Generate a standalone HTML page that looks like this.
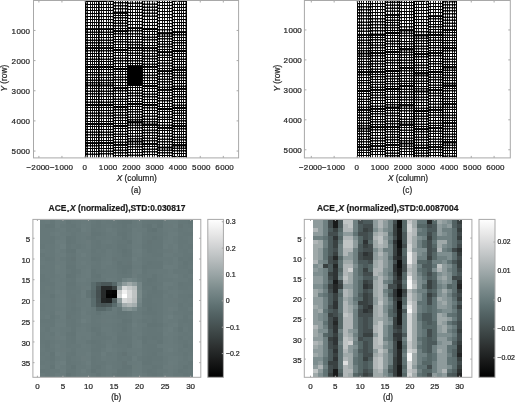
<!DOCTYPE html><html><head><meta charset="utf-8"><title>figure</title><style>html,body{margin:0;padding:0;background:#fff}svg{display:block}text{font-family:"Liberation Sans", Arial, Helvetica, sans-serif;stroke:#262626;stroke-width:0.22px}</style></head><body>
<svg width="515" height="402" viewBox="0 0 515 402">
<rect width="515" height="402" fill="#fff"/>
<defs><filter id="ctr" x="0" y="0" width="1" height="1" color-interpolation-filters="sRGB"><feComponentTransfer><feFuncR type="linear" slope="1.9" intercept="-0.35"/><feFuncG type="linear" slope="1.9" intercept="-0.35"/><feFuncB type="linear" slope="1.9" intercept="-0.35"/></feComponentTransfer></filter></defs>
<g fill="none" stroke="#000" filter="url(#ctr)">
<rect x="85.70" y="0" width="100.60" height="157.6" fill="#fff" stroke="none"/>
<path d="M87.50 0.00V29.30M90.50 0.00V29.30M92.50 0.00V29.30M94.50 0.00V29.30M96.50 0.00V29.30M87.50 29.30V48.20M90.50 29.30V48.20M92.50 29.30V48.20M94.50 29.30V48.20M96.50 29.30V48.20M87.50 48.20V67.10M90.50 48.20V67.10M92.50 48.20V67.10M94.50 48.20V67.10M96.50 48.20V67.10M87.50 67.10V85.50M90.50 67.10V85.50M92.50 67.10V85.50M94.50 67.10V85.50M96.50 67.10V85.50M87.50 85.50V105.00M90.50 85.50V105.00M92.50 85.50V105.00M94.50 85.50V105.00M96.50 85.50V105.00M87.50 105.00V124.00M90.50 105.00V124.00M92.50 105.00V124.00M94.50 105.00V124.00M96.50 105.00V124.00M87.50 124.00V143.20M90.50 124.00V143.20M92.50 124.00V143.20M94.50 124.00V143.20M96.50 124.00V143.20M87.50 143.20V157.60M90.50 143.20V157.60M92.50 143.20V157.60M94.50 143.20V157.60M96.50 143.20V157.60M101.50 0.00V29.30M103.50 0.00V29.30M106.50 0.00V29.30M108.50 0.00V29.30M110.50 0.00V29.30M101.50 29.30V48.20M103.50 29.30V48.20M106.50 29.30V48.20M108.50 29.30V48.20M110.50 29.30V48.20M101.50 48.20V67.10M103.50 48.20V67.10M106.50 48.20V67.10M108.50 48.20V67.10M110.50 48.20V67.10M101.50 67.10V85.50M103.50 67.10V85.50M106.50 67.10V85.50M108.50 67.10V85.50M110.50 67.10V85.50M101.50 85.50V105.00M103.50 85.50V105.00M106.50 85.50V105.00M108.50 85.50V105.00M110.50 85.50V105.00M101.50 105.00V124.00M103.50 105.00V124.00M106.50 105.00V124.00M108.50 105.00V124.00M110.50 105.00V124.00M101.50 124.00V143.00M103.50 124.00V143.00M106.50 124.00V143.00M108.50 124.00V143.00M110.50 124.00V143.00M101.50 143.00V157.60M103.50 143.00V157.60M106.50 143.00V157.60M108.50 143.00V157.60M110.50 143.00V157.60M115.50 0.00V12.60M118.50 0.00V12.60M120.50 0.00V12.60M122.50 0.00V12.60M125.50 0.00V12.60M115.50 12.60V31.20M118.50 12.60V31.20M120.50 12.60V31.20M122.50 12.60V31.20M125.50 12.60V31.20M115.50 31.20V50.00M118.50 31.20V50.00M120.50 31.20V50.00M122.50 31.20V50.00M125.50 31.20V50.00M115.50 50.00V69.00M118.50 50.00V69.00M120.50 50.00V69.00M122.50 50.00V69.00M125.50 50.00V69.00M115.50 69.00V88.20M118.50 69.00V88.20M120.50 69.00V88.20M122.50 69.00V88.20M125.50 69.00V88.20M115.50 88.20V107.10M118.50 88.20V107.10M120.50 88.20V107.10M122.50 88.20V107.10M125.50 88.20V107.10M115.50 107.10V126.00M118.50 107.10V126.00M120.50 107.10V126.00M122.50 107.10V126.00M125.50 107.10V126.00M115.50 126.00V144.80M118.50 126.00V144.80M120.50 126.00V144.80M122.50 126.00V144.80M125.50 126.00V144.80M115.50 144.80V157.60M118.50 144.80V157.60M120.50 144.80V157.60M122.50 144.80V157.60M125.50 144.80V157.60M130.50 0.00V28.20M132.50 0.00V28.20M135.50 0.00V28.20M137.50 0.00V28.20M139.50 0.00V28.20M130.50 28.20V47.70M132.50 28.20V47.70M135.50 28.20V47.70M137.50 28.20V47.70M139.50 28.20V47.70M130.50 47.70V66.30M132.50 47.70V66.30M135.50 47.70V66.30M137.50 47.70V66.30M139.50 47.70V66.30M130.50 66.30V85.00M132.50 66.30V85.00M135.50 66.30V85.00M137.50 66.30V85.00M139.50 66.30V85.00M130.50 85.00V104.00M132.50 85.00V104.00M135.50 85.00V104.00M137.50 85.00V104.00M139.50 85.00V104.00M130.50 104.00V122.40M132.50 104.00V122.40M135.50 104.00V122.40M137.50 104.00V122.40M139.50 104.00V122.40M130.50 122.40V141.50M132.50 122.40V141.50M135.50 122.40V141.50M137.50 122.40V141.50M139.50 122.40V141.50M130.50 141.50V157.60M132.50 141.50V157.60M135.50 141.50V157.60M137.50 141.50V157.60M139.50 141.50V157.60M144.50 0.00V29.00M147.50 0.00V29.00M149.50 0.00V29.00M152.50 0.00V29.00M154.50 0.00V29.00M144.50 29.00V48.20M147.50 29.00V48.20M149.50 29.00V48.20M152.50 29.00V48.20M154.50 29.00V48.20M144.50 48.20V66.80M147.50 48.20V66.80M149.50 48.20V66.80M152.50 48.20V66.80M154.50 48.20V66.80M144.50 66.80V86.00M147.50 66.80V86.00M149.50 66.80V86.00M152.50 66.80V86.00M154.50 66.80V86.00M144.50 86.00V105.00M147.50 86.00V105.00M149.50 86.00V105.00M152.50 86.00V105.00M154.50 86.00V105.00M144.50 105.00V124.60M147.50 105.00V124.60M149.50 105.00V124.60M152.50 105.00V124.60M154.50 105.00V124.60M144.50 124.60V143.70M147.50 124.60V143.70M149.50 124.60V143.70M152.50 124.60V143.70M154.50 124.60V143.70M144.50 143.70V157.60M147.50 143.70V157.60M149.50 143.70V157.60M152.50 143.70V157.60M154.50 143.70V157.60M159.50 0.00V33.40M162.50 0.00V33.40M164.50 0.00V33.40M167.50 0.00V33.40M169.50 0.00V33.40M159.50 33.40V52.30M162.50 33.40V52.30M164.50 33.40V52.30M167.50 33.40V52.30M169.50 33.40V52.30M159.50 52.30V71.20M162.50 52.30V71.20M164.50 52.30V71.20M167.50 52.30V71.20M169.50 52.30V71.20M159.50 71.20V89.80M162.50 71.20V89.80M164.50 71.20V89.80M167.50 71.20V89.80M169.50 71.20V89.80M159.50 89.80V109.00M162.50 89.80V109.00M164.50 89.80V109.00M167.50 89.80V109.00M169.50 89.80V109.00M159.50 109.00V127.80M162.50 109.00V127.80M164.50 109.00V127.80M167.50 109.00V127.80M169.50 109.00V127.80M159.50 127.80V147.50M162.50 127.80V147.50M164.50 127.80V147.50M167.50 127.80V147.50M169.50 127.80V147.50M159.50 147.50V157.60M162.50 147.50V157.60M164.50 147.50V157.60M167.50 147.50V157.60M169.50 147.50V157.60M174.50 0.00V32.30M177.50 0.00V32.30M179.50 0.00V32.30M181.50 0.00V32.30M183.50 0.00V32.30M174.50 32.30V51.00M177.50 32.30V51.00M179.50 32.30V51.00M181.50 32.30V51.00M183.50 32.30V51.00M174.50 51.00V69.80M177.50 51.00V69.80M179.50 51.00V69.80M181.50 51.00V69.80M183.50 51.00V69.80M174.50 69.80V88.80M177.50 69.80V88.80M179.50 69.80V88.80M181.50 69.80V88.80M183.50 69.80V88.80M174.50 88.80V107.90M177.50 88.80V107.90M179.50 88.80V107.90M181.50 88.80V107.90M183.50 88.80V107.90M174.50 107.90V126.20M177.50 107.90V126.20M179.50 107.90V126.20M181.50 107.90V126.20M183.50 107.90V126.20M174.50 126.20V145.40M177.50 126.20V145.40M179.50 126.20V145.40M181.50 126.20V145.40M183.50 126.20V145.40M174.50 145.40V157.60M177.50 145.40V157.60M179.50 145.40V157.60M181.50 145.40V157.60M183.50 145.40V157.60" stroke-width="1.00" stroke="#484848"/>
<path d="M85.70 25.65H98.80M85.70 22.60H98.80M85.70 19.55H98.80M85.70 16.50H98.80M85.70 13.45H98.80M85.70 10.40H98.80M85.70 7.35H98.80M85.70 4.30H98.80M85.70 1.25H98.80M85.70 32.00H98.80M85.70 34.70H98.80M85.70 37.40H98.80M85.70 40.10H98.80M85.70 42.80H98.80M85.70 45.50H98.80M85.70 50.90H98.80M85.70 53.60H98.80M85.70 56.30H98.80M85.70 59.00H98.80M85.70 61.70H98.80M85.70 64.40H98.80M85.70 69.73H98.80M85.70 72.36H98.80M85.70 74.99H98.80M85.70 77.61H98.80M85.70 80.24H98.80M85.70 82.87H98.80M85.70 88.29H98.80M85.70 91.07H98.80M85.70 93.86H98.80M85.70 96.64H98.80M85.70 99.43H98.80M85.70 102.21H98.80M85.70 107.71H98.80M85.70 110.43H98.80M85.70 113.14H98.80M85.70 115.86H98.80M85.70 118.57H98.80M85.70 121.29H98.80M85.70 126.74H98.80M85.70 129.49H98.80M85.70 132.23H98.80M85.70 134.97H98.80M85.70 137.71H98.80M85.70 140.46H98.80M85.70 145.92H98.80M85.70 148.64H98.80M85.70 151.36H98.80M85.70 154.08H98.80M98.80 25.65H113.40M98.80 22.60H113.40M98.80 19.55H113.40M98.80 16.50H113.40M98.80 13.45H113.40M98.80 10.40H113.40M98.80 7.35H113.40M98.80 4.30H113.40M98.80 1.25H113.40M98.80 32.00H113.40M98.80 34.70H113.40M98.80 37.40H113.40M98.80 40.10H113.40M98.80 42.80H113.40M98.80 45.50H113.40M98.80 50.90H113.40M98.80 53.60H113.40M98.80 56.30H113.40M98.80 59.00H113.40M98.80 61.70H113.40M98.80 64.40H113.40M98.80 69.73H113.40M98.80 72.36H113.40M98.80 74.99H113.40M98.80 77.61H113.40M98.80 80.24H113.40M98.80 82.87H113.40M98.80 88.29H113.40M98.80 91.07H113.40M98.80 93.86H113.40M98.80 96.64H113.40M98.80 99.43H113.40M98.80 102.21H113.40M98.80 107.71H113.40M98.80 110.43H113.40M98.80 113.14H113.40M98.80 115.86H113.40M98.80 118.57H113.40M98.80 121.29H113.40M98.80 126.71H113.40M98.80 129.43H113.40M98.80 132.14H113.40M98.80 134.86H113.40M98.80 137.57H113.40M98.80 140.29H113.40M98.80 145.72H113.40M98.80 148.44H113.40M98.80 151.16H113.40M98.80 153.88H113.40M113.40 8.95H127.60M113.40 5.90H127.60M113.40 2.85H127.60M113.40 -0.20H127.60M113.40 15.26H127.60M113.40 17.91H127.60M113.40 20.57H127.60M113.40 23.23H127.60M113.40 25.89H127.60M113.40 28.54H127.60M113.40 33.89H127.60M113.40 36.57H127.60M113.40 39.26H127.60M113.40 41.94H127.60M113.40 44.63H127.60M113.40 47.31H127.60M113.40 52.71H127.60M113.40 55.43H127.60M113.40 58.14H127.60M113.40 60.86H127.60M113.40 63.57H127.60M113.40 66.29H127.60M113.40 71.74H127.60M113.40 74.49H127.60M113.40 77.23H127.60M113.40 79.97H127.60M113.40 82.71H127.60M113.40 85.46H127.60M113.40 90.90H127.60M113.40 93.60H127.60M113.40 96.30H127.60M113.40 99.00H127.60M113.40 101.70H127.60M113.40 104.40H127.60M113.40 109.80H127.60M113.40 112.50H127.60M113.40 115.20H127.60M113.40 117.90H127.60M113.40 120.60H127.60M113.40 123.30H127.60M113.40 128.69H127.60M113.40 131.37H127.60M113.40 134.06H127.60M113.40 136.74H127.60M113.40 139.43H127.60M113.40 142.11H127.60M113.40 147.52H127.60M113.40 150.24H127.60M113.40 152.96H127.60M113.40 155.68H127.60M127.60 24.55H142.40M127.60 21.50H142.40M127.60 18.45H142.40M127.60 15.40H142.40M127.60 12.35H142.40M127.60 9.30H142.40M127.60 6.25H142.40M127.60 3.20H142.40M127.60 0.15H142.40M127.60 30.99H142.40M127.60 33.77H142.40M127.60 36.56H142.40M127.60 39.34H142.40M127.60 42.13H142.40M127.60 44.91H142.40M127.60 50.36H142.40M127.60 53.01H142.40M127.60 55.67H142.40M127.60 58.33H142.40M127.60 60.99H142.40M127.60 63.64H142.40M127.60 68.97H142.40M127.60 71.64H142.40M127.60 74.31H142.40M127.60 76.99H142.40M127.60 79.66H142.40M127.60 82.33H142.40M127.60 87.71H142.40M127.60 90.43H142.40M127.60 93.14H142.40M127.60 95.86H142.40M127.60 98.57H142.40M127.60 101.29H142.40M127.60 106.63H142.40M127.60 109.26H142.40M127.60 111.89H142.40M127.60 114.51H142.40M127.60 117.14H142.40M127.60 119.77H142.40M127.60 125.13H142.40M127.60 127.86H142.40M127.60 130.59H142.40M127.60 133.31H142.40M127.60 136.04H142.40M127.60 138.77H142.40M127.60 144.22H142.40M127.60 146.94H142.40M127.60 149.66H142.40M127.60 152.38H142.40M127.60 155.10H142.40M142.40 25.35H157.50M142.40 22.30H157.50M142.40 19.25H157.50M142.40 16.20H157.50M142.40 13.15H157.50M142.40 10.10H157.50M142.40 7.05H157.50M142.40 4.00H157.50M142.40 0.95H157.50M142.40 31.74H157.50M142.40 34.49H157.50M142.40 37.23H157.50M142.40 39.97H157.50M142.40 42.71H157.50M142.40 45.46H157.50M142.40 50.86H157.50M142.40 53.51H157.50M142.40 56.17H157.50M142.40 58.83H157.50M142.40 61.49H157.50M142.40 64.14H157.50M142.40 69.54H157.50M142.40 72.29H157.50M142.40 75.03H157.50M142.40 77.77H157.50M142.40 80.51H157.50M142.40 83.26H157.50M142.40 88.71H157.50M142.40 91.43H157.50M142.40 94.14H157.50M142.40 96.86H157.50M142.40 99.57H157.50M142.40 102.29H157.50M142.40 107.80H157.50M142.40 110.60H157.50M142.40 113.40H157.50M142.40 116.20H157.50M142.40 119.00H157.50M142.40 121.80H157.50M142.40 127.33H157.50M142.40 130.06H157.50M142.40 132.79H157.50M142.40 135.51H157.50M142.40 138.24H157.50M142.40 140.97H157.50M142.40 146.42H157.50M142.40 149.14H157.50M142.40 151.86H157.50M142.40 154.58H157.50M157.50 29.75H172.40M157.50 26.70H172.40M157.50 23.65H172.40M157.50 20.60H172.40M157.50 17.55H172.40M157.50 14.50H172.40M157.50 11.45H172.40M157.50 8.40H172.40M157.50 5.35H172.40M157.50 2.30H172.40M157.50 -0.75H172.40M157.50 36.10H172.40M157.50 38.80H172.40M157.50 41.50H172.40M157.50 44.20H172.40M157.50 46.90H172.40M157.50 49.60H172.40M157.50 55.00H172.40M157.50 57.70H172.40M157.50 60.40H172.40M157.50 63.10H172.40M157.50 65.80H172.40M157.50 68.50H172.40M157.50 73.86H172.40M157.50 76.51H172.40M157.50 79.17H172.40M157.50 81.83H172.40M157.50 84.49H172.40M157.50 87.14H172.40M157.50 92.54H172.40M157.50 95.29H172.40M157.50 98.03H172.40M157.50 100.77H172.40M157.50 103.51H172.40M157.50 106.26H172.40M157.50 111.69H172.40M157.50 114.37H172.40M157.50 117.06H172.40M157.50 119.74H172.40M157.50 122.43H172.40M157.50 125.11H172.40M157.50 130.61H172.40M157.50 133.43H172.40M157.50 136.24H172.40M157.50 139.06H172.40M157.50 141.87H172.40M157.50 144.69H172.40M157.50 150.22H172.40M157.50 152.94H172.40M157.50 155.66H172.40M172.40 28.65H186.30M172.40 25.60H186.30M172.40 22.55H186.30M172.40 19.50H186.30M172.40 16.45H186.30M172.40 13.40H186.30M172.40 10.35H186.30M172.40 7.30H186.30M172.40 4.25H186.30M172.40 1.20H186.30M172.40 34.97H186.30M172.40 37.64H186.30M172.40 40.31H186.30M172.40 42.99H186.30M172.40 45.66H186.30M172.40 48.33H186.30M172.40 53.69H186.30M172.40 56.37H186.30M172.40 59.06H186.30M172.40 61.74H186.30M172.40 64.43H186.30M172.40 67.11H186.30M172.40 72.51H186.30M172.40 75.23H186.30M172.40 77.94H186.30M172.40 80.66H186.30M172.40 83.37H186.30M172.40 86.09H186.30M172.40 91.53H186.30M172.40 94.26H186.30M172.40 96.99H186.30M172.40 99.71H186.30M172.40 102.44H186.30M172.40 105.17H186.30M172.40 110.51H186.30M172.40 113.13H186.30M172.40 115.74H186.30M172.40 118.36H186.30M172.40 120.97H186.30M172.40 123.59H186.30M172.40 128.94H186.30M172.40 131.69H186.30M172.40 134.43H186.30M172.40 137.17H186.30M172.40 139.91H186.30M172.40 142.66H186.30M172.40 148.12H186.30M172.40 150.84H186.30M172.40 153.56H186.30M172.40 156.28H186.30" stroke-width="1.25"/>
<path d="M85.70 29.30H98.80M85.70 48.20H98.80M85.70 67.10H98.80M85.70 85.50H98.80M85.70 105.00H98.80M85.70 124.00H98.80M85.70 143.20H98.80M98.80 29.30H113.40M98.80 48.20H113.40M98.80 67.10H113.40M98.80 85.50H113.40M98.80 105.00H113.40M98.80 124.00H113.40M98.80 143.00H113.40M113.40 12.60H127.60M113.40 31.20H127.60M113.40 50.00H127.60M113.40 69.00H127.60M113.40 88.20H127.60M113.40 107.10H127.60M113.40 126.00H127.60M113.40 144.80H127.60M127.60 28.20H142.40M127.60 47.70H142.40M127.60 66.30H142.40M127.60 85.00H142.40M127.60 104.00H142.40M127.60 122.40H142.40M127.60 141.50H142.40M142.40 29.00H157.50M142.40 48.20H157.50M142.40 66.80H157.50M142.40 86.00H157.50M142.40 105.00H157.50M142.40 124.60H157.50M142.40 143.70H157.50M157.50 33.40H172.40M157.50 52.30H172.40M157.50 71.20H172.40M157.50 89.80H172.40M157.50 109.00H172.40M157.50 127.80H172.40M157.50 147.50H172.40M172.40 32.30H186.30M172.40 51.00H186.30M172.40 69.80H186.30M172.40 88.80H186.30M172.40 107.90H186.30M172.40 126.20H186.30M172.40 145.40H186.30" stroke-width="2.10"/>
<path d="M85.70 0.00V157.60M98.80 0.00V157.60M113.40 0.00V157.60M127.60 0.00V157.60M142.40 0.00V157.60M157.50 0.00V157.60M172.40 0.00V157.60M186.30 0.00V157.60" stroke-width="1.60"/>
</g>
<rect x="127.7" y="66.3" width="14.8" height="18.7" fill="#000"/>
<rect x="33.50" y="0.50" width="205.10" height="157.40" fill="none" stroke="#a8a8a8" stroke-width="1"/>
<path d="M38.90 157.90v-2M38.90 0.50v2M61.95 157.90v-2M61.95 0.50v2M85.00 157.90v-2M85.00 0.50v2M108.05 157.90v-2M108.05 0.50v2M131.10 157.90v-2M131.10 0.50v2M154.15 157.90v-2M154.15 0.50v2M177.20 157.90v-2M177.20 0.50v2M200.25 157.90v-2M200.25 0.50v2M223.30 157.90v-2M223.30 0.50v2M33.50 30.45h2M238.60 30.45h-2M33.50 60.60h2M238.60 60.60h-2M33.50 90.75h2M238.60 90.75h-2M33.50 120.90h2M238.60 120.90h-2M33.50 151.05h2M238.60 151.05h-2" stroke="#a8a8a8" stroke-width="1" fill="none"/>
<text x="38.10" y="169.8" font-size="8" text-anchor="middle" fill="#262626">−2<tspan dx="0.5">000</tspan></text>
<text x="61.40" y="169.8" font-size="8" text-anchor="middle" fill="#262626">−1<tspan dx="0.5">000</tspan></text>
<text x="84.70" y="169.8" font-size="8" text-anchor="middle" fill="#262626">0</text>
<text x="108.00" y="169.8" font-size="8" text-anchor="middle" fill="#262626">1<tspan dx="0.5">000</tspan></text>
<text x="131.30" y="169.8" font-size="8" text-anchor="middle" fill="#262626">2<tspan dx="0.5">000</tspan></text>
<text x="154.60" y="169.8" font-size="8" text-anchor="middle" fill="#262626">3<tspan dx="0.5">000</tspan></text>
<text x="177.90" y="169.8" font-size="8" text-anchor="middle" fill="#262626">4<tspan dx="0.5">000</tspan></text>
<text x="201.20" y="169.8" font-size="8" text-anchor="middle" fill="#262626">5<tspan dx="0.5">000</tspan></text>
<text x="224.50" y="169.8" font-size="8" text-anchor="middle" fill="#262626">6<tspan dx="0.5">000</tspan></text>
<text x="29.90" y="33.55" font-size="8" text-anchor="end" fill="#262626">1<tspan dx="0.5">000</tspan></text>
<text x="29.90" y="63.70" font-size="8" text-anchor="end" fill="#262626">2<tspan dx="0.5">000</tspan></text>
<text x="29.90" y="93.85" font-size="8" text-anchor="end" fill="#262626">3<tspan dx="0.5">000</tspan></text>
<text x="29.90" y="124.00" font-size="8" text-anchor="end" fill="#262626">4<tspan dx="0.5">000</tspan></text>
<text x="29.90" y="154.15" font-size="8" text-anchor="end" fill="#262626">5<tspan dx="0.5">000</tspan></text>
<text x="136.75" y="181.4" font-size="8.3" text-anchor="middle" fill="#262626"><tspan font-style="italic">X</tspan> (column)</text>
<text x="136.05" y="192.8" font-size="8.2" text-anchor="middle" fill="#262626">(a)</text>
<text transform="translate(7.40 78.2) rotate(-90)" font-size="8.3" text-anchor="middle" fill="#262626"><tspan font-style="italic">Y</tspan> (row)</text>
<g fill="none" stroke="#000" filter="url(#ctr)">
<rect x="357.40" y="0" width="99.40" height="157.6" fill="#fff" stroke="none"/>
<path d="M359.50 0.00V34.80M361.50 0.00V34.80M363.50 0.00V34.80M366.50 0.00V34.80M368.50 0.00V34.80M359.50 34.80V53.50M361.50 34.80V53.50M363.50 34.80V53.50M366.50 34.80V53.50M368.50 34.80V53.50M359.50 53.50V72.30M361.50 53.50V72.30M363.50 53.50V72.30M366.50 53.50V72.30M368.50 53.50V72.30M359.50 72.30V91.00M361.50 72.30V91.00M363.50 72.30V91.00M366.50 72.30V91.00M368.50 72.30V91.00M359.50 91.00V109.80M361.50 91.00V109.80M363.50 91.00V109.80M366.50 91.00V109.80M368.50 91.00V109.80M359.50 109.80V128.50M361.50 109.80V128.50M363.50 109.80V128.50M366.50 109.80V128.50M368.50 109.80V128.50M359.50 128.50V147.30M361.50 128.50V147.30M363.50 128.50V147.30M366.50 128.50V147.30M368.50 128.50V147.30M359.50 147.30V157.60M361.50 147.30V157.60M363.50 147.30V157.60M366.50 147.30V157.60M368.50 147.30V157.60M372.50 0.00V34.60M375.50 0.00V34.60M377.50 0.00V34.60M380.50 0.00V34.60M382.50 0.00V34.60M372.50 34.60V53.20M375.50 34.60V53.20M377.50 34.60V53.20M380.50 34.60V53.20M382.50 34.60V53.20M372.50 53.20V71.70M375.50 53.20V71.70M377.50 53.20V71.70M380.50 53.20V71.70M382.50 53.20V71.70M372.50 71.70V89.80M375.50 71.70V89.80M377.50 71.70V89.80M380.50 71.70V89.80M382.50 71.70V89.80M372.50 89.80V108.70M375.50 89.80V108.70M377.50 89.80V108.70M380.50 89.80V108.70M382.50 89.80V108.70M372.50 108.70V127.20M375.50 108.70V127.20M377.50 108.70V127.20M380.50 108.70V127.20M382.50 108.70V127.20M372.50 127.20V146.30M375.50 127.20V146.30M377.50 127.20V146.30M380.50 127.20V146.30M382.50 127.20V146.30M372.50 146.30V157.60M375.50 146.30V157.60M377.50 146.30V157.60M380.50 146.30V157.60M382.50 146.30V157.60M387.50 0.00V14.80M390.50 0.00V14.80M392.50 0.00V14.80M394.50 0.00V14.80M397.50 0.00V14.80M387.50 14.80V33.00M390.50 14.80V33.00M392.50 14.80V33.00M394.50 14.80V33.00M397.50 14.80V33.00M387.50 33.00V52.00M390.50 33.00V52.00M392.50 33.00V52.00M394.50 33.00V52.00M397.50 33.00V52.00M387.50 52.00V71.00M390.50 52.00V71.00M392.50 52.00V71.00M394.50 52.00V71.00M397.50 52.00V71.00M387.50 71.00V89.10M390.50 71.00V89.10M392.50 71.00V89.10M394.50 71.00V89.10M397.50 71.00V89.10M387.50 89.10V107.60M390.50 89.10V107.60M392.50 89.10V107.60M394.50 89.10V107.60M397.50 89.10V107.60M387.50 107.60V126.70M390.50 107.60V126.70M392.50 107.60V126.70M394.50 107.60V126.70M397.50 107.60V126.70M387.50 126.70V145.00M390.50 126.70V145.00M392.50 126.70V145.00M394.50 126.70V145.00M397.50 126.70V145.00M387.50 145.00V157.60M390.50 145.00V157.60M392.50 145.00V157.60M394.50 145.00V157.60M397.50 145.00V157.60M401.50 0.00V30.40M404.50 0.00V30.40M406.50 0.00V30.40M409.50 0.00V30.40M411.50 0.00V30.40M401.50 30.40V49.40M404.50 30.40V49.40M406.50 30.40V49.40M409.50 30.40V49.40M411.50 30.40V49.40M401.50 49.40V68.20M404.50 49.40V68.20M406.50 49.40V68.20M409.50 49.40V68.20M411.50 49.40V68.20M401.50 68.20V86.30M404.50 68.20V86.30M406.50 68.20V86.30M409.50 68.20V86.30M411.50 68.20V86.30M401.50 86.30V105.40M404.50 86.30V105.40M406.50 86.30V105.40M409.50 86.30V105.40M411.50 86.30V105.40M401.50 105.40V124.60M404.50 105.40V124.60M406.50 105.40V124.60M409.50 105.40V124.60M411.50 105.40V124.60M401.50 124.60V143.50M404.50 124.60V143.50M406.50 124.60V143.50M409.50 124.60V143.50M411.50 124.60V143.50M401.50 143.50V157.60M404.50 143.50V157.60M406.50 143.50V157.60M409.50 143.50V157.60M411.50 143.50V157.60M416.50 0.00V35.40M418.50 0.00V35.40M421.50 0.00V35.40M423.50 0.00V35.40M426.50 0.00V35.40M416.50 35.40V54.20M418.50 35.40V54.20M421.50 35.40V54.20M423.50 35.40V54.20M426.50 35.40V54.20M416.50 54.20V73.40M418.50 54.20V73.40M421.50 54.20V73.40M423.50 54.20V73.40M426.50 54.20V73.40M416.50 73.40V91.50M418.50 73.40V91.50M421.50 73.40V91.50M423.50 73.40V91.50M426.50 73.40V91.50M416.50 91.50V110.90M418.50 91.50V110.90M421.50 91.50V110.90M423.50 91.50V110.90M426.50 91.50V110.90M416.50 110.90V129.30M418.50 110.90V129.30M421.50 110.90V129.30M423.50 110.90V129.30M426.50 110.90V129.30M416.50 129.30V147.80M418.50 129.30V147.80M421.50 129.30V147.80M423.50 129.30V147.80M426.50 129.30V147.80M416.50 147.80V157.60M418.50 147.80V157.60M421.50 147.80V157.60M423.50 147.80V157.60M426.50 147.80V157.60M430.50 0.00V16.30M433.50 0.00V16.30M435.50 0.00V16.30M438.50 0.00V16.30M440.50 0.00V16.30M430.50 16.30V34.90M433.50 16.30V34.90M435.50 16.30V34.90M438.50 16.30V34.90M440.50 16.30V34.90M430.50 34.90V53.20M433.50 34.90V53.20M435.50 34.90V53.20M438.50 34.90V53.20M440.50 34.90V53.20M430.50 53.20V72.00M433.50 53.20V72.00M435.50 53.20V72.00M438.50 53.20V72.00M440.50 53.20V72.00M430.50 72.00V90.20M433.50 72.00V90.20M435.50 72.00V90.20M438.50 72.00V90.20M440.50 72.00V90.20M430.50 90.20V109.80M433.50 90.20V109.80M435.50 90.20V109.80M438.50 90.20V109.80M440.50 90.20V109.80M430.50 109.80V128.30M433.50 109.80V128.30M435.50 109.80V128.30M438.50 109.80V128.30M440.50 109.80V128.30M430.50 128.30V147.20M433.50 128.30V147.20M435.50 128.30V147.20M438.50 128.30V147.20M440.50 128.30V147.20M430.50 147.20V157.60M433.50 147.20V157.60M435.50 147.20V157.60M438.50 147.20V157.60M440.50 147.20V157.60M445.50 0.00V29.80M447.50 0.00V29.80M449.50 0.00V29.80M452.50 0.00V29.80M454.50 0.00V29.80M445.50 29.80V48.20M447.50 29.80V48.20M449.50 29.80V48.20M452.50 29.80V48.20M454.50 29.80V48.20M445.50 48.20V67.40M447.50 48.20V67.40M449.50 48.20V67.40M452.50 48.20V67.40M454.50 48.20V67.40M445.50 67.40V85.60M447.50 67.40V85.60M449.50 67.40V85.60M452.50 67.40V85.60M454.50 67.40V85.60M445.50 85.60V104.30M447.50 85.60V104.30M449.50 85.60V104.30M452.50 85.60V104.30M454.50 85.60V104.30M445.50 104.30V123.30M447.50 104.30V123.30M449.50 104.30V123.30M452.50 104.30V123.30M454.50 104.30V123.30M445.50 123.30V142.40M447.50 123.30V142.40M449.50 123.30V142.40M452.50 123.30V142.40M454.50 123.30V142.40M445.50 142.40V157.60M447.50 142.40V157.60M449.50 142.40V157.60M452.50 142.40V157.60M454.50 142.40V157.60" stroke-width="1.00" stroke="#484848"/>
<path d="M357.40 31.15H370.50M357.40 28.10H370.50M357.40 25.05H370.50M357.40 22.00H370.50M357.40 18.95H370.50M357.40 15.90H370.50M357.40 12.85H370.50M357.40 9.80H370.50M357.40 6.75H370.50M357.40 3.70H370.50M357.40 0.65H370.50M357.40 37.47H370.50M357.40 40.14H370.50M357.40 42.81H370.50M357.40 45.49H370.50M357.40 48.16H370.50M357.40 50.83H370.50M357.40 56.19H370.50M357.40 58.87H370.50M357.40 61.56H370.50M357.40 64.24H370.50M357.40 66.93H370.50M357.40 69.61H370.50M357.40 74.97H370.50M357.40 77.64H370.50M357.40 80.31H370.50M357.40 82.99H370.50M357.40 85.66H370.50M357.40 88.33H370.50M357.40 93.69H370.50M357.40 96.37H370.50M357.40 99.06H370.50M357.40 101.74H370.50M357.40 104.43H370.50M357.40 107.11H370.50M357.40 112.47H370.50M357.40 115.14H370.50M357.40 117.81H370.50M357.40 120.49H370.50M357.40 123.16H370.50M357.40 125.83H370.50M357.40 131.19H370.50M357.40 133.87H370.50M357.40 136.56H370.50M357.40 139.24H370.50M357.40 141.93H370.50M357.40 144.61H370.50M357.40 150.02H370.50M357.40 152.74H370.50M357.40 155.46H370.50M370.50 30.95H385.30M370.50 27.90H385.30M370.50 24.85H385.30M370.50 21.80H385.30M370.50 18.75H385.30M370.50 15.70H385.30M370.50 12.65H385.30M370.50 9.60H385.30M370.50 6.55H385.30M370.50 3.50H385.30M370.50 0.45H385.30M370.50 37.26H385.30M370.50 39.91H385.30M370.50 42.57H385.30M370.50 45.23H385.30M370.50 47.89H385.30M370.50 50.54H385.30M370.50 55.84H385.30M370.50 58.49H385.30M370.50 61.13H385.30M370.50 63.77H385.30M370.50 66.41H385.30M370.50 69.06H385.30M370.50 74.29H385.30M370.50 76.87H385.30M370.50 79.46H385.30M370.50 82.04H385.30M370.50 84.63H385.30M370.50 87.21H385.30M370.50 92.50H385.30M370.50 95.20H385.30M370.50 97.90H385.30M370.50 100.60H385.30M370.50 103.30H385.30M370.50 106.00H385.30M370.50 111.34H385.30M370.50 113.99H385.30M370.50 116.63H385.30M370.50 119.27H385.30M370.50 121.91H385.30M370.50 124.56H385.30M370.50 129.93H385.30M370.50 132.66H385.30M370.50 135.39H385.30M370.50 138.11H385.30M370.50 140.84H385.30M370.50 143.57H385.30M370.50 149.02H385.30M370.50 151.74H385.30M370.50 154.46H385.30M385.30 11.15H399.50M385.30 8.10H399.50M385.30 5.05H399.50M385.30 2.00H399.50M385.30 17.40H399.50M385.30 20.00H399.50M385.30 22.60H399.50M385.30 25.20H399.50M385.30 27.80H399.50M385.30 30.40H399.50M385.30 35.71H399.50M385.30 38.43H399.50M385.30 41.14H399.50M385.30 43.86H399.50M385.30 46.57H399.50M385.30 49.29H399.50M385.30 54.71H399.50M385.30 57.43H399.50M385.30 60.14H399.50M385.30 62.86H399.50M385.30 65.57H399.50M385.30 68.29H399.50M385.30 73.59H399.50M385.30 76.17H399.50M385.30 78.76H399.50M385.30 81.34H399.50M385.30 83.93H399.50M385.30 86.51H399.50M385.30 91.74H399.50M385.30 94.39H399.50M385.30 97.03H399.50M385.30 99.67H399.50M385.30 102.31H399.50M385.30 104.96H399.50M385.30 110.33H399.50M385.30 113.06H399.50M385.30 115.79H399.50M385.30 118.51H399.50M385.30 121.24H399.50M385.30 123.97H399.50M385.30 129.31H399.50M385.30 131.93H399.50M385.30 134.54H399.50M385.30 137.16H399.50M385.30 139.77H399.50M385.30 142.39H399.50M385.30 147.72H399.50M385.30 150.44H399.50M385.30 153.16H399.50M385.30 155.88H399.50M399.50 26.75H414.00M399.50 23.70H414.00M399.50 20.65H414.00M399.50 17.60H414.00M399.50 14.55H414.00M399.50 11.50H414.00M399.50 8.45H414.00M399.50 5.40H414.00M399.50 2.35H414.00M399.50 -0.70H414.00M399.50 33.11H414.00M399.50 35.83H414.00M399.50 38.54H414.00M399.50 41.26H414.00M399.50 43.97H414.00M399.50 46.69H414.00M399.50 52.09H414.00M399.50 54.77H414.00M399.50 57.46H414.00M399.50 60.14H414.00M399.50 62.83H414.00M399.50 65.51H414.00M399.50 70.79H414.00M399.50 73.37H414.00M399.50 75.96H414.00M399.50 78.54H414.00M399.50 81.13H414.00M399.50 83.71H414.00M399.50 89.03H414.00M399.50 91.76H414.00M399.50 94.49H414.00M399.50 97.21H414.00M399.50 99.94H414.00M399.50 102.67H414.00M399.50 108.14H414.00M399.50 110.89H414.00M399.50 113.63H414.00M399.50 116.37H414.00M399.50 119.11H414.00M399.50 121.86H414.00M399.50 127.30H414.00M399.50 130.00H414.00M399.50 132.70H414.00M399.50 135.40H414.00M399.50 138.10H414.00M399.50 140.80H414.00M399.50 146.22H414.00M399.50 148.94H414.00M399.50 151.66H414.00M399.50 154.38H414.00M414.00 31.75H428.50M414.00 28.70H428.50M414.00 25.65H428.50M414.00 22.60H428.50M414.00 19.55H428.50M414.00 16.50H428.50M414.00 13.45H428.50M414.00 10.40H428.50M414.00 7.35H428.50M414.00 4.30H428.50M414.00 1.25H428.50M414.00 38.09H428.50M414.00 40.77H428.50M414.00 43.46H428.50M414.00 46.14H428.50M414.00 48.83H428.50M414.00 51.51H428.50M414.00 56.94H428.50M414.00 59.69H428.50M414.00 62.43H428.50M414.00 65.17H428.50M414.00 67.91H428.50M414.00 70.66H428.50M414.00 75.99H428.50M414.00 78.57H428.50M414.00 81.16H428.50M414.00 83.74H428.50M414.00 86.33H428.50M414.00 88.91H428.50M414.00 94.27H428.50M414.00 97.04H428.50M414.00 99.81H428.50M414.00 102.59H428.50M414.00 105.36H428.50M414.00 108.13H428.50M414.00 113.53H428.50M414.00 116.16H428.50M414.00 118.79H428.50M414.00 121.41H428.50M414.00 124.04H428.50M414.00 126.67H428.50M414.00 131.94H428.50M414.00 134.59H428.50M414.00 137.23H428.50M414.00 139.87H428.50M414.00 142.51H428.50M414.00 145.16H428.50M414.00 150.52H428.50M414.00 153.24H428.50M414.00 155.96H428.50M428.50 12.65H442.80M428.50 9.60H442.80M428.50 6.55H442.80M428.50 3.50H442.80M428.50 0.45H442.80M428.50 18.96H442.80M428.50 21.61H442.80M428.50 24.27H442.80M428.50 26.93H442.80M428.50 29.59H442.80M428.50 32.24H442.80M428.50 37.51H442.80M428.50 40.13H442.80M428.50 42.74H442.80M428.50 45.36H442.80M428.50 47.97H442.80M428.50 50.59H442.80M428.50 55.89H442.80M428.50 58.57H442.80M428.50 61.26H442.80M428.50 63.94H442.80M428.50 66.63H442.80M428.50 69.31H442.80M428.50 74.60H442.80M428.50 77.20H442.80M428.50 79.80H442.80M428.50 82.40H442.80M428.50 85.00H442.80M428.50 87.60H442.80M428.50 93.00H442.80M428.50 95.80H442.80M428.50 98.60H442.80M428.50 101.40H442.80M428.50 104.20H442.80M428.50 107.00H442.80M428.50 112.44H442.80M428.50 115.09H442.80M428.50 117.73H442.80M428.50 120.37H442.80M428.50 123.01H442.80M428.50 125.66H442.80M428.50 131.00H442.80M428.50 133.70H442.80M428.50 136.40H442.80M428.50 139.10H442.80M428.50 141.80H442.80M428.50 144.50H442.80M428.50 149.92H442.80M428.50 152.64H442.80M428.50 155.36H442.80M442.80 26.15H456.80M442.80 23.10H456.80M442.80 20.05H456.80M442.80 17.00H456.80M442.80 13.95H456.80M442.80 10.90H456.80M442.80 7.85H456.80M442.80 4.80H456.80M442.80 1.75H456.80M442.80 32.43H456.80M442.80 35.06H456.80M442.80 37.69H456.80M442.80 40.31H456.80M442.80 42.94H456.80M442.80 45.57H456.80M442.80 50.94H456.80M442.80 53.69H456.80M442.80 56.43H456.80M442.80 59.17H456.80M442.80 61.91H456.80M442.80 64.66H456.80M442.80 70.00H456.80M442.80 72.60H456.80M442.80 75.20H456.80M442.80 77.80H456.80M442.80 80.40H456.80M442.80 83.00H456.80M442.80 88.27H456.80M442.80 90.94H456.80M442.80 93.61H456.80M442.80 96.29H456.80M442.80 98.96H456.80M442.80 101.63H456.80M442.80 107.01H456.80M442.80 109.73H456.80M442.80 112.44H456.80M442.80 115.16H456.80M442.80 117.87H456.80M442.80 120.59H456.80M442.80 126.03H456.80M442.80 128.76H456.80M442.80 131.49H456.80M442.80 134.21H456.80M442.80 136.94H456.80M442.80 139.67H456.80M442.80 145.12H456.80M442.80 147.84H456.80M442.80 150.56H456.80M442.80 153.28H456.80M442.80 156.00H456.80" stroke-width="1.25"/>
<path d="M357.40 34.80H370.50M357.40 53.50H370.50M357.40 72.30H370.50M357.40 91.00H370.50M357.40 109.80H370.50M357.40 128.50H370.50M357.40 147.30H370.50M370.50 34.60H385.30M370.50 53.20H385.30M370.50 71.70H385.30M370.50 89.80H385.30M370.50 108.70H385.30M370.50 127.20H385.30M370.50 146.30H385.30M385.30 14.80H399.50M385.30 33.00H399.50M385.30 52.00H399.50M385.30 71.00H399.50M385.30 89.10H399.50M385.30 107.60H399.50M385.30 126.70H399.50M385.30 145.00H399.50M399.50 30.40H414.00M399.50 49.40H414.00M399.50 68.20H414.00M399.50 86.30H414.00M399.50 105.40H414.00M399.50 124.60H414.00M399.50 143.50H414.00M414.00 35.40H428.50M414.00 54.20H428.50M414.00 73.40H428.50M414.00 91.50H428.50M414.00 110.90H428.50M414.00 129.30H428.50M414.00 147.80H428.50M428.50 16.30H442.80M428.50 34.90H442.80M428.50 53.20H442.80M428.50 72.00H442.80M428.50 90.20H442.80M428.50 109.80H442.80M428.50 128.30H442.80M428.50 147.20H442.80M442.80 29.80H456.80M442.80 48.20H456.80M442.80 67.40H456.80M442.80 85.60H456.80M442.80 104.30H456.80M442.80 123.30H456.80M442.80 142.40H456.80" stroke-width="2.10"/>
<path d="M357.40 0.00V157.60M370.50 0.00V157.60M385.30 0.00V157.60M399.50 0.00V157.60M414.00 0.00V157.60M428.50 0.00V157.60M442.80 0.00V157.60M456.80 0.00V157.60" stroke-width="1.60"/>
</g>
<rect x="304.40" y="0.50" width="205.90" height="157.40" fill="none" stroke="#a8a8a8" stroke-width="1"/>
<path d="M311.30 157.90v-2M311.30 0.50v2M334.15 157.90v-2M334.15 0.50v2M357.00 157.90v-2M357.00 0.50v2M379.85 157.90v-2M379.85 0.50v2M402.70 157.90v-2M402.70 0.50v2M425.55 157.90v-2M425.55 0.50v2M448.40 157.90v-2M448.40 0.50v2M471.25 157.90v-2M471.25 0.50v2M494.10 157.90v-2M494.10 0.50v2M304.40 29.95h2M510.30 29.95h-2M304.40 59.90h2M510.30 59.90h-2M304.40 89.85h2M510.30 89.85h-2M304.40 119.80h2M510.30 119.80h-2M304.40 149.75h2M510.30 149.75h-2" stroke="#a8a8a8" stroke-width="1" fill="none"/>
<text x="310.50" y="169.8" font-size="8" text-anchor="middle" fill="#262626">−2<tspan dx="0.5">000</tspan></text>
<text x="333.60" y="169.8" font-size="8" text-anchor="middle" fill="#262626">−1<tspan dx="0.5">000</tspan></text>
<text x="356.70" y="169.8" font-size="8" text-anchor="middle" fill="#262626">0</text>
<text x="379.80" y="169.8" font-size="8" text-anchor="middle" fill="#262626">1<tspan dx="0.5">000</tspan></text>
<text x="402.90" y="169.8" font-size="8" text-anchor="middle" fill="#262626">2<tspan dx="0.5">000</tspan></text>
<text x="426.00" y="169.8" font-size="8" text-anchor="middle" fill="#262626">3<tspan dx="0.5">000</tspan></text>
<text x="449.10" y="169.8" font-size="8" text-anchor="middle" fill="#262626">4<tspan dx="0.5">000</tspan></text>
<text x="472.20" y="169.8" font-size="8" text-anchor="middle" fill="#262626">5<tspan dx="0.5">000</tspan></text>
<text x="495.30" y="169.8" font-size="8" text-anchor="middle" fill="#262626">6<tspan dx="0.5">000</tspan></text>
<text x="301.80" y="33.05" font-size="8" text-anchor="end" fill="#262626">1<tspan dx="0.5">000</tspan></text>
<text x="301.80" y="63.00" font-size="8" text-anchor="end" fill="#262626">2<tspan dx="0.5">000</tspan></text>
<text x="301.80" y="92.95" font-size="8" text-anchor="end" fill="#262626">3<tspan dx="0.5">000</tspan></text>
<text x="301.80" y="122.90" font-size="8" text-anchor="end" fill="#262626">4<tspan dx="0.5">000</tspan></text>
<text x="301.80" y="152.85" font-size="8" text-anchor="end" fill="#262626">5<tspan dx="0.5">000</tspan></text>
<text x="408.05" y="181.4" font-size="8.3" text-anchor="middle" fill="#262626"><tspan font-style="italic">X</tspan> (column)</text>
<text x="407.35" y="192.8" font-size="8.2" text-anchor="middle" fill="#262626">(c)</text>
<text transform="translate(280.40 78.2) rotate(-90)" font-size="8.3" text-anchor="middle" fill="#262626"><tspan font-style="italic">Y</tspan> (row)</text>
<g shape-rendering="crispEdges">
<rect x="40.00" y="219.60" width="5.16" height="4.20" fill="#67797a"/>
<rect x="45.11" y="219.60" width="5.16" height="4.20" fill="#687a7b"/>
<rect x="50.21" y="219.60" width="5.16" height="4.20" fill="#657778"/>
<rect x="55.32" y="219.60" width="5.16" height="4.20" fill="#6a7c7d"/>
<rect x="60.43" y="219.60" width="5.16" height="4.20" fill="#697b7c"/>
<rect x="65.53" y="219.60" width="5.16" height="4.20" fill="#647677"/>
<rect x="70.64" y="219.60" width="5.16" height="4.20" fill="#667879"/>
<rect x="75.75" y="219.60" width="5.16" height="4.20" fill="#67797a"/>
<rect x="80.86" y="219.60" width="5.16" height="4.20" fill="#697b7c"/>
<rect x="85.96" y="219.60" width="5.16" height="4.20" fill="#697b7c"/>
<rect x="91.07" y="219.60" width="5.16" height="4.20" fill="#667879"/>
<rect x="96.18" y="219.60" width="5.16" height="4.20" fill="#647677"/>
<rect x="101.28" y="219.60" width="5.16" height="4.20" fill="#67797a"/>
<rect x="106.39" y="219.60" width="5.16" height="4.20" fill="#667879"/>
<rect x="111.50" y="219.60" width="5.16" height="4.20" fill="#667879"/>
<rect x="116.61" y="219.60" width="5.16" height="4.20" fill="#637576"/>
<rect x="121.71" y="219.60" width="5.16" height="4.20" fill="#627475"/>
<rect x="126.82" y="219.60" width="5.16" height="4.20" fill="#627475"/>
<rect x="131.93" y="219.60" width="5.16" height="4.20" fill="#67797a"/>
<rect x="137.03" y="219.60" width="5.16" height="4.20" fill="#697b7c"/>
<rect x="142.14" y="219.60" width="5.16" height="4.20" fill="#657778"/>
<rect x="147.25" y="219.60" width="5.16" height="4.20" fill="#647677"/>
<rect x="152.35" y="219.60" width="5.16" height="4.20" fill="#647677"/>
<rect x="157.46" y="219.60" width="5.16" height="4.20" fill="#637576"/>
<rect x="162.57" y="219.60" width="5.16" height="4.20" fill="#687a7b"/>
<rect x="167.68" y="219.60" width="5.16" height="4.20" fill="#697b7c"/>
<rect x="172.78" y="219.60" width="5.16" height="4.20" fill="#697b7c"/>
<rect x="177.89" y="219.60" width="5.16" height="4.20" fill="#657778"/>
<rect x="183.00" y="219.60" width="5.16" height="4.20" fill="#657778"/>
<rect x="188.10" y="219.60" width="5.16" height="4.20" fill="#637576"/>
<rect x="40.00" y="223.75" width="5.16" height="4.20" fill="#667879"/>
<rect x="45.11" y="223.75" width="5.16" height="4.20" fill="#647677"/>
<rect x="50.21" y="223.75" width="5.16" height="4.20" fill="#647677"/>
<rect x="55.32" y="223.75" width="5.16" height="4.20" fill="#6a7c7d"/>
<rect x="60.43" y="223.75" width="5.16" height="4.20" fill="#67797a"/>
<rect x="65.53" y="223.75" width="5.16" height="4.20" fill="#657778"/>
<rect x="70.64" y="223.75" width="5.16" height="4.20" fill="#647677"/>
<rect x="75.75" y="223.75" width="5.16" height="4.20" fill="#67797a"/>
<rect x="80.86" y="223.75" width="5.16" height="4.20" fill="#6a7c7d"/>
<rect x="85.96" y="223.75" width="5.16" height="4.20" fill="#697b7c"/>
<rect x="91.07" y="223.75" width="5.16" height="4.20" fill="#657778"/>
<rect x="96.18" y="223.75" width="5.16" height="4.20" fill="#647677"/>
<rect x="101.28" y="223.75" width="5.16" height="4.20" fill="#667879"/>
<rect x="106.39" y="223.75" width="5.16" height="4.20" fill="#67797a"/>
<rect x="111.50" y="223.75" width="5.16" height="4.20" fill="#657778"/>
<rect x="116.61" y="223.75" width="5.16" height="4.20" fill="#647677"/>
<rect x="121.71" y="223.75" width="5.16" height="4.20" fill="#627475"/>
<rect x="126.82" y="223.75" width="5.16" height="4.20" fill="#657778"/>
<rect x="131.93" y="223.75" width="5.16" height="4.20" fill="#67797a"/>
<rect x="137.03" y="223.75" width="5.16" height="4.20" fill="#687a7b"/>
<rect x="142.14" y="223.75" width="5.16" height="4.20" fill="#647677"/>
<rect x="147.25" y="223.75" width="5.16" height="4.20" fill="#627475"/>
<rect x="152.35" y="223.75" width="5.16" height="4.20" fill="#667879"/>
<rect x="157.46" y="223.75" width="5.16" height="4.20" fill="#627475"/>
<rect x="162.57" y="223.75" width="5.16" height="4.20" fill="#687a7b"/>
<rect x="167.68" y="223.75" width="5.16" height="4.20" fill="#697a7b"/>
<rect x="172.78" y="223.75" width="5.16" height="4.20" fill="#6a7c7d"/>
<rect x="177.89" y="223.75" width="5.16" height="4.20" fill="#647576"/>
<rect x="183.00" y="223.75" width="5.16" height="4.20" fill="#667879"/>
<rect x="188.10" y="223.75" width="5.16" height="4.20" fill="#657778"/>
<rect x="40.00" y="227.89" width="5.16" height="4.20" fill="#667879"/>
<rect x="45.11" y="227.89" width="5.16" height="4.20" fill="#667879"/>
<rect x="50.21" y="227.89" width="5.16" height="4.20" fill="#667879"/>
<rect x="55.32" y="227.89" width="5.16" height="4.20" fill="#687a7b"/>
<rect x="60.43" y="227.89" width="5.16" height="4.20" fill="#697b7c"/>
<rect x="65.53" y="227.89" width="5.16" height="4.20" fill="#657778"/>
<rect x="70.64" y="227.89" width="5.16" height="4.20" fill="#667879"/>
<rect x="75.75" y="227.89" width="5.16" height="4.20" fill="#657778"/>
<rect x="80.86" y="227.89" width="5.16" height="4.20" fill="#6b7d7e"/>
<rect x="85.96" y="227.89" width="5.16" height="4.20" fill="#697b7c"/>
<rect x="91.07" y="227.89" width="5.16" height="4.20" fill="#647677"/>
<rect x="96.18" y="227.89" width="5.16" height="4.20" fill="#657778"/>
<rect x="101.28" y="227.89" width="5.16" height="4.20" fill="#667879"/>
<rect x="106.39" y="227.89" width="5.16" height="4.20" fill="#697b7c"/>
<rect x="111.50" y="227.89" width="5.16" height="4.20" fill="#67797a"/>
<rect x="116.61" y="227.89" width="5.16" height="4.20" fill="#647677"/>
<rect x="121.71" y="227.89" width="5.16" height="4.20" fill="#637576"/>
<rect x="126.82" y="227.89" width="5.16" height="4.20" fill="#647677"/>
<rect x="131.93" y="227.89" width="5.16" height="4.20" fill="#697b7c"/>
<rect x="137.03" y="227.89" width="5.16" height="4.20" fill="#687a7b"/>
<rect x="142.14" y="227.89" width="5.16" height="4.20" fill="#67797a"/>
<rect x="147.25" y="227.89" width="5.16" height="4.20" fill="#627475"/>
<rect x="152.35" y="227.89" width="5.16" height="4.20" fill="#607273"/>
<rect x="157.46" y="227.89" width="5.16" height="4.20" fill="#657778"/>
<rect x="162.57" y="227.89" width="5.16" height="4.20" fill="#687a7b"/>
<rect x="167.68" y="227.89" width="5.16" height="4.20" fill="#697b7c"/>
<rect x="172.78" y="227.89" width="5.16" height="4.20" fill="#687a7b"/>
<rect x="177.89" y="227.89" width="5.16" height="4.20" fill="#657778"/>
<rect x="183.00" y="227.89" width="5.16" height="4.20" fill="#667879"/>
<rect x="188.10" y="227.89" width="5.16" height="4.20" fill="#67797a"/>
<rect x="40.00" y="232.04" width="5.16" height="4.20" fill="#667879"/>
<rect x="45.11" y="232.04" width="5.16" height="4.20" fill="#667879"/>
<rect x="50.21" y="232.04" width="5.16" height="4.20" fill="#687a7b"/>
<rect x="55.32" y="232.04" width="5.16" height="4.20" fill="#6a7c7d"/>
<rect x="60.43" y="232.04" width="5.16" height="4.20" fill="#687a7b"/>
<rect x="65.53" y="232.04" width="5.16" height="4.20" fill="#67797a"/>
<rect x="70.64" y="232.04" width="5.16" height="4.20" fill="#657778"/>
<rect x="75.75" y="232.04" width="5.16" height="4.20" fill="#67797a"/>
<rect x="80.86" y="232.04" width="5.16" height="4.20" fill="#687a7b"/>
<rect x="85.96" y="232.04" width="5.16" height="4.20" fill="#697a7b"/>
<rect x="91.07" y="232.04" width="5.16" height="4.20" fill="#637576"/>
<rect x="96.18" y="232.04" width="5.16" height="4.20" fill="#637576"/>
<rect x="101.28" y="232.04" width="5.16" height="4.20" fill="#657778"/>
<rect x="106.39" y="232.04" width="5.16" height="4.20" fill="#67797a"/>
<rect x="111.50" y="232.04" width="5.16" height="4.20" fill="#687a7b"/>
<rect x="116.61" y="232.04" width="5.16" height="4.20" fill="#637576"/>
<rect x="121.71" y="232.04" width="5.16" height="4.20" fill="#627475"/>
<rect x="126.82" y="232.04" width="5.16" height="4.20" fill="#657778"/>
<rect x="131.93" y="232.04" width="5.16" height="4.20" fill="#697b7c"/>
<rect x="137.03" y="232.04" width="5.16" height="4.20" fill="#6a7c7d"/>
<rect x="142.14" y="232.04" width="5.16" height="4.20" fill="#667879"/>
<rect x="147.25" y="232.04" width="5.16" height="4.20" fill="#647677"/>
<rect x="152.35" y="232.04" width="5.16" height="4.20" fill="#647677"/>
<rect x="157.46" y="232.04" width="5.16" height="4.20" fill="#657778"/>
<rect x="162.57" y="232.04" width="5.16" height="4.20" fill="#67797a"/>
<rect x="167.68" y="232.04" width="5.16" height="4.20" fill="#6a7c7d"/>
<rect x="172.78" y="232.04" width="5.16" height="4.20" fill="#6a7c7d"/>
<rect x="177.89" y="232.04" width="5.16" height="4.20" fill="#667879"/>
<rect x="183.00" y="232.04" width="5.16" height="4.20" fill="#657778"/>
<rect x="188.10" y="232.04" width="5.16" height="4.20" fill="#657778"/>
<rect x="40.00" y="236.19" width="5.16" height="4.20" fill="#667879"/>
<rect x="45.11" y="236.19" width="5.16" height="4.20" fill="#667879"/>
<rect x="50.21" y="236.19" width="5.16" height="4.20" fill="#657778"/>
<rect x="55.32" y="236.19" width="5.16" height="4.20" fill="#687a7b"/>
<rect x="60.43" y="236.19" width="5.16" height="4.20" fill="#697b7c"/>
<rect x="65.53" y="236.19" width="5.16" height="4.20" fill="#637576"/>
<rect x="70.64" y="236.19" width="5.16" height="4.20" fill="#647677"/>
<rect x="75.75" y="236.19" width="5.16" height="4.20" fill="#67797a"/>
<rect x="80.86" y="236.19" width="5.16" height="4.20" fill="#687a7b"/>
<rect x="85.96" y="236.19" width="5.16" height="4.20" fill="#667879"/>
<rect x="91.07" y="236.19" width="5.16" height="4.20" fill="#647677"/>
<rect x="96.18" y="236.19" width="5.16" height="4.20" fill="#667879"/>
<rect x="101.28" y="236.19" width="5.16" height="4.20" fill="#667879"/>
<rect x="106.39" y="236.19" width="5.16" height="4.20" fill="#67797a"/>
<rect x="111.50" y="236.19" width="5.16" height="4.20" fill="#667879"/>
<rect x="116.61" y="236.19" width="5.16" height="4.20" fill="#657778"/>
<rect x="121.71" y="236.19" width="5.16" height="4.20" fill="#627475"/>
<rect x="126.82" y="236.19" width="5.16" height="4.20" fill="#657778"/>
<rect x="131.93" y="236.19" width="5.16" height="4.20" fill="#697b7c"/>
<rect x="137.03" y="236.19" width="5.16" height="4.20" fill="#6a7c7d"/>
<rect x="142.14" y="236.19" width="5.16" height="4.20" fill="#657778"/>
<rect x="147.25" y="236.19" width="5.16" height="4.20" fill="#647677"/>
<rect x="152.35" y="236.19" width="5.16" height="4.20" fill="#627475"/>
<rect x="157.46" y="236.19" width="5.16" height="4.20" fill="#647677"/>
<rect x="162.57" y="236.19" width="5.16" height="4.20" fill="#687a7b"/>
<rect x="167.68" y="236.19" width="5.16" height="4.20" fill="#6a7c7d"/>
<rect x="172.78" y="236.19" width="5.16" height="4.20" fill="#687a7b"/>
<rect x="177.89" y="236.19" width="5.16" height="4.20" fill="#657778"/>
<rect x="183.00" y="236.19" width="5.16" height="4.20" fill="#667879"/>
<rect x="188.10" y="236.19" width="5.16" height="4.20" fill="#67797a"/>
<rect x="40.00" y="240.33" width="5.16" height="4.20" fill="#667879"/>
<rect x="45.11" y="240.33" width="5.16" height="4.20" fill="#667879"/>
<rect x="50.21" y="240.33" width="5.16" height="4.20" fill="#657778"/>
<rect x="55.32" y="240.33" width="5.16" height="4.20" fill="#6a7c7d"/>
<rect x="60.43" y="240.33" width="5.16" height="4.20" fill="#6a7c7d"/>
<rect x="65.53" y="240.33" width="5.16" height="4.20" fill="#637576"/>
<rect x="70.64" y="240.33" width="5.16" height="4.20" fill="#647677"/>
<rect x="75.75" y="240.33" width="5.16" height="4.20" fill="#67797a"/>
<rect x="80.86" y="240.33" width="5.16" height="4.20" fill="#687a7b"/>
<rect x="85.96" y="240.33" width="5.16" height="4.20" fill="#6a7b7c"/>
<rect x="91.07" y="240.33" width="5.16" height="4.20" fill="#657778"/>
<rect x="96.18" y="240.33" width="5.16" height="4.20" fill="#647677"/>
<rect x="101.28" y="240.33" width="5.16" height="4.20" fill="#67797a"/>
<rect x="106.39" y="240.33" width="5.16" height="4.20" fill="#687a7b"/>
<rect x="111.50" y="240.33" width="5.16" height="4.20" fill="#667879"/>
<rect x="116.61" y="240.33" width="5.16" height="4.20" fill="#647677"/>
<rect x="121.71" y="240.33" width="5.16" height="4.20" fill="#647677"/>
<rect x="126.82" y="240.33" width="5.16" height="4.20" fill="#627475"/>
<rect x="131.93" y="240.33" width="5.16" height="4.20" fill="#697b7c"/>
<rect x="137.03" y="240.33" width="5.16" height="4.20" fill="#6a7c7d"/>
<rect x="142.14" y="240.33" width="5.16" height="4.20" fill="#657778"/>
<rect x="147.25" y="240.33" width="5.16" height="4.20" fill="#637475"/>
<rect x="152.35" y="240.33" width="5.16" height="4.20" fill="#647677"/>
<rect x="157.46" y="240.33" width="5.16" height="4.20" fill="#647677"/>
<rect x="162.57" y="240.33" width="5.16" height="4.20" fill="#697b7c"/>
<rect x="167.68" y="240.33" width="5.16" height="4.20" fill="#6a7c7d"/>
<rect x="172.78" y="240.33" width="5.16" height="4.20" fill="#687a7b"/>
<rect x="177.89" y="240.33" width="5.16" height="4.20" fill="#657778"/>
<rect x="183.00" y="240.33" width="5.16" height="4.20" fill="#657778"/>
<rect x="188.10" y="240.33" width="5.16" height="4.20" fill="#67797a"/>
<rect x="40.00" y="244.48" width="5.16" height="4.20" fill="#657778"/>
<rect x="45.11" y="244.48" width="5.16" height="4.20" fill="#67797a"/>
<rect x="50.21" y="244.48" width="5.16" height="4.20" fill="#667879"/>
<rect x="55.32" y="244.48" width="5.16" height="4.20" fill="#697b7c"/>
<rect x="60.43" y="244.48" width="5.16" height="4.20" fill="#6c7e7f"/>
<rect x="65.53" y="244.48" width="5.16" height="4.20" fill="#647677"/>
<rect x="70.64" y="244.48" width="5.16" height="4.20" fill="#667879"/>
<rect x="75.75" y="244.48" width="5.16" height="4.20" fill="#657778"/>
<rect x="80.86" y="244.48" width="5.16" height="4.20" fill="#67797a"/>
<rect x="85.96" y="244.48" width="5.16" height="4.20" fill="#697b7c"/>
<rect x="91.07" y="244.48" width="5.16" height="4.20" fill="#657778"/>
<rect x="96.18" y="244.48" width="5.16" height="4.20" fill="#647677"/>
<rect x="101.28" y="244.48" width="5.16" height="4.20" fill="#667879"/>
<rect x="106.39" y="244.48" width="5.16" height="4.20" fill="#657778"/>
<rect x="111.50" y="244.48" width="5.16" height="4.20" fill="#667879"/>
<rect x="116.61" y="244.48" width="5.16" height="4.20" fill="#637576"/>
<rect x="121.71" y="244.48" width="5.16" height="4.20" fill="#637576"/>
<rect x="126.82" y="244.48" width="5.16" height="4.20" fill="#657778"/>
<rect x="131.93" y="244.48" width="5.16" height="4.20" fill="#697b7c"/>
<rect x="137.03" y="244.48" width="5.16" height="4.20" fill="#697b7c"/>
<rect x="142.14" y="244.48" width="5.16" height="4.20" fill="#647677"/>
<rect x="147.25" y="244.48" width="5.16" height="4.20" fill="#637576"/>
<rect x="152.35" y="244.48" width="5.16" height="4.20" fill="#647677"/>
<rect x="157.46" y="244.48" width="5.16" height="4.20" fill="#647677"/>
<rect x="162.57" y="244.48" width="5.16" height="4.20" fill="#6a7c7d"/>
<rect x="167.68" y="244.48" width="5.16" height="4.20" fill="#687a7b"/>
<rect x="172.78" y="244.48" width="5.16" height="4.20" fill="#6a7c7d"/>
<rect x="177.89" y="244.48" width="5.16" height="4.20" fill="#657778"/>
<rect x="183.00" y="244.48" width="5.16" height="4.20" fill="#667879"/>
<rect x="188.10" y="244.48" width="5.16" height="4.20" fill="#657778"/>
<rect x="40.00" y="248.63" width="5.16" height="4.20" fill="#687a7b"/>
<rect x="45.11" y="248.63" width="5.16" height="4.20" fill="#67797a"/>
<rect x="50.21" y="248.63" width="5.16" height="4.20" fill="#667879"/>
<rect x="55.32" y="248.63" width="5.16" height="4.20" fill="#6a7c7d"/>
<rect x="60.43" y="248.63" width="5.16" height="4.20" fill="#687a7b"/>
<rect x="65.53" y="248.63" width="5.16" height="4.20" fill="#637576"/>
<rect x="70.64" y="248.63" width="5.16" height="4.20" fill="#627475"/>
<rect x="75.75" y="248.63" width="5.16" height="4.20" fill="#697b7c"/>
<rect x="80.86" y="248.63" width="5.16" height="4.20" fill="#687a7b"/>
<rect x="85.96" y="248.63" width="5.16" height="4.20" fill="#687a7b"/>
<rect x="91.07" y="248.63" width="5.16" height="4.20" fill="#647677"/>
<rect x="96.18" y="248.63" width="5.16" height="4.20" fill="#667879"/>
<rect x="101.28" y="248.63" width="5.16" height="4.20" fill="#657778"/>
<rect x="106.39" y="248.63" width="5.16" height="4.20" fill="#687a7b"/>
<rect x="111.50" y="248.63" width="5.16" height="4.20" fill="#667879"/>
<rect x="116.61" y="248.63" width="5.16" height="4.20" fill="#647677"/>
<rect x="121.71" y="248.63" width="5.16" height="4.20" fill="#617374"/>
<rect x="126.82" y="248.63" width="5.16" height="4.20" fill="#637576"/>
<rect x="131.93" y="248.63" width="5.16" height="4.20" fill="#6a7c7d"/>
<rect x="137.03" y="248.63" width="5.16" height="4.20" fill="#6b7d7e"/>
<rect x="142.14" y="248.63" width="5.16" height="4.20" fill="#667879"/>
<rect x="147.25" y="248.63" width="5.16" height="4.20" fill="#637576"/>
<rect x="152.35" y="248.63" width="5.16" height="4.20" fill="#647677"/>
<rect x="157.46" y="248.63" width="5.16" height="4.20" fill="#657778"/>
<rect x="162.57" y="248.63" width="5.16" height="4.20" fill="#67797a"/>
<rect x="167.68" y="248.63" width="5.16" height="4.20" fill="#68797a"/>
<rect x="172.78" y="248.63" width="5.16" height="4.20" fill="#697b7c"/>
<rect x="177.89" y="248.63" width="5.16" height="4.20" fill="#667879"/>
<rect x="183.00" y="248.63" width="5.16" height="4.20" fill="#657778"/>
<rect x="188.10" y="248.63" width="5.16" height="4.20" fill="#67797a"/>
<rect x="40.00" y="252.78" width="5.16" height="4.20" fill="#657778"/>
<rect x="45.11" y="252.78" width="5.16" height="4.20" fill="#67797a"/>
<rect x="50.21" y="252.78" width="5.16" height="4.20" fill="#667879"/>
<rect x="55.32" y="252.78" width="5.16" height="4.20" fill="#697b7c"/>
<rect x="60.43" y="252.78" width="5.16" height="4.20" fill="#6a7c7d"/>
<rect x="65.53" y="252.78" width="5.16" height="4.20" fill="#657778"/>
<rect x="70.64" y="252.78" width="5.16" height="4.20" fill="#647677"/>
<rect x="75.75" y="252.78" width="5.16" height="4.20" fill="#687a7b"/>
<rect x="80.86" y="252.78" width="5.16" height="4.20" fill="#6b7d7e"/>
<rect x="85.96" y="252.78" width="5.16" height="4.20" fill="#687a7b"/>
<rect x="91.07" y="252.78" width="5.16" height="4.20" fill="#657778"/>
<rect x="96.18" y="252.78" width="5.16" height="4.20" fill="#657778"/>
<rect x="101.28" y="252.78" width="5.16" height="4.20" fill="#667879"/>
<rect x="106.39" y="252.78" width="5.16" height="4.20" fill="#687a7b"/>
<rect x="111.50" y="252.78" width="5.16" height="4.20" fill="#667879"/>
<rect x="116.61" y="252.78" width="5.16" height="4.20" fill="#657778"/>
<rect x="121.71" y="252.78" width="5.16" height="4.20" fill="#627475"/>
<rect x="126.82" y="252.78" width="5.16" height="4.20" fill="#637576"/>
<rect x="131.93" y="252.78" width="5.16" height="4.20" fill="#697b7c"/>
<rect x="137.03" y="252.78" width="5.16" height="4.20" fill="#6a7c7d"/>
<rect x="142.14" y="252.78" width="5.16" height="4.20" fill="#667879"/>
<rect x="147.25" y="252.78" width="5.16" height="4.20" fill="#657778"/>
<rect x="152.35" y="252.78" width="5.16" height="4.20" fill="#647677"/>
<rect x="157.46" y="252.78" width="5.16" height="4.20" fill="#647677"/>
<rect x="162.57" y="252.78" width="5.16" height="4.20" fill="#697b7c"/>
<rect x="167.68" y="252.78" width="5.16" height="4.20" fill="#697b7c"/>
<rect x="172.78" y="252.78" width="5.16" height="4.20" fill="#67797a"/>
<rect x="177.89" y="252.78" width="5.16" height="4.20" fill="#67797a"/>
<rect x="183.00" y="252.78" width="5.16" height="4.20" fill="#657778"/>
<rect x="188.10" y="252.78" width="5.16" height="4.20" fill="#657778"/>
<rect x="40.00" y="256.92" width="5.16" height="4.20" fill="#67797a"/>
<rect x="45.11" y="256.92" width="5.16" height="4.20" fill="#657778"/>
<rect x="50.21" y="256.92" width="5.16" height="4.20" fill="#657778"/>
<rect x="55.32" y="256.92" width="5.16" height="4.20" fill="#6a7b7c"/>
<rect x="60.43" y="256.92" width="5.16" height="4.20" fill="#67797a"/>
<rect x="65.53" y="256.92" width="5.16" height="4.20" fill="#647677"/>
<rect x="70.64" y="256.92" width="5.16" height="4.20" fill="#637475"/>
<rect x="75.75" y="256.92" width="5.16" height="4.20" fill="#687a7b"/>
<rect x="80.86" y="256.92" width="5.16" height="4.20" fill="#687a7b"/>
<rect x="85.96" y="256.92" width="5.16" height="4.20" fill="#687a7b"/>
<rect x="91.07" y="256.92" width="5.16" height="4.20" fill="#637576"/>
<rect x="96.18" y="256.92" width="5.16" height="4.20" fill="#647677"/>
<rect x="101.28" y="256.92" width="5.16" height="4.20" fill="#67797a"/>
<rect x="106.39" y="256.92" width="5.16" height="4.20" fill="#687a7b"/>
<rect x="111.50" y="256.92" width="5.16" height="4.20" fill="#657677"/>
<rect x="116.61" y="256.92" width="5.16" height="4.20" fill="#657778"/>
<rect x="121.71" y="256.92" width="5.16" height="4.20" fill="#647677"/>
<rect x="126.82" y="256.92" width="5.16" height="4.20" fill="#647677"/>
<rect x="131.93" y="256.92" width="5.16" height="4.20" fill="#6b7d7e"/>
<rect x="137.03" y="256.92" width="5.16" height="4.20" fill="#687a7b"/>
<rect x="142.14" y="256.92" width="5.16" height="4.20" fill="#657778"/>
<rect x="147.25" y="256.92" width="5.16" height="4.20" fill="#657778"/>
<rect x="152.35" y="256.92" width="5.16" height="4.20" fill="#657778"/>
<rect x="157.46" y="256.92" width="5.16" height="4.20" fill="#667879"/>
<rect x="162.57" y="256.92" width="5.16" height="4.20" fill="#67797a"/>
<rect x="167.68" y="256.92" width="5.16" height="4.20" fill="#67797a"/>
<rect x="172.78" y="256.92" width="5.16" height="4.20" fill="#697b7c"/>
<rect x="177.89" y="256.92" width="5.16" height="4.20" fill="#647677"/>
<rect x="183.00" y="256.92" width="5.16" height="4.20" fill="#657778"/>
<rect x="188.10" y="256.92" width="5.16" height="4.20" fill="#647677"/>
<rect x="40.00" y="261.07" width="5.16" height="4.20" fill="#687a7b"/>
<rect x="45.11" y="261.07" width="5.16" height="4.20" fill="#67797a"/>
<rect x="50.21" y="261.07" width="5.16" height="4.20" fill="#667879"/>
<rect x="55.32" y="261.07" width="5.16" height="4.20" fill="#697b7c"/>
<rect x="60.43" y="261.07" width="5.16" height="4.20" fill="#697b7c"/>
<rect x="65.53" y="261.07" width="5.16" height="4.20" fill="#647677"/>
<rect x="70.64" y="261.07" width="5.16" height="4.20" fill="#647677"/>
<rect x="75.75" y="261.07" width="5.16" height="4.20" fill="#687a7b"/>
<rect x="80.86" y="261.07" width="5.16" height="4.20" fill="#6a7c7d"/>
<rect x="85.96" y="261.07" width="5.16" height="4.20" fill="#687a7b"/>
<rect x="91.07" y="261.07" width="5.16" height="4.20" fill="#667879"/>
<rect x="96.18" y="261.07" width="5.16" height="4.20" fill="#657778"/>
<rect x="101.28" y="261.07" width="5.16" height="4.20" fill="#687a7b"/>
<rect x="106.39" y="261.07" width="5.16" height="4.20" fill="#697b7c"/>
<rect x="111.50" y="261.07" width="5.16" height="4.20" fill="#667879"/>
<rect x="116.61" y="261.07" width="5.16" height="4.20" fill="#627475"/>
<rect x="121.71" y="261.07" width="5.16" height="4.20" fill="#647677"/>
<rect x="126.82" y="261.07" width="5.16" height="4.20" fill="#647576"/>
<rect x="131.93" y="261.07" width="5.16" height="4.20" fill="#697b7c"/>
<rect x="137.03" y="261.07" width="5.16" height="4.20" fill="#697b7c"/>
<rect x="142.14" y="261.07" width="5.16" height="4.20" fill="#657778"/>
<rect x="147.25" y="261.07" width="5.16" height="4.20" fill="#637576"/>
<rect x="152.35" y="261.07" width="5.16" height="4.20" fill="#647677"/>
<rect x="157.46" y="261.07" width="5.16" height="4.20" fill="#647677"/>
<rect x="162.57" y="261.07" width="5.16" height="4.20" fill="#687a7b"/>
<rect x="167.68" y="261.07" width="5.16" height="4.20" fill="#67797a"/>
<rect x="172.78" y="261.07" width="5.16" height="4.20" fill="#697b7c"/>
<rect x="177.89" y="261.07" width="5.16" height="4.20" fill="#667879"/>
<rect x="183.00" y="261.07" width="5.16" height="4.20" fill="#637576"/>
<rect x="188.10" y="261.07" width="5.16" height="4.20" fill="#657778"/>
<rect x="40.00" y="265.22" width="5.16" height="4.20" fill="#667879"/>
<rect x="45.11" y="265.22" width="5.16" height="4.20" fill="#67797a"/>
<rect x="50.21" y="265.22" width="5.16" height="4.20" fill="#667879"/>
<rect x="55.32" y="265.22" width="5.16" height="4.20" fill="#6b7d7d"/>
<rect x="60.43" y="265.22" width="5.16" height="4.20" fill="#697b7c"/>
<rect x="65.53" y="265.22" width="5.16" height="4.20" fill="#637576"/>
<rect x="70.64" y="265.22" width="5.16" height="4.20" fill="#637576"/>
<rect x="75.75" y="265.22" width="5.16" height="4.20" fill="#687a7b"/>
<rect x="80.86" y="265.22" width="5.16" height="4.20" fill="#687a7b"/>
<rect x="85.96" y="265.22" width="5.16" height="4.20" fill="#697b7c"/>
<rect x="91.07" y="265.22" width="5.16" height="4.20" fill="#657778"/>
<rect x="96.18" y="265.22" width="5.16" height="4.20" fill="#657778"/>
<rect x="101.28" y="265.22" width="5.16" height="4.20" fill="#687a7b"/>
<rect x="106.39" y="265.22" width="5.16" height="4.20" fill="#67797a"/>
<rect x="111.50" y="265.22" width="5.16" height="4.20" fill="#667879"/>
<rect x="116.61" y="265.22" width="5.16" height="4.20" fill="#637576"/>
<rect x="121.71" y="265.22" width="5.16" height="4.20" fill="#627475"/>
<rect x="126.82" y="265.22" width="5.16" height="4.20" fill="#627475"/>
<rect x="131.93" y="265.22" width="5.16" height="4.20" fill="#687a7b"/>
<rect x="137.03" y="265.22" width="5.16" height="4.20" fill="#687a7b"/>
<rect x="142.14" y="265.22" width="5.16" height="4.20" fill="#637576"/>
<rect x="147.25" y="265.22" width="5.16" height="4.20" fill="#647677"/>
<rect x="152.35" y="265.22" width="5.16" height="4.20" fill="#647677"/>
<rect x="157.46" y="265.22" width="5.16" height="4.20" fill="#647677"/>
<rect x="162.57" y="265.22" width="5.16" height="4.20" fill="#6a7c7d"/>
<rect x="167.68" y="265.22" width="5.16" height="4.20" fill="#6a7c7d"/>
<rect x="172.78" y="265.22" width="5.16" height="4.20" fill="#697b7c"/>
<rect x="177.89" y="265.22" width="5.16" height="4.20" fill="#657778"/>
<rect x="183.00" y="265.22" width="5.16" height="4.20" fill="#647677"/>
<rect x="188.10" y="265.22" width="5.16" height="4.20" fill="#667879"/>
<rect x="40.00" y="269.36" width="5.16" height="4.20" fill="#67797a"/>
<rect x="45.11" y="269.36" width="5.16" height="4.20" fill="#67797a"/>
<rect x="50.21" y="269.36" width="5.16" height="4.20" fill="#667879"/>
<rect x="55.32" y="269.36" width="5.16" height="4.20" fill="#6a7c7d"/>
<rect x="60.43" y="269.36" width="5.16" height="4.20" fill="#697b7c"/>
<rect x="65.53" y="269.36" width="5.16" height="4.20" fill="#657778"/>
<rect x="70.64" y="269.36" width="5.16" height="4.20" fill="#637576"/>
<rect x="75.75" y="269.36" width="5.16" height="4.20" fill="#657778"/>
<rect x="80.86" y="269.36" width="5.16" height="4.20" fill="#697b7c"/>
<rect x="85.96" y="269.36" width="5.16" height="4.20" fill="#6a7c7d"/>
<rect x="91.07" y="269.36" width="5.16" height="4.20" fill="#637576"/>
<rect x="96.18" y="269.36" width="5.16" height="4.20" fill="#657778"/>
<rect x="101.28" y="269.36" width="5.16" height="4.20" fill="#667879"/>
<rect x="106.39" y="269.36" width="5.16" height="4.20" fill="#67797a"/>
<rect x="111.50" y="269.36" width="5.16" height="4.20" fill="#67797a"/>
<rect x="116.61" y="269.36" width="5.16" height="4.20" fill="#647677"/>
<rect x="121.71" y="269.36" width="5.16" height="4.20" fill="#627475"/>
<rect x="126.82" y="269.36" width="5.16" height="4.20" fill="#647677"/>
<rect x="131.93" y="269.36" width="5.16" height="4.20" fill="#6a7b7c"/>
<rect x="137.03" y="269.36" width="5.16" height="4.20" fill="#6a7c7d"/>
<rect x="142.14" y="269.36" width="5.16" height="4.20" fill="#647677"/>
<rect x="147.25" y="269.36" width="5.16" height="4.20" fill="#667879"/>
<rect x="152.35" y="269.36" width="5.16" height="4.20" fill="#667879"/>
<rect x="157.46" y="269.36" width="5.16" height="4.20" fill="#67797a"/>
<rect x="162.57" y="269.36" width="5.16" height="4.20" fill="#67797a"/>
<rect x="167.68" y="269.36" width="5.16" height="4.20" fill="#697b7c"/>
<rect x="172.78" y="269.36" width="5.16" height="4.20" fill="#667879"/>
<rect x="177.89" y="269.36" width="5.16" height="4.20" fill="#667879"/>
<rect x="183.00" y="269.36" width="5.16" height="4.20" fill="#667879"/>
<rect x="188.10" y="269.36" width="5.16" height="4.20" fill="#647677"/>
<rect x="40.00" y="273.51" width="5.16" height="4.20" fill="#657778"/>
<rect x="45.11" y="273.51" width="5.16" height="4.20" fill="#67797a"/>
<rect x="50.21" y="273.51" width="5.16" height="4.20" fill="#667879"/>
<rect x="55.32" y="273.51" width="5.16" height="4.20" fill="#687a7b"/>
<rect x="60.43" y="273.51" width="5.16" height="4.20" fill="#697b7c"/>
<rect x="65.53" y="273.51" width="5.16" height="4.20" fill="#627475"/>
<rect x="70.64" y="273.51" width="5.16" height="4.20" fill="#637576"/>
<rect x="75.75" y="273.51" width="5.16" height="4.20" fill="#67797a"/>
<rect x="80.86" y="273.51" width="5.16" height="4.20" fill="#697b7c"/>
<rect x="85.96" y="273.51" width="5.16" height="4.20" fill="#6a7c7d"/>
<rect x="91.07" y="273.51" width="5.16" height="4.20" fill="#637576"/>
<rect x="96.18" y="273.51" width="5.16" height="4.20" fill="#627475"/>
<rect x="101.28" y="273.51" width="5.16" height="4.20" fill="#67797a"/>
<rect x="106.39" y="273.51" width="5.16" height="4.20" fill="#67797a"/>
<rect x="111.50" y="273.51" width="5.16" height="4.20" fill="#67797a"/>
<rect x="116.61" y="273.51" width="5.16" height="4.20" fill="#657778"/>
<rect x="121.71" y="273.51" width="5.16" height="4.20" fill="#647677"/>
<rect x="126.82" y="273.51" width="5.16" height="4.20" fill="#657778"/>
<rect x="131.93" y="273.51" width="5.16" height="4.20" fill="#6b7c7d"/>
<rect x="137.03" y="273.51" width="5.16" height="4.20" fill="#67797a"/>
<rect x="142.14" y="273.51" width="5.16" height="4.20" fill="#657778"/>
<rect x="147.25" y="273.51" width="5.16" height="4.20" fill="#667879"/>
<rect x="152.35" y="273.51" width="5.16" height="4.20" fill="#637576"/>
<rect x="157.46" y="273.51" width="5.16" height="4.20" fill="#667879"/>
<rect x="162.57" y="273.51" width="5.16" height="4.20" fill="#687a7b"/>
<rect x="167.68" y="273.51" width="5.16" height="4.20" fill="#697b7c"/>
<rect x="172.78" y="273.51" width="5.16" height="4.20" fill="#6a7c7d"/>
<rect x="177.89" y="273.51" width="5.16" height="4.20" fill="#67797a"/>
<rect x="183.00" y="273.51" width="5.16" height="4.20" fill="#657778"/>
<rect x="188.10" y="273.51" width="5.16" height="4.20" fill="#67797a"/>
<rect x="40.00" y="277.66" width="5.16" height="4.20" fill="#657778"/>
<rect x="45.11" y="277.66" width="5.16" height="4.20" fill="#667879"/>
<rect x="50.21" y="277.66" width="5.16" height="4.20" fill="#67797a"/>
<rect x="55.32" y="277.66" width="5.16" height="4.20" fill="#697b7c"/>
<rect x="60.43" y="277.66" width="5.16" height="4.20" fill="#687a7b"/>
<rect x="65.53" y="277.66" width="5.16" height="4.20" fill="#657778"/>
<rect x="70.64" y="277.66" width="5.16" height="4.20" fill="#647677"/>
<rect x="75.75" y="277.66" width="5.16" height="4.20" fill="#697b7c"/>
<rect x="80.86" y="277.66" width="5.16" height="4.20" fill="#6a7c7d"/>
<rect x="85.96" y="277.66" width="5.16" height="4.20" fill="#687a7b"/>
<rect x="91.07" y="277.66" width="5.16" height="4.20" fill="#647677"/>
<rect x="96.18" y="277.66" width="5.16" height="4.20" fill="#647677"/>
<rect x="101.28" y="277.66" width="5.16" height="4.20" fill="#667879"/>
<rect x="106.39" y="277.66" width="5.16" height="4.20" fill="#697b7c"/>
<rect x="111.50" y="277.66" width="5.16" height="4.20" fill="#687a7b"/>
<rect x="116.61" y="277.66" width="5.16" height="4.20" fill="#657778"/>
<rect x="121.71" y="277.66" width="5.16" height="4.20" fill="#6f8182"/>
<rect x="126.82" y="277.66" width="5.16" height="4.20" fill="#748586"/>
<rect x="131.93" y="277.66" width="5.16" height="4.20" fill="#6f8182"/>
<rect x="137.03" y="277.66" width="5.16" height="4.20" fill="#697b7c"/>
<rect x="142.14" y="277.66" width="5.16" height="4.20" fill="#657778"/>
<rect x="147.25" y="277.66" width="5.16" height="4.20" fill="#627475"/>
<rect x="152.35" y="277.66" width="5.16" height="4.20" fill="#637576"/>
<rect x="157.46" y="277.66" width="5.16" height="4.20" fill="#667879"/>
<rect x="162.57" y="277.66" width="5.16" height="4.20" fill="#67797a"/>
<rect x="167.68" y="277.66" width="5.16" height="4.20" fill="#67797a"/>
<rect x="172.78" y="277.66" width="5.16" height="4.20" fill="#687a7b"/>
<rect x="177.89" y="277.66" width="5.16" height="4.20" fill="#67797a"/>
<rect x="183.00" y="277.66" width="5.16" height="4.20" fill="#67797a"/>
<rect x="188.10" y="277.66" width="5.16" height="4.20" fill="#657778"/>
<rect x="40.00" y="281.81" width="5.16" height="4.20" fill="#667879"/>
<rect x="45.11" y="281.81" width="5.16" height="4.20" fill="#667879"/>
<rect x="50.21" y="281.81" width="5.16" height="4.20" fill="#657778"/>
<rect x="55.32" y="281.81" width="5.16" height="4.20" fill="#697b7c"/>
<rect x="60.43" y="281.81" width="5.16" height="4.20" fill="#697b7c"/>
<rect x="65.53" y="281.81" width="5.16" height="4.20" fill="#637576"/>
<rect x="70.64" y="281.81" width="5.16" height="4.20" fill="#637576"/>
<rect x="75.75" y="281.81" width="5.16" height="4.20" fill="#67797a"/>
<rect x="80.86" y="281.81" width="5.16" height="4.20" fill="#687a7b"/>
<rect x="85.96" y="281.81" width="5.16" height="4.20" fill="#67797a"/>
<rect x="91.07" y="281.81" width="5.16" height="4.20" fill="#5a6c6d"/>
<rect x="96.18" y="281.81" width="5.16" height="4.20" fill="#505f60"/>
<rect x="101.28" y="281.81" width="5.16" height="4.20" fill="#4a5758"/>
<rect x="106.39" y="281.81" width="5.16" height="4.20" fill="#4a5758"/>
<rect x="111.50" y="281.81" width="5.16" height="4.20" fill="#576869"/>
<rect x="116.61" y="281.81" width="5.16" height="4.20" fill="#748586"/>
<rect x="121.71" y="281.81" width="5.16" height="4.20" fill="#8e9b9c"/>
<rect x="126.82" y="281.81" width="5.16" height="4.20" fill="#9fa9a9"/>
<rect x="131.93" y="281.81" width="5.16" height="4.20" fill="#8e9b9c"/>
<rect x="137.03" y="281.81" width="5.16" height="4.20" fill="#748586"/>
<rect x="142.14" y="281.81" width="5.16" height="4.20" fill="#647677"/>
<rect x="147.25" y="281.81" width="5.16" height="4.20" fill="#637576"/>
<rect x="152.35" y="281.81" width="5.16" height="4.20" fill="#647677"/>
<rect x="157.46" y="281.81" width="5.16" height="4.20" fill="#657778"/>
<rect x="162.57" y="281.81" width="5.16" height="4.20" fill="#6a7c7d"/>
<rect x="167.68" y="281.81" width="5.16" height="4.20" fill="#6a7c7d"/>
<rect x="172.78" y="281.81" width="5.16" height="4.20" fill="#687a7b"/>
<rect x="177.89" y="281.81" width="5.16" height="4.20" fill="#647677"/>
<rect x="183.00" y="281.81" width="5.16" height="4.20" fill="#657778"/>
<rect x="188.10" y="281.81" width="5.16" height="4.20" fill="#657778"/>
<rect x="40.00" y="285.95" width="5.16" height="4.20" fill="#667879"/>
<rect x="45.11" y="285.95" width="5.16" height="4.20" fill="#687a7a"/>
<rect x="50.21" y="285.95" width="5.16" height="4.20" fill="#667879"/>
<rect x="55.32" y="285.95" width="5.16" height="4.20" fill="#697b7c"/>
<rect x="60.43" y="285.95" width="5.16" height="4.20" fill="#687a7b"/>
<rect x="65.53" y="285.95" width="5.16" height="4.20" fill="#647677"/>
<rect x="70.64" y="285.95" width="5.16" height="4.20" fill="#647677"/>
<rect x="75.75" y="285.95" width="5.16" height="4.20" fill="#667879"/>
<rect x="80.86" y="285.95" width="5.16" height="4.20" fill="#697a7b"/>
<rect x="85.96" y="285.95" width="5.16" height="4.20" fill="#697b7c"/>
<rect x="91.07" y="285.95" width="5.16" height="4.20" fill="#5a6c6d"/>
<rect x="96.18" y="285.95" width="5.16" height="4.20" fill="#475354"/>
<rect x="101.28" y="285.95" width="5.16" height="4.20" fill="#272a2a"/>
<rect x="106.39" y="285.95" width="5.16" height="4.20" fill="#272a2a"/>
<rect x="111.50" y="285.95" width="5.16" height="4.20" fill="#3b4343"/>
<rect x="116.61" y="285.95" width="5.16" height="4.20" fill="#8e9b9c"/>
<rect x="121.71" y="285.95" width="5.16" height="4.20" fill="#d7d9d9"/>
<rect x="126.82" y="285.95" width="5.16" height="4.20" fill="#c6caca"/>
<rect x="131.93" y="285.95" width="5.16" height="4.20" fill="#b7bdbd"/>
<rect x="137.03" y="285.95" width="5.16" height="4.20" fill="#748586"/>
<rect x="142.14" y="285.95" width="5.16" height="4.20" fill="#657778"/>
<rect x="147.25" y="285.95" width="5.16" height="4.20" fill="#657778"/>
<rect x="152.35" y="285.95" width="5.16" height="4.20" fill="#627475"/>
<rect x="157.46" y="285.95" width="5.16" height="4.20" fill="#667879"/>
<rect x="162.57" y="285.95" width="5.16" height="4.20" fill="#697b7c"/>
<rect x="167.68" y="285.95" width="5.16" height="4.20" fill="#67797a"/>
<rect x="172.78" y="285.95" width="5.16" height="4.20" fill="#687a7b"/>
<rect x="177.89" y="285.95" width="5.16" height="4.20" fill="#657778"/>
<rect x="183.00" y="285.95" width="5.16" height="4.20" fill="#657778"/>
<rect x="188.10" y="285.95" width="5.16" height="4.20" fill="#667879"/>
<rect x="40.00" y="290.10" width="5.16" height="4.20" fill="#657778"/>
<rect x="45.11" y="290.10" width="5.16" height="4.20" fill="#667879"/>
<rect x="50.21" y="290.10" width="5.16" height="4.20" fill="#667879"/>
<rect x="55.32" y="290.10" width="5.16" height="4.20" fill="#6a7c7d"/>
<rect x="60.43" y="290.10" width="5.16" height="4.20" fill="#697b7c"/>
<rect x="65.53" y="290.10" width="5.16" height="4.20" fill="#647677"/>
<rect x="70.64" y="290.10" width="5.16" height="4.20" fill="#657778"/>
<rect x="75.75" y="290.10" width="5.16" height="4.20" fill="#657778"/>
<rect x="80.86" y="290.10" width="5.16" height="4.20" fill="#6a7c7d"/>
<rect x="85.96" y="290.10" width="5.16" height="4.20" fill="#627475"/>
<rect x="91.07" y="290.10" width="5.16" height="4.20" fill="#576869"/>
<rect x="96.18" y="290.10" width="5.16" height="4.20" fill="#444f50"/>
<rect x="101.28" y="290.10" width="5.16" height="4.20" fill="#272a2a"/>
<rect x="106.39" y="290.10" width="5.16" height="4.20" fill="#080808"/>
<rect x="111.50" y="290.10" width="5.16" height="4.20" fill="#040404"/>
<rect x="116.61" y="290.10" width="5.16" height="4.20" fill="#c9cccc"/>
<rect x="121.71" y="290.10" width="5.16" height="4.20" fill="#f0f0f0"/>
<rect x="126.82" y="290.10" width="5.16" height="4.20" fill="#d7d9d9"/>
<rect x="131.93" y="290.10" width="5.16" height="4.20" fill="#bfc3c3"/>
<rect x="137.03" y="290.10" width="5.16" height="4.20" fill="#778888"/>
<rect x="142.14" y="290.10" width="5.16" height="4.20" fill="#67797a"/>
<rect x="147.25" y="290.10" width="5.16" height="4.20" fill="#647677"/>
<rect x="152.35" y="290.10" width="5.16" height="4.20" fill="#637576"/>
<rect x="157.46" y="290.10" width="5.16" height="4.20" fill="#647677"/>
<rect x="162.57" y="290.10" width="5.16" height="4.20" fill="#67797a"/>
<rect x="167.68" y="290.10" width="5.16" height="4.20" fill="#697b7c"/>
<rect x="172.78" y="290.10" width="5.16" height="4.20" fill="#697b7c"/>
<rect x="177.89" y="290.10" width="5.16" height="4.20" fill="#67797a"/>
<rect x="183.00" y="290.10" width="5.16" height="4.20" fill="#667879"/>
<rect x="188.10" y="290.10" width="5.16" height="4.20" fill="#667879"/>
<rect x="40.00" y="294.25" width="5.16" height="4.20" fill="#667879"/>
<rect x="45.11" y="294.25" width="5.16" height="4.20" fill="#667879"/>
<rect x="50.21" y="294.25" width="5.16" height="4.20" fill="#637576"/>
<rect x="55.32" y="294.25" width="5.16" height="4.20" fill="#687a7b"/>
<rect x="60.43" y="294.25" width="5.16" height="4.20" fill="#6a7b7c"/>
<rect x="65.53" y="294.25" width="5.16" height="4.20" fill="#647677"/>
<rect x="70.64" y="294.25" width="5.16" height="4.20" fill="#647677"/>
<rect x="75.75" y="294.25" width="5.16" height="4.20" fill="#667879"/>
<rect x="80.86" y="294.25" width="5.16" height="4.20" fill="#6a7c7d"/>
<rect x="85.96" y="294.25" width="5.16" height="4.20" fill="#627475"/>
<rect x="91.07" y="294.25" width="5.16" height="4.20" fill="#576869"/>
<rect x="96.18" y="294.25" width="5.16" height="4.20" fill="#444f50"/>
<rect x="101.28" y="294.25" width="5.16" height="4.20" fill="#272a2a"/>
<rect x="106.39" y="294.25" width="5.16" height="4.20" fill="#040404"/>
<rect x="111.50" y="294.25" width="5.16" height="4.20" fill="#000000"/>
<rect x="116.61" y="294.25" width="5.16" height="4.20" fill="#d2d5d5"/>
<rect x="121.71" y="294.25" width="5.16" height="4.20" fill="#ffffff"/>
<rect x="126.82" y="294.25" width="5.16" height="4.20" fill="#d7d9d9"/>
<rect x="131.93" y="294.25" width="5.16" height="4.20" fill="#bfc3c3"/>
<rect x="137.03" y="294.25" width="5.16" height="4.20" fill="#778888"/>
<rect x="142.14" y="294.25" width="5.16" height="4.20" fill="#667879"/>
<rect x="147.25" y="294.25" width="5.16" height="4.20" fill="#637576"/>
<rect x="152.35" y="294.25" width="5.16" height="4.20" fill="#647677"/>
<rect x="157.46" y="294.25" width="5.16" height="4.20" fill="#647677"/>
<rect x="162.57" y="294.25" width="5.16" height="4.20" fill="#697b7c"/>
<rect x="167.68" y="294.25" width="5.16" height="4.20" fill="#67797a"/>
<rect x="172.78" y="294.25" width="5.16" height="4.20" fill="#697b7c"/>
<rect x="177.89" y="294.25" width="5.16" height="4.20" fill="#657778"/>
<rect x="183.00" y="294.25" width="5.16" height="4.20" fill="#657778"/>
<rect x="188.10" y="294.25" width="5.16" height="4.20" fill="#647677"/>
<rect x="40.00" y="298.39" width="5.16" height="4.20" fill="#67797a"/>
<rect x="45.11" y="298.39" width="5.16" height="4.20" fill="#67797a"/>
<rect x="50.21" y="298.39" width="5.16" height="4.20" fill="#667879"/>
<rect x="55.32" y="298.39" width="5.16" height="4.20" fill="#697b7c"/>
<rect x="60.43" y="298.39" width="5.16" height="4.20" fill="#6a7c7d"/>
<rect x="65.53" y="298.39" width="5.16" height="4.20" fill="#657778"/>
<rect x="70.64" y="298.39" width="5.16" height="4.20" fill="#647576"/>
<rect x="75.75" y="298.39" width="5.16" height="4.20" fill="#667879"/>
<rect x="80.86" y="298.39" width="5.16" height="4.20" fill="#687a7b"/>
<rect x="85.96" y="298.39" width="5.16" height="4.20" fill="#697b7c"/>
<rect x="91.07" y="298.39" width="5.16" height="4.20" fill="#5a6c6d"/>
<rect x="96.18" y="298.39" width="5.16" height="4.20" fill="#475354"/>
<rect x="101.28" y="298.39" width="5.16" height="4.20" fill="#232626"/>
<rect x="106.39" y="298.39" width="5.16" height="4.20" fill="#1f2222"/>
<rect x="111.50" y="298.39" width="5.16" height="4.20" fill="#4d5b5c"/>
<rect x="116.61" y="298.39" width="5.16" height="4.20" fill="#8e9b9c"/>
<rect x="121.71" y="298.39" width="5.16" height="4.20" fill="#d7d9d9"/>
<rect x="126.82" y="298.39" width="5.16" height="4.20" fill="#ced0d0"/>
<rect x="131.93" y="298.39" width="5.16" height="4.20" fill="#babfbf"/>
<rect x="137.03" y="298.39" width="5.16" height="4.20" fill="#748586"/>
<rect x="142.14" y="298.39" width="5.16" height="4.20" fill="#647677"/>
<rect x="147.25" y="298.39" width="5.16" height="4.20" fill="#637576"/>
<rect x="152.35" y="298.39" width="5.16" height="4.20" fill="#657778"/>
<rect x="157.46" y="298.39" width="5.16" height="4.20" fill="#657778"/>
<rect x="162.57" y="298.39" width="5.16" height="4.20" fill="#687a7b"/>
<rect x="167.68" y="298.39" width="5.16" height="4.20" fill="#687a7b"/>
<rect x="172.78" y="298.39" width="5.16" height="4.20" fill="#68797a"/>
<rect x="177.89" y="298.39" width="5.16" height="4.20" fill="#667879"/>
<rect x="183.00" y="298.39" width="5.16" height="4.20" fill="#657778"/>
<rect x="188.10" y="298.39" width="5.16" height="4.20" fill="#667879"/>
<rect x="40.00" y="302.54" width="5.16" height="4.20" fill="#667879"/>
<rect x="45.11" y="302.54" width="5.16" height="4.20" fill="#67797a"/>
<rect x="50.21" y="302.54" width="5.16" height="4.20" fill="#667879"/>
<rect x="55.32" y="302.54" width="5.16" height="4.20" fill="#697b7c"/>
<rect x="60.43" y="302.54" width="5.16" height="4.20" fill="#6a7c7d"/>
<rect x="65.53" y="302.54" width="5.16" height="4.20" fill="#657778"/>
<rect x="70.64" y="302.54" width="5.16" height="4.20" fill="#647677"/>
<rect x="75.75" y="302.54" width="5.16" height="4.20" fill="#67797a"/>
<rect x="80.86" y="302.54" width="5.16" height="4.20" fill="#687a7b"/>
<rect x="85.96" y="302.54" width="5.16" height="4.20" fill="#697b7c"/>
<rect x="91.07" y="302.54" width="5.16" height="4.20" fill="#5a6c6d"/>
<rect x="96.18" y="302.54" width="5.16" height="4.20" fill="#4a5758"/>
<rect x="101.28" y="302.54" width="5.16" height="4.20" fill="#475354"/>
<rect x="106.39" y="302.54" width="5.16" height="4.20" fill="#4a5758"/>
<rect x="111.50" y="302.54" width="5.16" height="4.20" fill="#5a6c6d"/>
<rect x="116.61" y="302.54" width="5.16" height="4.20" fill="#748586"/>
<rect x="121.71" y="302.54" width="5.16" height="4.20" fill="#a4adae"/>
<rect x="126.82" y="302.54" width="5.16" height="4.20" fill="#afb6b6"/>
<rect x="131.93" y="302.54" width="5.16" height="4.20" fill="#a4adae"/>
<rect x="137.03" y="302.54" width="5.16" height="4.20" fill="#6f8182"/>
<rect x="142.14" y="302.54" width="5.16" height="4.20" fill="#647677"/>
<rect x="147.25" y="302.54" width="5.16" height="4.20" fill="#637576"/>
<rect x="152.35" y="302.54" width="5.16" height="4.20" fill="#647677"/>
<rect x="157.46" y="302.54" width="5.16" height="4.20" fill="#657778"/>
<rect x="162.57" y="302.54" width="5.16" height="4.20" fill="#687a7b"/>
<rect x="167.68" y="302.54" width="5.16" height="4.20" fill="#687a7b"/>
<rect x="172.78" y="302.54" width="5.16" height="4.20" fill="#687a7b"/>
<rect x="177.89" y="302.54" width="5.16" height="4.20" fill="#647677"/>
<rect x="183.00" y="302.54" width="5.16" height="4.20" fill="#667879"/>
<rect x="188.10" y="302.54" width="5.16" height="4.20" fill="#657778"/>
<rect x="40.00" y="306.69" width="5.16" height="4.20" fill="#667879"/>
<rect x="45.11" y="306.69" width="5.16" height="4.20" fill="#67797a"/>
<rect x="50.21" y="306.69" width="5.16" height="4.20" fill="#667879"/>
<rect x="55.32" y="306.69" width="5.16" height="4.20" fill="#687a7b"/>
<rect x="60.43" y="306.69" width="5.16" height="4.20" fill="#697b7c"/>
<rect x="65.53" y="306.69" width="5.16" height="4.20" fill="#657778"/>
<rect x="70.64" y="306.69" width="5.16" height="4.20" fill="#637576"/>
<rect x="75.75" y="306.69" width="5.16" height="4.20" fill="#657778"/>
<rect x="80.86" y="306.69" width="5.16" height="4.20" fill="#697b7c"/>
<rect x="85.96" y="306.69" width="5.16" height="4.20" fill="#687a7b"/>
<rect x="91.07" y="306.69" width="5.16" height="4.20" fill="#657778"/>
<rect x="96.18" y="306.69" width="5.16" height="4.20" fill="#576869"/>
<rect x="101.28" y="306.69" width="5.16" height="4.20" fill="#576869"/>
<rect x="106.39" y="306.69" width="5.16" height="4.20" fill="#5e7071"/>
<rect x="111.50" y="306.69" width="5.16" height="4.20" fill="#687a7b"/>
<rect x="116.61" y="306.69" width="5.16" height="4.20" fill="#647677"/>
<rect x="121.71" y="306.69" width="5.16" height="4.20" fill="#7e8e8f"/>
<rect x="126.82" y="306.69" width="5.16" height="4.20" fill="#849393"/>
<rect x="131.93" y="306.69" width="5.16" height="4.20" fill="#798a8b"/>
<rect x="137.03" y="306.69" width="5.16" height="4.20" fill="#697b7c"/>
<rect x="142.14" y="306.69" width="5.16" height="4.20" fill="#667879"/>
<rect x="147.25" y="306.69" width="5.16" height="4.20" fill="#627475"/>
<rect x="152.35" y="306.69" width="5.16" height="4.20" fill="#647677"/>
<rect x="157.46" y="306.69" width="5.16" height="4.20" fill="#657778"/>
<rect x="162.57" y="306.69" width="5.16" height="4.20" fill="#687a7b"/>
<rect x="167.68" y="306.69" width="5.16" height="4.20" fill="#6b7c7d"/>
<rect x="172.78" y="306.69" width="5.16" height="4.20" fill="#697b7c"/>
<rect x="177.89" y="306.69" width="5.16" height="4.20" fill="#657778"/>
<rect x="183.00" y="306.69" width="5.16" height="4.20" fill="#657778"/>
<rect x="188.10" y="306.69" width="5.16" height="4.20" fill="#687a7b"/>
<rect x="40.00" y="310.83" width="5.16" height="4.20" fill="#67797a"/>
<rect x="45.11" y="310.83" width="5.16" height="4.20" fill="#67797a"/>
<rect x="50.21" y="310.83" width="5.16" height="4.20" fill="#657778"/>
<rect x="55.32" y="310.83" width="5.16" height="4.20" fill="#6b7c7d"/>
<rect x="60.43" y="310.83" width="5.16" height="4.20" fill="#6a7c7d"/>
<rect x="65.53" y="310.83" width="5.16" height="4.20" fill="#647677"/>
<rect x="70.64" y="310.83" width="5.16" height="4.20" fill="#647677"/>
<rect x="75.75" y="310.83" width="5.16" height="4.20" fill="#667879"/>
<rect x="80.86" y="310.83" width="5.16" height="4.20" fill="#6a7c7d"/>
<rect x="85.96" y="310.83" width="5.16" height="4.20" fill="#67797a"/>
<rect x="91.07" y="310.83" width="5.16" height="4.20" fill="#657778"/>
<rect x="96.18" y="310.83" width="5.16" height="4.20" fill="#627475"/>
<rect x="101.28" y="310.83" width="5.16" height="4.20" fill="#667879"/>
<rect x="106.39" y="310.83" width="5.16" height="4.20" fill="#687a7b"/>
<rect x="111.50" y="310.83" width="5.16" height="4.20" fill="#67797a"/>
<rect x="116.61" y="310.83" width="5.16" height="4.20" fill="#637576"/>
<rect x="121.71" y="310.83" width="5.16" height="4.20" fill="#637576"/>
<rect x="126.82" y="310.83" width="5.16" height="4.20" fill="#657778"/>
<rect x="131.93" y="310.83" width="5.16" height="4.20" fill="#697b7c"/>
<rect x="137.03" y="310.83" width="5.16" height="4.20" fill="#687a7b"/>
<rect x="142.14" y="310.83" width="5.16" height="4.20" fill="#647677"/>
<rect x="147.25" y="310.83" width="5.16" height="4.20" fill="#637576"/>
<rect x="152.35" y="310.83" width="5.16" height="4.20" fill="#637576"/>
<rect x="157.46" y="310.83" width="5.16" height="4.20" fill="#657778"/>
<rect x="162.57" y="310.83" width="5.16" height="4.20" fill="#687a7b"/>
<rect x="167.68" y="310.83" width="5.16" height="4.20" fill="#697b7c"/>
<rect x="172.78" y="310.83" width="5.16" height="4.20" fill="#667879"/>
<rect x="177.89" y="310.83" width="5.16" height="4.20" fill="#667879"/>
<rect x="183.00" y="310.83" width="5.16" height="4.20" fill="#657778"/>
<rect x="188.10" y="310.83" width="5.16" height="4.20" fill="#657778"/>
<rect x="40.00" y="314.98" width="5.16" height="4.20" fill="#67797a"/>
<rect x="45.11" y="314.98" width="5.16" height="4.20" fill="#697b7c"/>
<rect x="50.21" y="314.98" width="5.16" height="4.20" fill="#647677"/>
<rect x="55.32" y="314.98" width="5.16" height="4.20" fill="#67797a"/>
<rect x="60.43" y="314.98" width="5.16" height="4.20" fill="#6a7c7d"/>
<rect x="65.53" y="314.98" width="5.16" height="4.20" fill="#647576"/>
<rect x="70.64" y="314.98" width="5.16" height="4.20" fill="#657778"/>
<rect x="75.75" y="314.98" width="5.16" height="4.20" fill="#667879"/>
<rect x="80.86" y="314.98" width="5.16" height="4.20" fill="#697b7c"/>
<rect x="85.96" y="314.98" width="5.16" height="4.20" fill="#697b7c"/>
<rect x="91.07" y="314.98" width="5.16" height="4.20" fill="#657778"/>
<rect x="96.18" y="314.98" width="5.16" height="4.20" fill="#657778"/>
<rect x="101.28" y="314.98" width="5.16" height="4.20" fill="#67797a"/>
<rect x="106.39" y="314.98" width="5.16" height="4.20" fill="#67797a"/>
<rect x="111.50" y="314.98" width="5.16" height="4.20" fill="#667879"/>
<rect x="116.61" y="314.98" width="5.16" height="4.20" fill="#647677"/>
<rect x="121.71" y="314.98" width="5.16" height="4.20" fill="#647677"/>
<rect x="126.82" y="314.98" width="5.16" height="4.20" fill="#657778"/>
<rect x="131.93" y="314.98" width="5.16" height="4.20" fill="#697b7c"/>
<rect x="137.03" y="314.98" width="5.16" height="4.20" fill="#697b7c"/>
<rect x="142.14" y="314.98" width="5.16" height="4.20" fill="#667879"/>
<rect x="147.25" y="314.98" width="5.16" height="4.20" fill="#657778"/>
<rect x="152.35" y="314.98" width="5.16" height="4.20" fill="#647677"/>
<rect x="157.46" y="314.98" width="5.16" height="4.20" fill="#657778"/>
<rect x="162.57" y="314.98" width="5.16" height="4.20" fill="#697b7c"/>
<rect x="167.68" y="314.98" width="5.16" height="4.20" fill="#6c7e7f"/>
<rect x="172.78" y="314.98" width="5.16" height="4.20" fill="#687a7b"/>
<rect x="177.89" y="314.98" width="5.16" height="4.20" fill="#67797a"/>
<rect x="183.00" y="314.98" width="5.16" height="4.20" fill="#647677"/>
<rect x="188.10" y="314.98" width="5.16" height="4.20" fill="#67797a"/>
<rect x="40.00" y="319.13" width="5.16" height="4.20" fill="#657778"/>
<rect x="45.11" y="319.13" width="5.16" height="4.20" fill="#657778"/>
<rect x="50.21" y="319.13" width="5.16" height="4.20" fill="#657778"/>
<rect x="55.32" y="319.13" width="5.16" height="4.20" fill="#697b7c"/>
<rect x="60.43" y="319.13" width="5.16" height="4.20" fill="#697b7c"/>
<rect x="65.53" y="319.13" width="5.16" height="4.20" fill="#657778"/>
<rect x="70.64" y="319.13" width="5.16" height="4.20" fill="#647677"/>
<rect x="75.75" y="319.13" width="5.16" height="4.20" fill="#67797a"/>
<rect x="80.86" y="319.13" width="5.16" height="4.20" fill="#6c7e7f"/>
<rect x="85.96" y="319.13" width="5.16" height="4.20" fill="#697b7c"/>
<rect x="91.07" y="319.13" width="5.16" height="4.20" fill="#657778"/>
<rect x="96.18" y="319.13" width="5.16" height="4.20" fill="#667879"/>
<rect x="101.28" y="319.13" width="5.16" height="4.20" fill="#68797a"/>
<rect x="106.39" y="319.13" width="5.16" height="4.20" fill="#687a7b"/>
<rect x="111.50" y="319.13" width="5.16" height="4.20" fill="#67797a"/>
<rect x="116.61" y="319.13" width="5.16" height="4.20" fill="#667879"/>
<rect x="121.71" y="319.13" width="5.16" height="4.20" fill="#627475"/>
<rect x="126.82" y="319.13" width="5.16" height="4.20" fill="#637576"/>
<rect x="131.93" y="319.13" width="5.16" height="4.20" fill="#697b7c"/>
<rect x="137.03" y="319.13" width="5.16" height="4.20" fill="#67797a"/>
<rect x="142.14" y="319.13" width="5.16" height="4.20" fill="#647677"/>
<rect x="147.25" y="319.13" width="5.16" height="4.20" fill="#657778"/>
<rect x="152.35" y="319.13" width="5.16" height="4.20" fill="#637576"/>
<rect x="157.46" y="319.13" width="5.16" height="4.20" fill="#657778"/>
<rect x="162.57" y="319.13" width="5.16" height="4.20" fill="#697b7c"/>
<rect x="167.68" y="319.13" width="5.16" height="4.20" fill="#687a7b"/>
<rect x="172.78" y="319.13" width="5.16" height="4.20" fill="#687a7b"/>
<rect x="177.89" y="319.13" width="5.16" height="4.20" fill="#657778"/>
<rect x="183.00" y="319.13" width="5.16" height="4.20" fill="#647677"/>
<rect x="188.10" y="319.13" width="5.16" height="4.20" fill="#657778"/>
<rect x="40.00" y="323.27" width="5.16" height="4.20" fill="#667879"/>
<rect x="45.11" y="323.27" width="5.16" height="4.20" fill="#667879"/>
<rect x="50.21" y="323.27" width="5.16" height="4.20" fill="#657778"/>
<rect x="55.32" y="323.27" width="5.16" height="4.20" fill="#6a7c7d"/>
<rect x="60.43" y="323.27" width="5.16" height="4.20" fill="#6a7c7d"/>
<rect x="65.53" y="323.27" width="5.16" height="4.20" fill="#657778"/>
<rect x="70.64" y="323.27" width="5.16" height="4.20" fill="#647677"/>
<rect x="75.75" y="323.27" width="5.16" height="4.20" fill="#667879"/>
<rect x="80.86" y="323.27" width="5.16" height="4.20" fill="#687a7b"/>
<rect x="85.96" y="323.27" width="5.16" height="4.20" fill="#67797a"/>
<rect x="91.07" y="323.27" width="5.16" height="4.20" fill="#657778"/>
<rect x="96.18" y="323.27" width="5.16" height="4.20" fill="#657778"/>
<rect x="101.28" y="323.27" width="5.16" height="4.20" fill="#67797a"/>
<rect x="106.39" y="323.27" width="5.16" height="4.20" fill="#67797a"/>
<rect x="111.50" y="323.27" width="5.16" height="4.20" fill="#667879"/>
<rect x="116.61" y="323.27" width="5.16" height="4.20" fill="#647677"/>
<rect x="121.71" y="323.27" width="5.16" height="4.20" fill="#637576"/>
<rect x="126.82" y="323.27" width="5.16" height="4.20" fill="#657778"/>
<rect x="131.93" y="323.27" width="5.16" height="4.20" fill="#6b7d7e"/>
<rect x="137.03" y="323.27" width="5.16" height="4.20" fill="#687a7b"/>
<rect x="142.14" y="323.27" width="5.16" height="4.20" fill="#67797a"/>
<rect x="147.25" y="323.27" width="5.16" height="4.20" fill="#627475"/>
<rect x="152.35" y="323.27" width="5.16" height="4.20" fill="#627475"/>
<rect x="157.46" y="323.27" width="5.16" height="4.20" fill="#637576"/>
<rect x="162.57" y="323.27" width="5.16" height="4.20" fill="#67797a"/>
<rect x="167.68" y="323.27" width="5.16" height="4.20" fill="#697b7c"/>
<rect x="172.78" y="323.27" width="5.16" height="4.20" fill="#6a7c7d"/>
<rect x="177.89" y="323.27" width="5.16" height="4.20" fill="#657778"/>
<rect x="183.00" y="323.27" width="5.16" height="4.20" fill="#667879"/>
<rect x="188.10" y="323.27" width="5.16" height="4.20" fill="#657778"/>
<rect x="40.00" y="327.42" width="5.16" height="4.20" fill="#67797a"/>
<rect x="45.11" y="327.42" width="5.16" height="4.20" fill="#657778"/>
<rect x="50.21" y="327.42" width="5.16" height="4.20" fill="#687a7b"/>
<rect x="55.32" y="327.42" width="5.16" height="4.20" fill="#697b7c"/>
<rect x="60.43" y="327.42" width="5.16" height="4.20" fill="#687a7b"/>
<rect x="65.53" y="327.42" width="5.16" height="4.20" fill="#67797a"/>
<rect x="70.64" y="327.42" width="5.16" height="4.20" fill="#647677"/>
<rect x="75.75" y="327.42" width="5.16" height="4.20" fill="#687a7b"/>
<rect x="80.86" y="327.42" width="5.16" height="4.20" fill="#697b7c"/>
<rect x="85.96" y="327.42" width="5.16" height="4.20" fill="#67797a"/>
<rect x="91.07" y="327.42" width="5.16" height="4.20" fill="#637576"/>
<rect x="96.18" y="327.42" width="5.16" height="4.20" fill="#647677"/>
<rect x="101.28" y="327.42" width="5.16" height="4.20" fill="#687a7b"/>
<rect x="106.39" y="327.42" width="5.16" height="4.20" fill="#687a7b"/>
<rect x="111.50" y="327.42" width="5.16" height="4.20" fill="#667879"/>
<rect x="116.61" y="327.42" width="5.16" height="4.20" fill="#657778"/>
<rect x="121.71" y="327.42" width="5.16" height="4.20" fill="#627475"/>
<rect x="126.82" y="327.42" width="5.16" height="4.20" fill="#657778"/>
<rect x="131.93" y="327.42" width="5.16" height="4.20" fill="#697b7c"/>
<rect x="137.03" y="327.42" width="5.16" height="4.20" fill="#687a7b"/>
<rect x="142.14" y="327.42" width="5.16" height="4.20" fill="#657778"/>
<rect x="147.25" y="327.42" width="5.16" height="4.20" fill="#647677"/>
<rect x="152.35" y="327.42" width="5.16" height="4.20" fill="#647677"/>
<rect x="157.46" y="327.42" width="5.16" height="4.20" fill="#657778"/>
<rect x="162.57" y="327.42" width="5.16" height="4.20" fill="#697b7c"/>
<rect x="167.68" y="327.42" width="5.16" height="4.20" fill="#6b7d7e"/>
<rect x="172.78" y="327.42" width="5.16" height="4.20" fill="#67797a"/>
<rect x="177.89" y="327.42" width="5.16" height="4.20" fill="#637576"/>
<rect x="183.00" y="327.42" width="5.16" height="4.20" fill="#67797a"/>
<rect x="188.10" y="327.42" width="5.16" height="4.20" fill="#657778"/>
<rect x="40.00" y="331.57" width="5.16" height="4.20" fill="#667879"/>
<rect x="45.11" y="331.57" width="5.16" height="4.20" fill="#67797a"/>
<rect x="50.21" y="331.57" width="5.16" height="4.20" fill="#657778"/>
<rect x="55.32" y="331.57" width="5.16" height="4.20" fill="#6a7c7d"/>
<rect x="60.43" y="331.57" width="5.16" height="4.20" fill="#687a7b"/>
<rect x="65.53" y="331.57" width="5.16" height="4.20" fill="#647677"/>
<rect x="70.64" y="331.57" width="5.16" height="4.20" fill="#637576"/>
<rect x="75.75" y="331.57" width="5.16" height="4.20" fill="#697b7c"/>
<rect x="80.86" y="331.57" width="5.16" height="4.20" fill="#697b7c"/>
<rect x="85.96" y="331.57" width="5.16" height="4.20" fill="#697b7c"/>
<rect x="91.07" y="331.57" width="5.16" height="4.20" fill="#667879"/>
<rect x="96.18" y="331.57" width="5.16" height="4.20" fill="#637576"/>
<rect x="101.28" y="331.57" width="5.16" height="4.20" fill="#667879"/>
<rect x="106.39" y="331.57" width="5.16" height="4.20" fill="#687a7b"/>
<rect x="111.50" y="331.57" width="5.16" height="4.20" fill="#67797a"/>
<rect x="116.61" y="331.57" width="5.16" height="4.20" fill="#647677"/>
<rect x="121.71" y="331.57" width="5.16" height="4.20" fill="#647677"/>
<rect x="126.82" y="331.57" width="5.16" height="4.20" fill="#657778"/>
<rect x="131.93" y="331.57" width="5.16" height="4.20" fill="#687a7b"/>
<rect x="137.03" y="331.57" width="5.16" height="4.20" fill="#697b7c"/>
<rect x="142.14" y="331.57" width="5.16" height="4.20" fill="#657778"/>
<rect x="147.25" y="331.57" width="5.16" height="4.20" fill="#647677"/>
<rect x="152.35" y="331.57" width="5.16" height="4.20" fill="#647677"/>
<rect x="157.46" y="331.57" width="5.16" height="4.20" fill="#647677"/>
<rect x="162.57" y="331.57" width="5.16" height="4.20" fill="#6a7c7d"/>
<rect x="167.68" y="331.57" width="5.16" height="4.20" fill="#697b7c"/>
<rect x="172.78" y="331.57" width="5.16" height="4.20" fill="#687a7b"/>
<rect x="177.89" y="331.57" width="5.16" height="4.20" fill="#667879"/>
<rect x="183.00" y="331.57" width="5.16" height="4.20" fill="#657778"/>
<rect x="188.10" y="331.57" width="5.16" height="4.20" fill="#667879"/>
<rect x="40.00" y="335.72" width="5.16" height="4.20" fill="#667879"/>
<rect x="45.11" y="335.72" width="5.16" height="4.20" fill="#67797a"/>
<rect x="50.21" y="335.72" width="5.16" height="4.20" fill="#67797a"/>
<rect x="55.32" y="335.72" width="5.16" height="4.20" fill="#6a7b7c"/>
<rect x="60.43" y="335.72" width="5.16" height="4.20" fill="#6a7c7d"/>
<rect x="65.53" y="335.72" width="5.16" height="4.20" fill="#657778"/>
<rect x="70.64" y="335.72" width="5.16" height="4.20" fill="#647677"/>
<rect x="75.75" y="335.72" width="5.16" height="4.20" fill="#697b7c"/>
<rect x="80.86" y="335.72" width="5.16" height="4.20" fill="#687a7b"/>
<rect x="85.96" y="335.72" width="5.16" height="4.20" fill="#697b7c"/>
<rect x="91.07" y="335.72" width="5.16" height="4.20" fill="#657778"/>
<rect x="96.18" y="335.72" width="5.16" height="4.20" fill="#657778"/>
<rect x="101.28" y="335.72" width="5.16" height="4.20" fill="#657778"/>
<rect x="106.39" y="335.72" width="5.16" height="4.20" fill="#667879"/>
<rect x="111.50" y="335.72" width="5.16" height="4.20" fill="#687a7b"/>
<rect x="116.61" y="335.72" width="5.16" height="4.20" fill="#637576"/>
<rect x="121.71" y="335.72" width="5.16" height="4.20" fill="#637576"/>
<rect x="126.82" y="335.72" width="5.16" height="4.20" fill="#647677"/>
<rect x="131.93" y="335.72" width="5.16" height="4.20" fill="#697b7c"/>
<rect x="137.03" y="335.72" width="5.16" height="4.20" fill="#67797a"/>
<rect x="142.14" y="335.72" width="5.16" height="4.20" fill="#637576"/>
<rect x="147.25" y="335.72" width="5.16" height="4.20" fill="#647677"/>
<rect x="152.35" y="335.72" width="5.16" height="4.20" fill="#637576"/>
<rect x="157.46" y="335.72" width="5.16" height="4.20" fill="#647677"/>
<rect x="162.57" y="335.72" width="5.16" height="4.20" fill="#687a7b"/>
<rect x="167.68" y="335.72" width="5.16" height="4.20" fill="#697b7c"/>
<rect x="172.78" y="335.72" width="5.16" height="4.20" fill="#67797a"/>
<rect x="177.89" y="335.72" width="5.16" height="4.20" fill="#647677"/>
<rect x="183.00" y="335.72" width="5.16" height="4.20" fill="#667879"/>
<rect x="188.10" y="335.72" width="5.16" height="4.20" fill="#657778"/>
<rect x="40.00" y="339.86" width="5.16" height="4.20" fill="#657778"/>
<rect x="45.11" y="339.86" width="5.16" height="4.20" fill="#647677"/>
<rect x="50.21" y="339.86" width="5.16" height="4.20" fill="#667879"/>
<rect x="55.32" y="339.86" width="5.16" height="4.20" fill="#687a7b"/>
<rect x="60.43" y="339.86" width="5.16" height="4.20" fill="#687a7b"/>
<rect x="65.53" y="339.86" width="5.16" height="4.20" fill="#657778"/>
<rect x="70.64" y="339.86" width="5.16" height="4.20" fill="#647677"/>
<rect x="75.75" y="339.86" width="5.16" height="4.20" fill="#687a7b"/>
<rect x="80.86" y="339.86" width="5.16" height="4.20" fill="#687a7b"/>
<rect x="85.96" y="339.86" width="5.16" height="4.20" fill="#657778"/>
<rect x="91.07" y="339.86" width="5.16" height="4.20" fill="#637576"/>
<rect x="96.18" y="339.86" width="5.16" height="4.20" fill="#647677"/>
<rect x="101.28" y="339.86" width="5.16" height="4.20" fill="#667879"/>
<rect x="106.39" y="339.86" width="5.16" height="4.20" fill="#687a7b"/>
<rect x="111.50" y="339.86" width="5.16" height="4.20" fill="#67797a"/>
<rect x="116.61" y="339.86" width="5.16" height="4.20" fill="#637576"/>
<rect x="121.71" y="339.86" width="5.16" height="4.20" fill="#647677"/>
<rect x="126.82" y="339.86" width="5.16" height="4.20" fill="#647677"/>
<rect x="131.93" y="339.86" width="5.16" height="4.20" fill="#697b7c"/>
<rect x="137.03" y="339.86" width="5.16" height="4.20" fill="#6a7c7d"/>
<rect x="142.14" y="339.86" width="5.16" height="4.20" fill="#637576"/>
<rect x="147.25" y="339.86" width="5.16" height="4.20" fill="#657778"/>
<rect x="152.35" y="339.86" width="5.16" height="4.20" fill="#657778"/>
<rect x="157.46" y="339.86" width="5.16" height="4.20" fill="#637576"/>
<rect x="162.57" y="339.86" width="5.16" height="4.20" fill="#687a7b"/>
<rect x="167.68" y="339.86" width="5.16" height="4.20" fill="#697b7c"/>
<rect x="172.78" y="339.86" width="5.16" height="4.20" fill="#67797a"/>
<rect x="177.89" y="339.86" width="5.16" height="4.20" fill="#657778"/>
<rect x="183.00" y="339.86" width="5.16" height="4.20" fill="#647677"/>
<rect x="188.10" y="339.86" width="5.16" height="4.20" fill="#667879"/>
<rect x="40.00" y="344.01" width="5.16" height="4.20" fill="#667879"/>
<rect x="45.11" y="344.01" width="5.16" height="4.20" fill="#647677"/>
<rect x="50.21" y="344.01" width="5.16" height="4.20" fill="#67797a"/>
<rect x="55.32" y="344.01" width="5.16" height="4.20" fill="#6a7c7d"/>
<rect x="60.43" y="344.01" width="5.16" height="4.20" fill="#687a7b"/>
<rect x="65.53" y="344.01" width="5.16" height="4.20" fill="#657778"/>
<rect x="70.64" y="344.01" width="5.16" height="4.20" fill="#667879"/>
<rect x="75.75" y="344.01" width="5.16" height="4.20" fill="#667879"/>
<rect x="80.86" y="344.01" width="5.16" height="4.20" fill="#697b7c"/>
<rect x="85.96" y="344.01" width="5.16" height="4.20" fill="#687a7b"/>
<rect x="91.07" y="344.01" width="5.16" height="4.20" fill="#657778"/>
<rect x="96.18" y="344.01" width="5.16" height="4.20" fill="#647677"/>
<rect x="101.28" y="344.01" width="5.16" height="4.20" fill="#657778"/>
<rect x="106.39" y="344.01" width="5.16" height="4.20" fill="#697b7c"/>
<rect x="111.50" y="344.01" width="5.16" height="4.20" fill="#667879"/>
<rect x="116.61" y="344.01" width="5.16" height="4.20" fill="#657778"/>
<rect x="121.71" y="344.01" width="5.16" height="4.20" fill="#657778"/>
<rect x="126.82" y="344.01" width="5.16" height="4.20" fill="#637576"/>
<rect x="131.93" y="344.01" width="5.16" height="4.20" fill="#697b7c"/>
<rect x="137.03" y="344.01" width="5.16" height="4.20" fill="#6a7c7d"/>
<rect x="142.14" y="344.01" width="5.16" height="4.20" fill="#657778"/>
<rect x="147.25" y="344.01" width="5.16" height="4.20" fill="#647677"/>
<rect x="152.35" y="344.01" width="5.16" height="4.20" fill="#647677"/>
<rect x="157.46" y="344.01" width="5.16" height="4.20" fill="#687a7b"/>
<rect x="162.57" y="344.01" width="5.16" height="4.20" fill="#697b7c"/>
<rect x="167.68" y="344.01" width="5.16" height="4.20" fill="#697b7c"/>
<rect x="172.78" y="344.01" width="5.16" height="4.20" fill="#687a7b"/>
<rect x="177.89" y="344.01" width="5.16" height="4.20" fill="#667879"/>
<rect x="183.00" y="344.01" width="5.16" height="4.20" fill="#637576"/>
<rect x="188.10" y="344.01" width="5.16" height="4.20" fill="#657778"/>
<rect x="40.00" y="348.16" width="5.16" height="4.20" fill="#67797a"/>
<rect x="45.11" y="348.16" width="5.16" height="4.20" fill="#657778"/>
<rect x="50.21" y="348.16" width="5.16" height="4.20" fill="#667879"/>
<rect x="55.32" y="348.16" width="5.16" height="4.20" fill="#697b7c"/>
<rect x="60.43" y="348.16" width="5.16" height="4.20" fill="#697a7b"/>
<rect x="65.53" y="348.16" width="5.16" height="4.20" fill="#67797a"/>
<rect x="70.64" y="348.16" width="5.16" height="4.20" fill="#657778"/>
<rect x="75.75" y="348.16" width="5.16" height="4.20" fill="#687a7b"/>
<rect x="80.86" y="348.16" width="5.16" height="4.20" fill="#687a7b"/>
<rect x="85.96" y="348.16" width="5.16" height="4.20" fill="#687a7b"/>
<rect x="91.07" y="348.16" width="5.16" height="4.20" fill="#647677"/>
<rect x="96.18" y="348.16" width="5.16" height="4.20" fill="#647677"/>
<rect x="101.28" y="348.16" width="5.16" height="4.20" fill="#67797a"/>
<rect x="106.39" y="348.16" width="5.16" height="4.20" fill="#6a7c7d"/>
<rect x="111.50" y="348.16" width="5.16" height="4.20" fill="#687a7b"/>
<rect x="116.61" y="348.16" width="5.16" height="4.20" fill="#667879"/>
<rect x="121.71" y="348.16" width="5.16" height="4.20" fill="#657778"/>
<rect x="126.82" y="348.16" width="5.16" height="4.20" fill="#67797a"/>
<rect x="131.93" y="348.16" width="5.16" height="4.20" fill="#687a7b"/>
<rect x="137.03" y="348.16" width="5.16" height="4.20" fill="#687a7b"/>
<rect x="142.14" y="348.16" width="5.16" height="4.20" fill="#657778"/>
<rect x="147.25" y="348.16" width="5.16" height="4.20" fill="#647677"/>
<rect x="152.35" y="348.16" width="5.16" height="4.20" fill="#647677"/>
<rect x="157.46" y="348.16" width="5.16" height="4.20" fill="#647677"/>
<rect x="162.57" y="348.16" width="5.16" height="4.20" fill="#697b7c"/>
<rect x="167.68" y="348.16" width="5.16" height="4.20" fill="#6b7d7e"/>
<rect x="172.78" y="348.16" width="5.16" height="4.20" fill="#687a7b"/>
<rect x="177.89" y="348.16" width="5.16" height="4.20" fill="#657778"/>
<rect x="183.00" y="348.16" width="5.16" height="4.20" fill="#667879"/>
<rect x="188.10" y="348.16" width="5.16" height="4.20" fill="#657778"/>
<rect x="40.00" y="352.30" width="5.16" height="4.20" fill="#667879"/>
<rect x="45.11" y="352.30" width="5.16" height="4.20" fill="#67797a"/>
<rect x="50.21" y="352.30" width="5.16" height="4.20" fill="#637576"/>
<rect x="55.32" y="352.30" width="5.16" height="4.20" fill="#6b7d7e"/>
<rect x="60.43" y="352.30" width="5.16" height="4.20" fill="#697b7c"/>
<rect x="65.53" y="352.30" width="5.16" height="4.20" fill="#657778"/>
<rect x="70.64" y="352.30" width="5.16" height="4.20" fill="#647677"/>
<rect x="75.75" y="352.30" width="5.16" height="4.20" fill="#687a7b"/>
<rect x="80.86" y="352.30" width="5.16" height="4.20" fill="#687a7b"/>
<rect x="85.96" y="352.30" width="5.16" height="4.20" fill="#6a7c7d"/>
<rect x="91.07" y="352.30" width="5.16" height="4.20" fill="#657778"/>
<rect x="96.18" y="352.30" width="5.16" height="4.20" fill="#657778"/>
<rect x="101.28" y="352.30" width="5.16" height="4.20" fill="#6a7c7d"/>
<rect x="106.39" y="352.30" width="5.16" height="4.20" fill="#667879"/>
<rect x="111.50" y="352.30" width="5.16" height="4.20" fill="#67797a"/>
<rect x="116.61" y="352.30" width="5.16" height="4.20" fill="#647677"/>
<rect x="121.71" y="352.30" width="5.16" height="4.20" fill="#627374"/>
<rect x="126.82" y="352.30" width="5.16" height="4.20" fill="#667879"/>
<rect x="131.93" y="352.30" width="5.16" height="4.20" fill="#67797a"/>
<rect x="137.03" y="352.30" width="5.16" height="4.20" fill="#697b7c"/>
<rect x="142.14" y="352.30" width="5.16" height="4.20" fill="#657778"/>
<rect x="147.25" y="352.30" width="5.16" height="4.20" fill="#647677"/>
<rect x="152.35" y="352.30" width="5.16" height="4.20" fill="#637576"/>
<rect x="157.46" y="352.30" width="5.16" height="4.20" fill="#667879"/>
<rect x="162.57" y="352.30" width="5.16" height="4.20" fill="#687a7b"/>
<rect x="167.68" y="352.30" width="5.16" height="4.20" fill="#687a7b"/>
<rect x="172.78" y="352.30" width="5.16" height="4.20" fill="#67797a"/>
<rect x="177.89" y="352.30" width="5.16" height="4.20" fill="#667879"/>
<rect x="183.00" y="352.30" width="5.16" height="4.20" fill="#647677"/>
<rect x="188.10" y="352.30" width="5.16" height="4.20" fill="#667879"/>
<rect x="40.00" y="356.45" width="5.16" height="4.20" fill="#67797a"/>
<rect x="45.11" y="356.45" width="5.16" height="4.20" fill="#667879"/>
<rect x="50.21" y="356.45" width="5.16" height="4.20" fill="#647677"/>
<rect x="55.32" y="356.45" width="5.16" height="4.20" fill="#687a7b"/>
<rect x="60.43" y="356.45" width="5.16" height="4.20" fill="#697b7c"/>
<rect x="65.53" y="356.45" width="5.16" height="4.20" fill="#647677"/>
<rect x="70.64" y="356.45" width="5.16" height="4.20" fill="#667879"/>
<rect x="75.75" y="356.45" width="5.16" height="4.20" fill="#67797a"/>
<rect x="80.86" y="356.45" width="5.16" height="4.20" fill="#6a7b7c"/>
<rect x="85.96" y="356.45" width="5.16" height="4.20" fill="#697b7c"/>
<rect x="91.07" y="356.45" width="5.16" height="4.20" fill="#647677"/>
<rect x="96.18" y="356.45" width="5.16" height="4.20" fill="#657778"/>
<rect x="101.28" y="356.45" width="5.16" height="4.20" fill="#687a7b"/>
<rect x="106.39" y="356.45" width="5.16" height="4.20" fill="#67797a"/>
<rect x="111.50" y="356.45" width="5.16" height="4.20" fill="#67797a"/>
<rect x="116.61" y="356.45" width="5.16" height="4.20" fill="#647677"/>
<rect x="121.71" y="356.45" width="5.16" height="4.20" fill="#657778"/>
<rect x="126.82" y="356.45" width="5.16" height="4.20" fill="#647677"/>
<rect x="131.93" y="356.45" width="5.16" height="4.20" fill="#6a7c7d"/>
<rect x="137.03" y="356.45" width="5.16" height="4.20" fill="#667879"/>
<rect x="142.14" y="356.45" width="5.16" height="4.20" fill="#647677"/>
<rect x="147.25" y="356.45" width="5.16" height="4.20" fill="#637576"/>
<rect x="152.35" y="356.45" width="5.16" height="4.20" fill="#647677"/>
<rect x="157.46" y="356.45" width="5.16" height="4.20" fill="#647677"/>
<rect x="162.57" y="356.45" width="5.16" height="4.20" fill="#67797a"/>
<rect x="167.68" y="356.45" width="5.16" height="4.20" fill="#697b7c"/>
<rect x="172.78" y="356.45" width="5.16" height="4.20" fill="#697b7c"/>
<rect x="177.89" y="356.45" width="5.16" height="4.20" fill="#67797a"/>
<rect x="183.00" y="356.45" width="5.16" height="4.20" fill="#657778"/>
<rect x="188.10" y="356.45" width="5.16" height="4.20" fill="#67797a"/>
<rect x="40.00" y="360.60" width="5.16" height="4.20" fill="#667879"/>
<rect x="45.11" y="360.60" width="5.16" height="4.20" fill="#67797a"/>
<rect x="50.21" y="360.60" width="5.16" height="4.20" fill="#657778"/>
<rect x="55.32" y="360.60" width="5.16" height="4.20" fill="#6a7c7d"/>
<rect x="60.43" y="360.60" width="5.16" height="4.20" fill="#6c7e7f"/>
<rect x="65.53" y="360.60" width="5.16" height="4.20" fill="#647677"/>
<rect x="70.64" y="360.60" width="5.16" height="4.20" fill="#657778"/>
<rect x="75.75" y="360.60" width="5.16" height="4.20" fill="#667879"/>
<rect x="80.86" y="360.60" width="5.16" height="4.20" fill="#687a7b"/>
<rect x="85.96" y="360.60" width="5.16" height="4.20" fill="#6b7d7e"/>
<rect x="91.07" y="360.60" width="5.16" height="4.20" fill="#647677"/>
<rect x="96.18" y="360.60" width="5.16" height="4.20" fill="#657778"/>
<rect x="101.28" y="360.60" width="5.16" height="4.20" fill="#657778"/>
<rect x="106.39" y="360.60" width="5.16" height="4.20" fill="#67797a"/>
<rect x="111.50" y="360.60" width="5.16" height="4.20" fill="#667879"/>
<rect x="116.61" y="360.60" width="5.16" height="4.20" fill="#657778"/>
<rect x="121.71" y="360.60" width="5.16" height="4.20" fill="#637475"/>
<rect x="126.82" y="360.60" width="5.16" height="4.20" fill="#67797a"/>
<rect x="131.93" y="360.60" width="5.16" height="4.20" fill="#687a7b"/>
<rect x="137.03" y="360.60" width="5.16" height="4.20" fill="#697b7c"/>
<rect x="142.14" y="360.60" width="5.16" height="4.20" fill="#637576"/>
<rect x="147.25" y="360.60" width="5.16" height="4.20" fill="#637576"/>
<rect x="152.35" y="360.60" width="5.16" height="4.20" fill="#657778"/>
<rect x="157.46" y="360.60" width="5.16" height="4.20" fill="#657778"/>
<rect x="162.57" y="360.60" width="5.16" height="4.20" fill="#67797a"/>
<rect x="167.68" y="360.60" width="5.16" height="4.20" fill="#6a7c7d"/>
<rect x="172.78" y="360.60" width="5.16" height="4.20" fill="#697b7c"/>
<rect x="177.89" y="360.60" width="5.16" height="4.20" fill="#667879"/>
<rect x="183.00" y="360.60" width="5.16" height="4.20" fill="#667879"/>
<rect x="188.10" y="360.60" width="5.16" height="4.20" fill="#647677"/>
<rect x="40.00" y="364.75" width="5.16" height="4.20" fill="#687a7b"/>
<rect x="45.11" y="364.75" width="5.16" height="4.20" fill="#67797a"/>
<rect x="50.21" y="364.75" width="5.16" height="4.20" fill="#637576"/>
<rect x="55.32" y="364.75" width="5.16" height="4.20" fill="#6b7d7e"/>
<rect x="60.43" y="364.75" width="5.16" height="4.20" fill="#697b7c"/>
<rect x="65.53" y="364.75" width="5.16" height="4.20" fill="#657778"/>
<rect x="70.64" y="364.75" width="5.16" height="4.20" fill="#627475"/>
<rect x="75.75" y="364.75" width="5.16" height="4.20" fill="#67797a"/>
<rect x="80.86" y="364.75" width="5.16" height="4.20" fill="#67797a"/>
<rect x="85.96" y="364.75" width="5.16" height="4.20" fill="#697b7c"/>
<rect x="91.07" y="364.75" width="5.16" height="4.20" fill="#647677"/>
<rect x="96.18" y="364.75" width="5.16" height="4.20" fill="#637576"/>
<rect x="101.28" y="364.75" width="5.16" height="4.20" fill="#667879"/>
<rect x="106.39" y="364.75" width="5.16" height="4.20" fill="#697b7c"/>
<rect x="111.50" y="364.75" width="5.16" height="4.20" fill="#667879"/>
<rect x="116.61" y="364.75" width="5.16" height="4.20" fill="#657778"/>
<rect x="121.71" y="364.75" width="5.16" height="4.20" fill="#627475"/>
<rect x="126.82" y="364.75" width="5.16" height="4.20" fill="#627475"/>
<rect x="131.93" y="364.75" width="5.16" height="4.20" fill="#697b7b"/>
<rect x="137.03" y="364.75" width="5.16" height="4.20" fill="#697b7c"/>
<rect x="142.14" y="364.75" width="5.16" height="4.20" fill="#657778"/>
<rect x="147.25" y="364.75" width="5.16" height="4.20" fill="#657778"/>
<rect x="152.35" y="364.75" width="5.16" height="4.20" fill="#637576"/>
<rect x="157.46" y="364.75" width="5.16" height="4.20" fill="#647677"/>
<rect x="162.57" y="364.75" width="5.16" height="4.20" fill="#697b7c"/>
<rect x="167.68" y="364.75" width="5.16" height="4.20" fill="#6a7b7c"/>
<rect x="172.78" y="364.75" width="5.16" height="4.20" fill="#687a7b"/>
<rect x="177.89" y="364.75" width="5.16" height="4.20" fill="#667879"/>
<rect x="183.00" y="364.75" width="5.16" height="4.20" fill="#637576"/>
<rect x="188.10" y="364.75" width="5.16" height="4.20" fill="#657778"/>
<rect x="40.00" y="368.89" width="5.16" height="4.20" fill="#657778"/>
<rect x="45.11" y="368.89" width="5.16" height="4.20" fill="#667879"/>
<rect x="50.21" y="368.89" width="5.16" height="4.20" fill="#67797a"/>
<rect x="55.32" y="368.89" width="5.16" height="4.20" fill="#67797a"/>
<rect x="60.43" y="368.89" width="5.16" height="4.20" fill="#6a7c7d"/>
<rect x="65.53" y="368.89" width="5.16" height="4.20" fill="#647677"/>
<rect x="70.64" y="368.89" width="5.16" height="4.20" fill="#647677"/>
<rect x="75.75" y="368.89" width="5.16" height="4.20" fill="#67797a"/>
<rect x="80.86" y="368.89" width="5.16" height="4.20" fill="#6a7c7d"/>
<rect x="85.96" y="368.89" width="5.16" height="4.20" fill="#67797a"/>
<rect x="91.07" y="368.89" width="5.16" height="4.20" fill="#627475"/>
<rect x="96.18" y="368.89" width="5.16" height="4.20" fill="#657778"/>
<rect x="101.28" y="368.89" width="5.16" height="4.20" fill="#667879"/>
<rect x="106.39" y="368.89" width="5.16" height="4.20" fill="#687a7b"/>
<rect x="111.50" y="368.89" width="5.16" height="4.20" fill="#67797a"/>
<rect x="116.61" y="368.89" width="5.16" height="4.20" fill="#637576"/>
<rect x="121.71" y="368.89" width="5.16" height="4.20" fill="#637576"/>
<rect x="126.82" y="368.89" width="5.16" height="4.20" fill="#647677"/>
<rect x="131.93" y="368.89" width="5.16" height="4.20" fill="#697b7c"/>
<rect x="137.03" y="368.89" width="5.16" height="4.20" fill="#697b7c"/>
<rect x="142.14" y="368.89" width="5.16" height="4.20" fill="#657778"/>
<rect x="147.25" y="368.89" width="5.16" height="4.20" fill="#637576"/>
<rect x="152.35" y="368.89" width="5.16" height="4.20" fill="#647677"/>
<rect x="157.46" y="368.89" width="5.16" height="4.20" fill="#667879"/>
<rect x="162.57" y="368.89" width="5.16" height="4.20" fill="#67797a"/>
<rect x="167.68" y="368.89" width="5.16" height="4.20" fill="#697b7c"/>
<rect x="172.78" y="368.89" width="5.16" height="4.20" fill="#67797a"/>
<rect x="177.89" y="368.89" width="5.16" height="4.20" fill="#647677"/>
<rect x="183.00" y="368.89" width="5.16" height="4.20" fill="#657778"/>
<rect x="188.10" y="368.89" width="5.16" height="4.20" fill="#667879"/>
<rect x="40.00" y="373.04" width="5.16" height="4.20" fill="#687a7b"/>
<rect x="45.11" y="373.04" width="5.16" height="4.20" fill="#667879"/>
<rect x="50.21" y="373.04" width="5.16" height="4.20" fill="#67797a"/>
<rect x="55.32" y="373.04" width="5.16" height="4.20" fill="#6a7c7d"/>
<rect x="60.43" y="373.04" width="5.16" height="4.20" fill="#697b7c"/>
<rect x="65.53" y="373.04" width="5.16" height="4.20" fill="#617374"/>
<rect x="70.64" y="373.04" width="5.16" height="4.20" fill="#647677"/>
<rect x="75.75" y="373.04" width="5.16" height="4.20" fill="#67797a"/>
<rect x="80.86" y="373.04" width="5.16" height="4.20" fill="#687a7b"/>
<rect x="85.96" y="373.04" width="5.16" height="4.20" fill="#687a7b"/>
<rect x="91.07" y="373.04" width="5.16" height="4.20" fill="#667879"/>
<rect x="96.18" y="373.04" width="5.16" height="4.20" fill="#637576"/>
<rect x="101.28" y="373.04" width="5.16" height="4.20" fill="#667879"/>
<rect x="106.39" y="373.04" width="5.16" height="4.20" fill="#687a7b"/>
<rect x="111.50" y="373.04" width="5.16" height="4.20" fill="#657778"/>
<rect x="116.61" y="373.04" width="5.16" height="4.20" fill="#637576"/>
<rect x="121.71" y="373.04" width="5.16" height="4.20" fill="#637576"/>
<rect x="126.82" y="373.04" width="5.16" height="4.20" fill="#657778"/>
<rect x="131.93" y="373.04" width="5.16" height="4.20" fill="#6a7c7d"/>
<rect x="137.03" y="373.04" width="5.16" height="4.20" fill="#6a7c7d"/>
<rect x="142.14" y="373.04" width="5.16" height="4.20" fill="#67797a"/>
<rect x="147.25" y="373.04" width="5.16" height="4.20" fill="#647677"/>
<rect x="152.35" y="373.04" width="5.16" height="4.20" fill="#637576"/>
<rect x="157.46" y="373.04" width="5.16" height="4.20" fill="#657778"/>
<rect x="162.57" y="373.04" width="5.16" height="4.20" fill="#697b7c"/>
<rect x="167.68" y="373.04" width="5.16" height="4.20" fill="#697b7c"/>
<rect x="172.78" y="373.04" width="5.16" height="4.20" fill="#667879"/>
<rect x="177.89" y="373.04" width="5.16" height="4.20" fill="#667879"/>
<rect x="183.00" y="373.04" width="5.16" height="4.20" fill="#647677"/>
<rect x="188.10" y="373.04" width="5.16" height="4.20" fill="#657778"/>
</g>
<rect x="32.90" y="219.40" width="167.90" height="157.90" fill="none" stroke="#a8a8a8" stroke-width="1"/>
<text x="37.40" y="388.8" font-size="8" text-anchor="middle" fill="#262626">0</text>
<text x="62.94" y="388.8" font-size="8" text-anchor="middle" fill="#262626">5</text>
<text x="88.47" y="388.8" font-size="8" text-anchor="middle" fill="#262626">10</text>
<text x="114.00" y="388.8" font-size="8" text-anchor="middle" fill="#262626">15</text>
<text x="139.54" y="388.8" font-size="8" text-anchor="middle" fill="#262626">20</text>
<text x="165.08" y="388.8" font-size="8" text-anchor="middle" fill="#262626">25</text>
<text x="190.61" y="388.8" font-size="8" text-anchor="middle" fill="#262626">30</text>
<text x="30.30" y="241.86" font-size="8" text-anchor="end" fill="#262626">5</text>
<text x="30.30" y="262.60" font-size="8" text-anchor="end" fill="#262626">10</text>
<text x="30.30" y="283.33" font-size="8" text-anchor="end" fill="#262626">15</text>
<text x="30.30" y="304.07" font-size="8" text-anchor="end" fill="#262626">20</text>
<text x="30.30" y="324.80" font-size="8" text-anchor="end" fill="#262626">25</text>
<text x="30.30" y="345.54" font-size="8" text-anchor="end" fill="#262626">30</text>
<text x="30.30" y="366.27" font-size="8" text-anchor="end" fill="#262626">35</text>
<path d="M37.40 377.30v-1.6M37.40 219.40v1.6M62.94 377.30v-1.6M62.94 219.40v1.6M88.47 377.30v-1.6M88.47 219.40v1.6M114.00 377.30v-1.6M114.00 219.40v1.6M139.54 377.30v-1.6M139.54 219.40v1.6M165.08 377.30v-1.6M165.08 219.40v1.6M190.61 377.30v-1.6M190.61 219.40v1.6M32.90 238.26h1.6M200.80 238.26h-1.6M32.90 259.00h1.6M200.80 259.00h-1.6M32.90 279.73h1.6M200.80 279.73h-1.6M32.90 300.47h1.6M200.80 300.47h-1.6M32.90 321.20h1.6M200.80 321.20h-1.6M32.90 341.94h1.6M200.80 341.94h-1.6M32.90 362.67h1.6M200.80 362.67h-1.6" stroke="#a8a8a8" stroke-width="1" fill="none"/>
<text x="48.60" y="211.3" font-size="8.45" font-weight="bold" fill="#1a1a1a">ACE<tspan font-size="4.5" dx="0.9" dy="2.6">*</tspan><tspan dx="0.9" dy="-2.6" font-style="italic">X</tspan> (normalized),STD:0.030817</text>
<text x="116.30" y="400" font-size="8.2" text-anchor="middle" fill="#262626">(b)</text>
<defs><linearGradient id="gb" x1="0" y1="1" x2="0" y2="0">
<stop offset="0.00" stop-color="#000000"/>
<stop offset="0.05" stop-color="#0c0d0d"/>
<stop offset="0.10" stop-color="#181919"/>
<stop offset="0.15" stop-color="#232626"/>
<stop offset="0.20" stop-color="#2e3232"/>
<stop offset="0.25" stop-color="#373f3f"/>
<stop offset="0.30" stop-color="#414b4b"/>
<stop offset="0.35" stop-color="#4a5758"/>
<stop offset="0.40" stop-color="#536364"/>
<stop offset="0.45" stop-color="#5e7071"/>
<stop offset="0.50" stop-color="#6b7d7e"/>
<stop offset="0.55" stop-color="#79898a"/>
<stop offset="0.60" stop-color="#899797"/>
<stop offset="0.65" stop-color="#99a4a5"/>
<stop offset="0.70" stop-color="#a9b1b2"/>
<stop offset="0.75" stop-color="#b9bebf"/>
<stop offset="0.80" stop-color="#c8cbcc"/>
<stop offset="0.85" stop-color="#d7d8d9"/>
<stop offset="0.90" stop-color="#e5e5e5"/>
<stop offset="0.95" stop-color="#f2f2f2"/>
<stop offset="1.00" stop-color="#ffffff"/>
</linearGradient></defs>
<rect x="207.80" y="219.40" width="15.60" height="157.90" fill="url(#gb)" stroke="#a8a8a8" stroke-width="1"/>
<text x="225.80" y="224.29" font-size="7.0" fill="#262626">0.3</text>
<text x="225.80" y="250.65" font-size="7.0" fill="#262626">0.2</text>
<text x="225.80" y="277.01" font-size="7.0" fill="#262626">0.1</text>
<text x="225.80" y="303.37" font-size="7.0" fill="#262626">0</text>
<text x="225.80" y="329.73" font-size="7.0" fill="#262626">−0.1</text>
<text x="225.80" y="356.10" font-size="7.0" fill="#262626">−0.2</text>
<path d="M223.40 221.77h-1.6M223.40 248.13h-1.6M223.40 274.49h-1.6M223.40 300.85h-1.6M223.40 327.21h-1.6M223.40 353.58h-1.6" stroke="#a8a8a8" stroke-width="1" fill="none"/>
<g shape-rendering="crispEdges">
<rect x="313.00" y="219.90" width="5.02" height="4.08" fill="#8e9b9c"/>
<rect x="317.97" y="219.90" width="5.02" height="4.08" fill="#8e9b9c"/>
<rect x="322.94" y="219.90" width="5.02" height="4.08" fill="#6f8081"/>
<rect x="327.91" y="219.90" width="5.02" height="4.08" fill="#434d4e"/>
<rect x="332.88" y="219.90" width="5.02" height="4.08" fill="#191b1b"/>
<rect x="337.85" y="219.90" width="5.02" height="4.08" fill="#4c5a5b"/>
<rect x="342.82" y="219.90" width="5.02" height="4.08" fill="#bfc4c4"/>
<rect x="347.79" y="219.90" width="5.02" height="4.08" fill="#bfc4c4"/>
<rect x="352.76" y="219.90" width="5.02" height="4.08" fill="#6f8081"/>
<rect x="357.73" y="219.90" width="5.02" height="4.08" fill="#434d4e"/>
<rect x="362.70" y="219.90" width="5.02" height="4.08" fill="#4c5a5b"/>
<rect x="367.67" y="219.90" width="5.02" height="4.08" fill="#4c5a5b"/>
<rect x="372.64" y="219.90" width="5.02" height="4.08" fill="#8e9b9c"/>
<rect x="377.61" y="219.90" width="5.02" height="4.08" fill="#b0b6b7"/>
<rect x="382.58" y="219.90" width="5.02" height="4.08" fill="#8e9b9c"/>
<rect x="387.55" y="219.90" width="5.02" height="4.08" fill="#6f8081"/>
<rect x="392.52" y="219.90" width="5.02" height="4.08" fill="#434d4e"/>
<rect x="397.49" y="219.90" width="5.02" height="4.08" fill="#0d0e0e"/>
<rect x="402.46" y="219.90" width="5.02" height="4.08" fill="#566767"/>
<rect x="407.43" y="219.90" width="5.02" height="4.08" fill="#c3c6c7"/>
<rect x="412.40" y="219.90" width="5.02" height="4.08" fill="#9fa9a9"/>
<rect x="417.37" y="219.90" width="5.02" height="4.08" fill="#617374"/>
<rect x="422.34" y="219.90" width="5.02" height="4.08" fill="#617374"/>
<rect x="427.31" y="219.90" width="5.02" height="4.08" fill="#252828"/>
<rect x="432.28" y="219.90" width="5.02" height="4.08" fill="#566767"/>
<rect x="437.25" y="219.90" width="5.02" height="4.08" fill="#9fa9a9"/>
<rect x="442.22" y="219.90" width="5.02" height="4.08" fill="#8e9b9c"/>
<rect x="447.19" y="219.90" width="5.02" height="4.08" fill="#7e8e8f"/>
<rect x="452.16" y="219.90" width="5.02" height="4.08" fill="#526162"/>
<rect x="457.13" y="219.90" width="5.02" height="4.08" fill="#373f3f"/>
<rect x="313.00" y="223.94" width="5.02" height="4.08" fill="#8e9b9c"/>
<rect x="317.97" y="223.94" width="5.02" height="4.08" fill="#8e9b9c"/>
<rect x="322.94" y="223.94" width="5.02" height="4.08" fill="#6f8081"/>
<rect x="327.91" y="223.94" width="5.02" height="4.08" fill="#434d4e"/>
<rect x="332.88" y="223.94" width="5.02" height="4.08" fill="#191b1b"/>
<rect x="337.85" y="223.94" width="5.02" height="4.08" fill="#4c5a5b"/>
<rect x="342.82" y="223.94" width="5.02" height="4.08" fill="#b0b6b7"/>
<rect x="347.79" y="223.94" width="5.02" height="4.08" fill="#bfc4c4"/>
<rect x="352.76" y="223.94" width="5.02" height="4.08" fill="#6f8081"/>
<rect x="357.73" y="223.94" width="5.02" height="4.08" fill="#4c5a5b"/>
<rect x="362.70" y="223.94" width="5.02" height="4.08" fill="#434d4e"/>
<rect x="367.67" y="223.94" width="5.02" height="4.08" fill="#434d4e"/>
<rect x="372.64" y="223.94" width="5.02" height="4.08" fill="#8e9b9c"/>
<rect x="377.61" y="223.94" width="5.02" height="4.08" fill="#b0b6b7"/>
<rect x="382.58" y="223.94" width="5.02" height="4.08" fill="#8e9b9c"/>
<rect x="387.55" y="223.94" width="5.02" height="4.08" fill="#6f8081"/>
<rect x="392.52" y="223.94" width="5.02" height="4.08" fill="#394141"/>
<rect x="397.49" y="223.94" width="5.02" height="4.08" fill="#0d0e0e"/>
<rect x="402.46" y="223.94" width="5.02" height="4.08" fill="#566767"/>
<rect x="407.43" y="223.94" width="5.02" height="4.08" fill="#d1d4d4"/>
<rect x="412.40" y="223.94" width="5.02" height="4.08" fill="#9fa9a9"/>
<rect x="417.37" y="223.94" width="5.02" height="4.08" fill="#566767"/>
<rect x="422.34" y="223.94" width="5.02" height="4.08" fill="#566767"/>
<rect x="427.31" y="223.94" width="5.02" height="4.08" fill="#434d4e"/>
<rect x="432.28" y="223.94" width="5.02" height="4.08" fill="#4c5a5b"/>
<rect x="437.25" y="223.94" width="5.02" height="4.08" fill="#8e9b9c"/>
<rect x="442.22" y="223.94" width="5.02" height="4.08" fill="#7e8e8f"/>
<rect x="447.19" y="223.94" width="5.02" height="4.08" fill="#8e9b9c"/>
<rect x="452.16" y="223.94" width="5.02" height="4.08" fill="#526162"/>
<rect x="457.13" y="223.94" width="5.02" height="4.08" fill="#414b4c"/>
<rect x="313.00" y="227.97" width="5.02" height="4.08" fill="#b0b6b7"/>
<rect x="317.97" y="227.97" width="5.02" height="4.08" fill="#8e9b9c"/>
<rect x="322.94" y="227.97" width="5.02" height="4.08" fill="#6f8081"/>
<rect x="327.91" y="227.97" width="5.02" height="4.08" fill="#4c5a5b"/>
<rect x="332.88" y="227.97" width="5.02" height="4.08" fill="#394141"/>
<rect x="337.85" y="227.97" width="5.02" height="4.08" fill="#566767"/>
<rect x="342.82" y="227.97" width="5.02" height="4.08" fill="#b0b6b7"/>
<rect x="347.79" y="227.97" width="5.02" height="4.08" fill="#b0b6b7"/>
<rect x="352.76" y="227.97" width="5.02" height="4.08" fill="#6f8081"/>
<rect x="357.73" y="227.97" width="5.02" height="4.08" fill="#4c5a5b"/>
<rect x="362.70" y="227.97" width="5.02" height="4.08" fill="#394141"/>
<rect x="367.67" y="227.97" width="5.02" height="4.08" fill="#434d4e"/>
<rect x="372.64" y="227.97" width="5.02" height="4.08" fill="#7e8e8f"/>
<rect x="377.61" y="227.97" width="5.02" height="4.08" fill="#9fa9a9"/>
<rect x="382.58" y="227.97" width="5.02" height="4.08" fill="#7e8e8f"/>
<rect x="387.55" y="227.97" width="5.02" height="4.08" fill="#6f8081"/>
<rect x="392.52" y="227.97" width="5.02" height="4.08" fill="#394141"/>
<rect x="397.49" y="227.97" width="5.02" height="4.08" fill="#191b1b"/>
<rect x="402.46" y="227.97" width="5.02" height="4.08" fill="#566767"/>
<rect x="407.43" y="227.97" width="5.02" height="4.08" fill="#d1d4d4"/>
<rect x="412.40" y="227.97" width="5.02" height="4.08" fill="#b0b6b7"/>
<rect x="417.37" y="227.97" width="5.02" height="4.08" fill="#6f8081"/>
<rect x="422.34" y="227.97" width="5.02" height="4.08" fill="#617374"/>
<rect x="427.31" y="227.97" width="5.02" height="4.08" fill="#4c5a5b"/>
<rect x="432.28" y="227.97" width="5.02" height="4.08" fill="#4c5a5b"/>
<rect x="437.25" y="227.97" width="5.02" height="4.08" fill="#8e9b9c"/>
<rect x="442.22" y="227.97" width="5.02" height="4.08" fill="#6f8081"/>
<rect x="447.19" y="227.97" width="5.02" height="4.08" fill="#6f8081"/>
<rect x="452.16" y="227.97" width="5.02" height="4.08" fill="#5d6e6f"/>
<rect x="457.13" y="227.97" width="5.02" height="4.08" fill="#373f3f"/>
<rect x="313.00" y="232.00" width="5.02" height="4.08" fill="#8e9b9c"/>
<rect x="317.97" y="232.00" width="5.02" height="4.08" fill="#8e9b9c"/>
<rect x="322.94" y="232.00" width="5.02" height="4.08" fill="#6f8081"/>
<rect x="327.91" y="232.00" width="5.02" height="4.08" fill="#434d4e"/>
<rect x="332.88" y="232.00" width="5.02" height="4.08" fill="#434d4e"/>
<rect x="337.85" y="232.00" width="5.02" height="4.08" fill="#617374"/>
<rect x="342.82" y="232.00" width="5.02" height="4.08" fill="#8e9b9c"/>
<rect x="347.79" y="232.00" width="5.02" height="4.08" fill="#8e9b9c"/>
<rect x="352.76" y="232.00" width="5.02" height="4.08" fill="#617374"/>
<rect x="357.73" y="232.00" width="5.02" height="4.08" fill="#434d4e"/>
<rect x="362.70" y="232.00" width="5.02" height="4.08" fill="#434d4e"/>
<rect x="367.67" y="232.00" width="5.02" height="4.08" fill="#4c5a5b"/>
<rect x="372.64" y="232.00" width="5.02" height="4.08" fill="#9fa9a9"/>
<rect x="377.61" y="232.00" width="5.02" height="4.08" fill="#b0b6b7"/>
<rect x="382.58" y="232.00" width="5.02" height="4.08" fill="#9fa9a9"/>
<rect x="387.55" y="232.00" width="5.02" height="4.08" fill="#617374"/>
<rect x="392.52" y="232.00" width="5.02" height="4.08" fill="#394141"/>
<rect x="397.49" y="232.00" width="5.02" height="4.08" fill="#191b1b"/>
<rect x="402.46" y="232.00" width="5.02" height="4.08" fill="#4c5a5b"/>
<rect x="407.43" y="232.00" width="5.02" height="4.08" fill="#c3c6c7"/>
<rect x="412.40" y="232.00" width="5.02" height="4.08" fill="#b0b6b7"/>
<rect x="417.37" y="232.00" width="5.02" height="4.08" fill="#617374"/>
<rect x="422.34" y="232.00" width="5.02" height="4.08" fill="#617374"/>
<rect x="427.31" y="232.00" width="5.02" height="4.08" fill="#434d4e"/>
<rect x="432.28" y="232.00" width="5.02" height="4.08" fill="#566767"/>
<rect x="437.25" y="232.00" width="5.02" height="4.08" fill="#8e9b9c"/>
<rect x="442.22" y="232.00" width="5.02" height="4.08" fill="#7e8e8f"/>
<rect x="447.19" y="232.00" width="5.02" height="4.08" fill="#6f8081"/>
<rect x="452.16" y="232.00" width="5.02" height="4.08" fill="#5d6e6f"/>
<rect x="457.13" y="232.00" width="5.02" height="4.08" fill="#414b4c"/>
<rect x="313.00" y="236.04" width="5.02" height="4.08" fill="#6f8081"/>
<rect x="317.97" y="236.04" width="5.02" height="4.08" fill="#6f8081"/>
<rect x="322.94" y="236.04" width="5.02" height="4.08" fill="#617374"/>
<rect x="327.91" y="236.04" width="5.02" height="4.08" fill="#4c5a5b"/>
<rect x="332.88" y="236.04" width="5.02" height="4.08" fill="#2f3435"/>
<rect x="337.85" y="236.04" width="5.02" height="4.08" fill="#566767"/>
<rect x="342.82" y="236.04" width="5.02" height="4.08" fill="#b0b6b7"/>
<rect x="347.79" y="236.04" width="5.02" height="4.08" fill="#b0b6b7"/>
<rect x="352.76" y="236.04" width="5.02" height="4.08" fill="#7e8e8f"/>
<rect x="357.73" y="236.04" width="5.02" height="4.08" fill="#566767"/>
<rect x="362.70" y="236.04" width="5.02" height="4.08" fill="#434d4e"/>
<rect x="367.67" y="236.04" width="5.02" height="4.08" fill="#4c5a5b"/>
<rect x="372.64" y="236.04" width="5.02" height="4.08" fill="#b0b6b7"/>
<rect x="377.61" y="236.04" width="5.02" height="4.08" fill="#bfc4c4"/>
<rect x="382.58" y="236.04" width="5.02" height="4.08" fill="#8e9b9c"/>
<rect x="387.55" y="236.04" width="5.02" height="4.08" fill="#6f8081"/>
<rect x="392.52" y="236.04" width="5.02" height="4.08" fill="#434d4e"/>
<rect x="397.49" y="236.04" width="5.02" height="4.08" fill="#191b1b"/>
<rect x="402.46" y="236.04" width="5.02" height="4.08" fill="#4c5a5b"/>
<rect x="407.43" y="236.04" width="5.02" height="4.08" fill="#c3c6c7"/>
<rect x="412.40" y="236.04" width="5.02" height="4.08" fill="#9fa9a9"/>
<rect x="417.37" y="236.04" width="5.02" height="4.08" fill="#7e8e8f"/>
<rect x="422.34" y="236.04" width="5.02" height="4.08" fill="#6f8081"/>
<rect x="427.31" y="236.04" width="5.02" height="4.08" fill="#394141"/>
<rect x="432.28" y="236.04" width="5.02" height="4.08" fill="#566767"/>
<rect x="437.25" y="236.04" width="5.02" height="4.08" fill="#6f8081"/>
<rect x="442.22" y="236.04" width="5.02" height="4.08" fill="#6f8081"/>
<rect x="447.19" y="236.04" width="5.02" height="4.08" fill="#6f8081"/>
<rect x="452.16" y="236.04" width="5.02" height="4.08" fill="#5d6e6f"/>
<rect x="457.13" y="236.04" width="5.02" height="4.08" fill="#373f3f"/>
<rect x="313.00" y="240.08" width="5.02" height="4.08" fill="#b0b6b7"/>
<rect x="317.97" y="240.08" width="5.02" height="4.08" fill="#9fa9a9"/>
<rect x="322.94" y="240.08" width="5.02" height="4.08" fill="#6f8081"/>
<rect x="327.91" y="240.08" width="5.02" height="4.08" fill="#4c5a5b"/>
<rect x="332.88" y="240.08" width="5.02" height="4.08" fill="#394141"/>
<rect x="337.85" y="240.08" width="5.02" height="4.08" fill="#617374"/>
<rect x="342.82" y="240.08" width="5.02" height="4.08" fill="#bfc4c4"/>
<rect x="347.79" y="240.08" width="5.02" height="4.08" fill="#bfc4c4"/>
<rect x="352.76" y="240.08" width="5.02" height="4.08" fill="#8e9b9c"/>
<rect x="357.73" y="240.08" width="5.02" height="4.08" fill="#566767"/>
<rect x="362.70" y="240.08" width="5.02" height="4.08" fill="#2f3435"/>
<rect x="367.67" y="240.08" width="5.02" height="4.08" fill="#566767"/>
<rect x="372.64" y="240.08" width="5.02" height="4.08" fill="#9fa9a9"/>
<rect x="377.61" y="240.08" width="5.02" height="4.08" fill="#bfc4c4"/>
<rect x="382.58" y="240.08" width="5.02" height="4.08" fill="#9fa9a9"/>
<rect x="387.55" y="240.08" width="5.02" height="4.08" fill="#617374"/>
<rect x="392.52" y="240.08" width="5.02" height="4.08" fill="#2f3435"/>
<rect x="397.49" y="240.08" width="5.02" height="4.08" fill="#0d0e0e"/>
<rect x="402.46" y="240.08" width="5.02" height="4.08" fill="#4c5a5b"/>
<rect x="407.43" y="240.08" width="5.02" height="4.08" fill="#c3c6c7"/>
<rect x="412.40" y="240.08" width="5.02" height="4.08" fill="#9fa9a9"/>
<rect x="417.37" y="240.08" width="5.02" height="4.08" fill="#6f8081"/>
<rect x="422.34" y="240.08" width="5.02" height="4.08" fill="#566767"/>
<rect x="427.31" y="240.08" width="5.02" height="4.08" fill="#434d4e"/>
<rect x="432.28" y="240.08" width="5.02" height="4.08" fill="#617374"/>
<rect x="437.25" y="240.08" width="5.02" height="4.08" fill="#9fa9a9"/>
<rect x="442.22" y="240.08" width="5.02" height="4.08" fill="#9fa9a9"/>
<rect x="447.19" y="240.08" width="5.02" height="4.08" fill="#6f8081"/>
<rect x="452.16" y="240.08" width="5.02" height="4.08" fill="#5d6e6f"/>
<rect x="457.13" y="240.08" width="5.02" height="4.08" fill="#4a5758"/>
<rect x="313.00" y="244.11" width="5.02" height="4.08" fill="#9fa9a9"/>
<rect x="317.97" y="244.11" width="5.02" height="4.08" fill="#9fa9a9"/>
<rect x="322.94" y="244.11" width="5.02" height="4.08" fill="#6f8081"/>
<rect x="327.91" y="244.11" width="5.02" height="4.08" fill="#4c5a5b"/>
<rect x="332.88" y="244.11" width="5.02" height="4.08" fill="#394141"/>
<rect x="337.85" y="244.11" width="5.02" height="4.08" fill="#6f8081"/>
<rect x="342.82" y="244.11" width="5.02" height="4.08" fill="#bfc4c4"/>
<rect x="347.79" y="244.11" width="5.02" height="4.08" fill="#bfc4c4"/>
<rect x="352.76" y="244.11" width="5.02" height="4.08" fill="#8e9b9c"/>
<rect x="357.73" y="244.11" width="5.02" height="4.08" fill="#4c5a5b"/>
<rect x="362.70" y="244.11" width="5.02" height="4.08" fill="#394141"/>
<rect x="367.67" y="244.11" width="5.02" height="4.08" fill="#434d4e"/>
<rect x="372.64" y="244.11" width="5.02" height="4.08" fill="#9fa9a9"/>
<rect x="377.61" y="244.11" width="5.02" height="4.08" fill="#b0b6b7"/>
<rect x="382.58" y="244.11" width="5.02" height="4.08" fill="#9fa9a9"/>
<rect x="387.55" y="244.11" width="5.02" height="4.08" fill="#6f8081"/>
<rect x="392.52" y="244.11" width="5.02" height="4.08" fill="#394141"/>
<rect x="397.49" y="244.11" width="5.02" height="4.08" fill="#0d0e0e"/>
<rect x="402.46" y="244.11" width="5.02" height="4.08" fill="#434d4e"/>
<rect x="407.43" y="244.11" width="5.02" height="4.08" fill="#d1d4d4"/>
<rect x="412.40" y="244.11" width="5.02" height="4.08" fill="#9fa9a9"/>
<rect x="417.37" y="244.11" width="5.02" height="4.08" fill="#6f8081"/>
<rect x="422.34" y="244.11" width="5.02" height="4.08" fill="#566767"/>
<rect x="427.31" y="244.11" width="5.02" height="4.08" fill="#434d4e"/>
<rect x="432.28" y="244.11" width="5.02" height="4.08" fill="#566767"/>
<rect x="437.25" y="244.11" width="5.02" height="4.08" fill="#9fa9a9"/>
<rect x="442.22" y="244.11" width="5.02" height="4.08" fill="#7e8e8f"/>
<rect x="447.19" y="244.11" width="5.02" height="4.08" fill="#6f8081"/>
<rect x="452.16" y="244.11" width="5.02" height="4.08" fill="#5d6e6f"/>
<rect x="457.13" y="244.11" width="5.02" height="4.08" fill="#414b4c"/>
<rect x="313.00" y="248.15" width="5.02" height="4.08" fill="#9fa9a9"/>
<rect x="317.97" y="248.15" width="5.02" height="4.08" fill="#8e9b9c"/>
<rect x="322.94" y="248.15" width="5.02" height="4.08" fill="#617374"/>
<rect x="327.91" y="248.15" width="5.02" height="4.08" fill="#4c5a5b"/>
<rect x="332.88" y="248.15" width="5.02" height="4.08" fill="#434d4e"/>
<rect x="337.85" y="248.15" width="5.02" height="4.08" fill="#6f8081"/>
<rect x="342.82" y="248.15" width="5.02" height="4.08" fill="#b0b6b7"/>
<rect x="347.79" y="248.15" width="5.02" height="4.08" fill="#b0b6b7"/>
<rect x="352.76" y="248.15" width="5.02" height="4.08" fill="#6f8081"/>
<rect x="357.73" y="248.15" width="5.02" height="4.08" fill="#4c5a5b"/>
<rect x="362.70" y="248.15" width="5.02" height="4.08" fill="#434d4e"/>
<rect x="367.67" y="248.15" width="5.02" height="4.08" fill="#434d4e"/>
<rect x="372.64" y="248.15" width="5.02" height="4.08" fill="#7e8e8f"/>
<rect x="377.61" y="248.15" width="5.02" height="4.08" fill="#9fa9a9"/>
<rect x="382.58" y="248.15" width="5.02" height="4.08" fill="#6f8081"/>
<rect x="387.55" y="248.15" width="5.02" height="4.08" fill="#6f8081"/>
<rect x="392.52" y="248.15" width="5.02" height="4.08" fill="#394141"/>
<rect x="397.49" y="248.15" width="5.02" height="4.08" fill="#191b1b"/>
<rect x="402.46" y="248.15" width="5.02" height="4.08" fill="#566767"/>
<rect x="407.43" y="248.15" width="5.02" height="4.08" fill="#d1d4d4"/>
<rect x="412.40" y="248.15" width="5.02" height="4.08" fill="#8e9b9c"/>
<rect x="417.37" y="248.15" width="5.02" height="4.08" fill="#7e8e8f"/>
<rect x="422.34" y="248.15" width="5.02" height="4.08" fill="#7e8e8f"/>
<rect x="427.31" y="248.15" width="5.02" height="4.08" fill="#434d4e"/>
<rect x="432.28" y="248.15" width="5.02" height="4.08" fill="#4c5a5b"/>
<rect x="437.25" y="248.15" width="5.02" height="4.08" fill="#b0b6b7"/>
<rect x="442.22" y="248.15" width="5.02" height="4.08" fill="#6f8081"/>
<rect x="447.19" y="248.15" width="5.02" height="4.08" fill="#617374"/>
<rect x="452.16" y="248.15" width="5.02" height="4.08" fill="#3f4849"/>
<rect x="457.13" y="248.15" width="5.02" height="4.08" fill="#2d3232"/>
<rect x="313.00" y="252.18" width="5.02" height="4.08" fill="#9fa9a9"/>
<rect x="317.97" y="252.18" width="5.02" height="4.08" fill="#8e9b9c"/>
<rect x="322.94" y="252.18" width="5.02" height="4.08" fill="#617374"/>
<rect x="327.91" y="252.18" width="5.02" height="4.08" fill="#4c5a5b"/>
<rect x="332.88" y="252.18" width="5.02" height="4.08" fill="#394141"/>
<rect x="337.85" y="252.18" width="5.02" height="4.08" fill="#6f8081"/>
<rect x="342.82" y="252.18" width="5.02" height="4.08" fill="#b0b6b7"/>
<rect x="347.79" y="252.18" width="5.02" height="4.08" fill="#8e9b9c"/>
<rect x="352.76" y="252.18" width="5.02" height="4.08" fill="#6f8081"/>
<rect x="357.73" y="252.18" width="5.02" height="4.08" fill="#434d4e"/>
<rect x="362.70" y="252.18" width="5.02" height="4.08" fill="#2f3435"/>
<rect x="367.67" y="252.18" width="5.02" height="4.08" fill="#394141"/>
<rect x="372.64" y="252.18" width="5.02" height="4.08" fill="#8e9b9c"/>
<rect x="377.61" y="252.18" width="5.02" height="4.08" fill="#b0b6b7"/>
<rect x="382.58" y="252.18" width="5.02" height="4.08" fill="#8e9b9c"/>
<rect x="387.55" y="252.18" width="5.02" height="4.08" fill="#6f8081"/>
<rect x="392.52" y="252.18" width="5.02" height="4.08" fill="#394141"/>
<rect x="397.49" y="252.18" width="5.02" height="4.08" fill="#191b1b"/>
<rect x="402.46" y="252.18" width="5.02" height="4.08" fill="#566767"/>
<rect x="407.43" y="252.18" width="5.02" height="4.08" fill="#ebebeb"/>
<rect x="412.40" y="252.18" width="5.02" height="4.08" fill="#b0b6b7"/>
<rect x="417.37" y="252.18" width="5.02" height="4.08" fill="#7e8e8f"/>
<rect x="422.34" y="252.18" width="5.02" height="4.08" fill="#6f8081"/>
<rect x="427.31" y="252.18" width="5.02" height="4.08" fill="#434d4e"/>
<rect x="432.28" y="252.18" width="5.02" height="4.08" fill="#566767"/>
<rect x="437.25" y="252.18" width="5.02" height="4.08" fill="#7e8e8f"/>
<rect x="442.22" y="252.18" width="5.02" height="4.08" fill="#7e8e8f"/>
<rect x="447.19" y="252.18" width="5.02" height="4.08" fill="#7e8e8f"/>
<rect x="452.16" y="252.18" width="5.02" height="4.08" fill="#5d6e6f"/>
<rect x="457.13" y="252.18" width="5.02" height="4.08" fill="#373f3f"/>
<rect x="313.00" y="256.22" width="5.02" height="4.08" fill="#9fa9a9"/>
<rect x="317.97" y="256.22" width="5.02" height="4.08" fill="#8e9b9c"/>
<rect x="322.94" y="256.22" width="5.02" height="4.08" fill="#617374"/>
<rect x="327.91" y="256.22" width="5.02" height="4.08" fill="#434d4e"/>
<rect x="332.88" y="256.22" width="5.02" height="4.08" fill="#252828"/>
<rect x="337.85" y="256.22" width="5.02" height="4.08" fill="#566767"/>
<rect x="342.82" y="256.22" width="5.02" height="4.08" fill="#8e9b9c"/>
<rect x="347.79" y="256.22" width="5.02" height="4.08" fill="#8e9b9c"/>
<rect x="352.76" y="256.22" width="5.02" height="4.08" fill="#6f8081"/>
<rect x="357.73" y="256.22" width="5.02" height="4.08" fill="#434d4e"/>
<rect x="362.70" y="256.22" width="5.02" height="4.08" fill="#394141"/>
<rect x="367.67" y="256.22" width="5.02" height="4.08" fill="#394141"/>
<rect x="372.64" y="256.22" width="5.02" height="4.08" fill="#8e9b9c"/>
<rect x="377.61" y="256.22" width="5.02" height="4.08" fill="#9fa9a9"/>
<rect x="382.58" y="256.22" width="5.02" height="4.08" fill="#8e9b9c"/>
<rect x="387.55" y="256.22" width="5.02" height="4.08" fill="#617374"/>
<rect x="392.52" y="256.22" width="5.02" height="4.08" fill="#2f3435"/>
<rect x="397.49" y="256.22" width="5.02" height="4.08" fill="#252828"/>
<rect x="402.46" y="256.22" width="5.02" height="4.08" fill="#4c5a5b"/>
<rect x="407.43" y="256.22" width="5.02" height="4.08" fill="#ebebeb"/>
<rect x="412.40" y="256.22" width="5.02" height="4.08" fill="#b0b6b7"/>
<rect x="417.37" y="256.22" width="5.02" height="4.08" fill="#6f8081"/>
<rect x="422.34" y="256.22" width="5.02" height="4.08" fill="#6f8081"/>
<rect x="427.31" y="256.22" width="5.02" height="4.08" fill="#394141"/>
<rect x="432.28" y="256.22" width="5.02" height="4.08" fill="#566767"/>
<rect x="437.25" y="256.22" width="5.02" height="4.08" fill="#6f8081"/>
<rect x="442.22" y="256.22" width="5.02" height="4.08" fill="#6f8081"/>
<rect x="447.19" y="256.22" width="5.02" height="4.08" fill="#7e8e8f"/>
<rect x="452.16" y="256.22" width="5.02" height="4.08" fill="#5d6e6f"/>
<rect x="457.13" y="256.22" width="5.02" height="4.08" fill="#414b4c"/>
<rect x="313.00" y="260.25" width="5.02" height="4.08" fill="#b0b6b7"/>
<rect x="317.97" y="260.25" width="5.02" height="4.08" fill="#7e8e8f"/>
<rect x="322.94" y="260.25" width="5.02" height="4.08" fill="#6f8081"/>
<rect x="327.91" y="260.25" width="5.02" height="4.08" fill="#434d4e"/>
<rect x="332.88" y="260.25" width="5.02" height="4.08" fill="#394141"/>
<rect x="337.85" y="260.25" width="5.02" height="4.08" fill="#617374"/>
<rect x="342.82" y="260.25" width="5.02" height="4.08" fill="#9fa9a9"/>
<rect x="347.79" y="260.25" width="5.02" height="4.08" fill="#9fa9a9"/>
<rect x="352.76" y="260.25" width="5.02" height="4.08" fill="#6f8081"/>
<rect x="357.73" y="260.25" width="5.02" height="4.08" fill="#4c5a5b"/>
<rect x="362.70" y="260.25" width="5.02" height="4.08" fill="#4c5a5b"/>
<rect x="367.67" y="260.25" width="5.02" height="4.08" fill="#434d4e"/>
<rect x="372.64" y="260.25" width="5.02" height="4.08" fill="#9fa9a9"/>
<rect x="377.61" y="260.25" width="5.02" height="4.08" fill="#b0b6b7"/>
<rect x="382.58" y="260.25" width="5.02" height="4.08" fill="#8e9b9c"/>
<rect x="387.55" y="260.25" width="5.02" height="4.08" fill="#6f8081"/>
<rect x="392.52" y="260.25" width="5.02" height="4.08" fill="#434d4e"/>
<rect x="397.49" y="260.25" width="5.02" height="4.08" fill="#0d0e0e"/>
<rect x="402.46" y="260.25" width="5.02" height="4.08" fill="#4c5a5b"/>
<rect x="407.43" y="260.25" width="5.02" height="4.08" fill="#ebebeb"/>
<rect x="412.40" y="260.25" width="5.02" height="4.08" fill="#b0b6b7"/>
<rect x="417.37" y="260.25" width="5.02" height="4.08" fill="#566767"/>
<rect x="422.34" y="260.25" width="5.02" height="4.08" fill="#566767"/>
<rect x="427.31" y="260.25" width="5.02" height="4.08" fill="#4c5a5b"/>
<rect x="432.28" y="260.25" width="5.02" height="4.08" fill="#6f8081"/>
<rect x="437.25" y="260.25" width="5.02" height="4.08" fill="#6f8081"/>
<rect x="442.22" y="260.25" width="5.02" height="4.08" fill="#7e8e8f"/>
<rect x="447.19" y="260.25" width="5.02" height="4.08" fill="#617374"/>
<rect x="452.16" y="260.25" width="5.02" height="4.08" fill="#485556"/>
<rect x="457.13" y="260.25" width="5.02" height="4.08" fill="#373f3f"/>
<rect x="313.00" y="264.29" width="5.02" height="4.08" fill="#7e8e8f"/>
<rect x="317.97" y="264.29" width="5.02" height="4.08" fill="#8e9b9c"/>
<rect x="322.94" y="264.29" width="5.02" height="4.08" fill="#394141"/>
<rect x="327.91" y="264.29" width="5.02" height="4.08" fill="#4c5a5b"/>
<rect x="332.88" y="264.29" width="5.02" height="4.08" fill="#252828"/>
<rect x="337.85" y="264.29" width="5.02" height="4.08" fill="#617374"/>
<rect x="342.82" y="264.29" width="5.02" height="4.08" fill="#b0b6b7"/>
<rect x="347.79" y="264.29" width="5.02" height="4.08" fill="#b0b6b7"/>
<rect x="352.76" y="264.29" width="5.02" height="4.08" fill="#7e8e8f"/>
<rect x="357.73" y="264.29" width="5.02" height="4.08" fill="#566767"/>
<rect x="362.70" y="264.29" width="5.02" height="4.08" fill="#4c5a5b"/>
<rect x="367.67" y="264.29" width="5.02" height="4.08" fill="#566767"/>
<rect x="372.64" y="264.29" width="5.02" height="4.08" fill="#9fa9a9"/>
<rect x="377.61" y="264.29" width="5.02" height="4.08" fill="#b0b6b7"/>
<rect x="382.58" y="264.29" width="5.02" height="4.08" fill="#8e9b9c"/>
<rect x="387.55" y="264.29" width="5.02" height="4.08" fill="#6f8081"/>
<rect x="392.52" y="264.29" width="5.02" height="4.08" fill="#2f3435"/>
<rect x="397.49" y="264.29" width="5.02" height="4.08" fill="#0d0e0e"/>
<rect x="402.46" y="264.29" width="5.02" height="4.08" fill="#434d4e"/>
<rect x="407.43" y="264.29" width="5.02" height="4.08" fill="#c3c6c7"/>
<rect x="412.40" y="264.29" width="5.02" height="4.08" fill="#9fa9a9"/>
<rect x="417.37" y="264.29" width="5.02" height="4.08" fill="#6f8081"/>
<rect x="422.34" y="264.29" width="5.02" height="4.08" fill="#4c5a5b"/>
<rect x="427.31" y="264.29" width="5.02" height="4.08" fill="#4c5a5b"/>
<rect x="432.28" y="264.29" width="5.02" height="4.08" fill="#617374"/>
<rect x="437.25" y="264.29" width="5.02" height="4.08" fill="#bfc4c4"/>
<rect x="442.22" y="264.29" width="5.02" height="4.08" fill="#8e9b9c"/>
<rect x="447.19" y="264.29" width="5.02" height="4.08" fill="#7e8e8f"/>
<rect x="452.16" y="264.29" width="5.02" height="4.08" fill="#5d6e6f"/>
<rect x="457.13" y="264.29" width="5.02" height="4.08" fill="#373f3f"/>
<rect x="313.00" y="268.32" width="5.02" height="4.08" fill="#8e9b9c"/>
<rect x="317.97" y="268.32" width="5.02" height="4.08" fill="#7e8e8f"/>
<rect x="322.94" y="268.32" width="5.02" height="4.08" fill="#6f8081"/>
<rect x="327.91" y="268.32" width="5.02" height="4.08" fill="#4c5a5b"/>
<rect x="332.88" y="268.32" width="5.02" height="4.08" fill="#2f3435"/>
<rect x="337.85" y="268.32" width="5.02" height="4.08" fill="#566767"/>
<rect x="342.82" y="268.32" width="5.02" height="4.08" fill="#b0b6b7"/>
<rect x="347.79" y="268.32" width="5.02" height="4.08" fill="#cfd1d1"/>
<rect x="352.76" y="268.32" width="5.02" height="4.08" fill="#6f8081"/>
<rect x="357.73" y="268.32" width="5.02" height="4.08" fill="#566767"/>
<rect x="362.70" y="268.32" width="5.02" height="4.08" fill="#394141"/>
<rect x="367.67" y="268.32" width="5.02" height="4.08" fill="#566767"/>
<rect x="372.64" y="268.32" width="5.02" height="4.08" fill="#b0b6b7"/>
<rect x="377.61" y="268.32" width="5.02" height="4.08" fill="#b0b6b7"/>
<rect x="382.58" y="268.32" width="5.02" height="4.08" fill="#7e8e8f"/>
<rect x="387.55" y="268.32" width="5.02" height="4.08" fill="#6f8081"/>
<rect x="392.52" y="268.32" width="5.02" height="4.08" fill="#2f3435"/>
<rect x="397.49" y="268.32" width="5.02" height="4.08" fill="#191b1b"/>
<rect x="402.46" y="268.32" width="5.02" height="4.08" fill="#434d4e"/>
<rect x="407.43" y="268.32" width="5.02" height="4.08" fill="#b3b9b9"/>
<rect x="412.40" y="268.32" width="5.02" height="4.08" fill="#9fa9a9"/>
<rect x="417.37" y="268.32" width="5.02" height="4.08" fill="#617374"/>
<rect x="422.34" y="268.32" width="5.02" height="4.08" fill="#566767"/>
<rect x="427.31" y="268.32" width="5.02" height="4.08" fill="#4c5a5b"/>
<rect x="432.28" y="268.32" width="5.02" height="4.08" fill="#7e8e8f"/>
<rect x="437.25" y="268.32" width="5.02" height="4.08" fill="#b0b6b7"/>
<rect x="442.22" y="268.32" width="5.02" height="4.08" fill="#8e9b9c"/>
<rect x="447.19" y="268.32" width="5.02" height="4.08" fill="#6f8081"/>
<rect x="452.16" y="268.32" width="5.02" height="4.08" fill="#5d6e6f"/>
<rect x="457.13" y="268.32" width="5.02" height="4.08" fill="#414b4c"/>
<rect x="313.00" y="272.36" width="5.02" height="4.08" fill="#7e8e8f"/>
<rect x="317.97" y="272.36" width="5.02" height="4.08" fill="#7e8e8f"/>
<rect x="322.94" y="272.36" width="5.02" height="4.08" fill="#6f8081"/>
<rect x="327.91" y="272.36" width="5.02" height="4.08" fill="#394141"/>
<rect x="332.88" y="272.36" width="5.02" height="4.08" fill="#2f3435"/>
<rect x="337.85" y="272.36" width="5.02" height="4.08" fill="#617374"/>
<rect x="342.82" y="272.36" width="5.02" height="4.08" fill="#b0b6b7"/>
<rect x="347.79" y="272.36" width="5.02" height="4.08" fill="#9fa9a9"/>
<rect x="352.76" y="272.36" width="5.02" height="4.08" fill="#6f8081"/>
<rect x="357.73" y="272.36" width="5.02" height="4.08" fill="#566767"/>
<rect x="362.70" y="272.36" width="5.02" height="4.08" fill="#434d4e"/>
<rect x="367.67" y="272.36" width="5.02" height="4.08" fill="#434d4e"/>
<rect x="372.64" y="272.36" width="5.02" height="4.08" fill="#b0b6b7"/>
<rect x="377.61" y="272.36" width="5.02" height="4.08" fill="#9fa9a9"/>
<rect x="382.58" y="272.36" width="5.02" height="4.08" fill="#7e8e8f"/>
<rect x="387.55" y="272.36" width="5.02" height="4.08" fill="#617374"/>
<rect x="392.52" y="272.36" width="5.02" height="4.08" fill="#394141"/>
<rect x="397.49" y="272.36" width="5.02" height="4.08" fill="#191b1b"/>
<rect x="402.46" y="272.36" width="5.02" height="4.08" fill="#566767"/>
<rect x="407.43" y="272.36" width="5.02" height="4.08" fill="#c3c6c7"/>
<rect x="412.40" y="272.36" width="5.02" height="4.08" fill="#9fa9a9"/>
<rect x="417.37" y="272.36" width="5.02" height="4.08" fill="#6f8081"/>
<rect x="422.34" y="272.36" width="5.02" height="4.08" fill="#566767"/>
<rect x="427.31" y="272.36" width="5.02" height="4.08" fill="#434d4e"/>
<rect x="432.28" y="272.36" width="5.02" height="4.08" fill="#566767"/>
<rect x="437.25" y="272.36" width="5.02" height="4.08" fill="#7e8e8f"/>
<rect x="442.22" y="272.36" width="5.02" height="4.08" fill="#8e9b9c"/>
<rect x="447.19" y="272.36" width="5.02" height="4.08" fill="#7e8e8f"/>
<rect x="452.16" y="272.36" width="5.02" height="4.08" fill="#5d6e6f"/>
<rect x="457.13" y="272.36" width="5.02" height="4.08" fill="#4a5758"/>
<rect x="313.00" y="276.39" width="5.02" height="4.08" fill="#8e9b9c"/>
<rect x="317.97" y="276.39" width="5.02" height="4.08" fill="#8e9b9c"/>
<rect x="322.94" y="276.39" width="5.02" height="4.08" fill="#6f8081"/>
<rect x="327.91" y="276.39" width="5.02" height="4.08" fill="#434d4e"/>
<rect x="332.88" y="276.39" width="5.02" height="4.08" fill="#2f3435"/>
<rect x="337.85" y="276.39" width="5.02" height="4.08" fill="#6f8081"/>
<rect x="342.82" y="276.39" width="5.02" height="4.08" fill="#bfc4c4"/>
<rect x="347.79" y="276.39" width="5.02" height="4.08" fill="#9fa9a9"/>
<rect x="352.76" y="276.39" width="5.02" height="4.08" fill="#6f8081"/>
<rect x="357.73" y="276.39" width="5.02" height="4.08" fill="#617374"/>
<rect x="362.70" y="276.39" width="5.02" height="4.08" fill="#4c5a5b"/>
<rect x="367.67" y="276.39" width="5.02" height="4.08" fill="#4c5a5b"/>
<rect x="372.64" y="276.39" width="5.02" height="4.08" fill="#8e9b9c"/>
<rect x="377.61" y="276.39" width="5.02" height="4.08" fill="#b0b6b7"/>
<rect x="382.58" y="276.39" width="5.02" height="4.08" fill="#8e9b9c"/>
<rect x="387.55" y="276.39" width="5.02" height="4.08" fill="#6f8081"/>
<rect x="392.52" y="276.39" width="5.02" height="4.08" fill="#434d4e"/>
<rect x="397.49" y="276.39" width="5.02" height="4.08" fill="#252828"/>
<rect x="402.46" y="276.39" width="5.02" height="4.08" fill="#566767"/>
<rect x="407.43" y="276.39" width="5.02" height="4.08" fill="#ebebeb"/>
<rect x="412.40" y="276.39" width="5.02" height="4.08" fill="#9fa9a9"/>
<rect x="417.37" y="276.39" width="5.02" height="4.08" fill="#7e8e8f"/>
<rect x="422.34" y="276.39" width="5.02" height="4.08" fill="#617374"/>
<rect x="427.31" y="276.39" width="5.02" height="4.08" fill="#4c5a5b"/>
<rect x="432.28" y="276.39" width="5.02" height="4.08" fill="#566767"/>
<rect x="437.25" y="276.39" width="5.02" height="4.08" fill="#8e9b9c"/>
<rect x="442.22" y="276.39" width="5.02" height="4.08" fill="#9fa9a9"/>
<rect x="447.19" y="276.39" width="5.02" height="4.08" fill="#7e8e8f"/>
<rect x="452.16" y="276.39" width="5.02" height="4.08" fill="#3f4849"/>
<rect x="457.13" y="276.39" width="5.02" height="4.08" fill="#414b4c"/>
<rect x="313.00" y="280.43" width="5.02" height="4.08" fill="#8e9b9c"/>
<rect x="317.97" y="280.43" width="5.02" height="4.08" fill="#8e9b9c"/>
<rect x="322.94" y="280.43" width="5.02" height="4.08" fill="#6f8081"/>
<rect x="327.91" y="280.43" width="5.02" height="4.08" fill="#4c5a5b"/>
<rect x="332.88" y="280.43" width="5.02" height="4.08" fill="#191b1b"/>
<rect x="337.85" y="280.43" width="5.02" height="4.08" fill="#434d4e"/>
<rect x="342.82" y="280.43" width="5.02" height="4.08" fill="#b0b6b7"/>
<rect x="347.79" y="280.43" width="5.02" height="4.08" fill="#9fa9a9"/>
<rect x="352.76" y="280.43" width="5.02" height="4.08" fill="#6f8081"/>
<rect x="357.73" y="280.43" width="5.02" height="4.08" fill="#566767"/>
<rect x="362.70" y="280.43" width="5.02" height="4.08" fill="#394141"/>
<rect x="367.67" y="280.43" width="5.02" height="4.08" fill="#434d4e"/>
<rect x="372.64" y="280.43" width="5.02" height="4.08" fill="#9fa9a9"/>
<rect x="377.61" y="280.43" width="5.02" height="4.08" fill="#b0b6b7"/>
<rect x="382.58" y="280.43" width="5.02" height="4.08" fill="#6f8081"/>
<rect x="387.55" y="280.43" width="5.02" height="4.08" fill="#617374"/>
<rect x="392.52" y="280.43" width="5.02" height="4.08" fill="#394141"/>
<rect x="397.49" y="280.43" width="5.02" height="4.08" fill="#2f3435"/>
<rect x="402.46" y="280.43" width="5.02" height="4.08" fill="#617374"/>
<rect x="407.43" y="280.43" width="5.02" height="4.08" fill="#f8f8f8"/>
<rect x="412.40" y="280.43" width="5.02" height="4.08" fill="#b0b6b7"/>
<rect x="417.37" y="280.43" width="5.02" height="4.08" fill="#7e8e8f"/>
<rect x="422.34" y="280.43" width="5.02" height="4.08" fill="#6f8081"/>
<rect x="427.31" y="280.43" width="5.02" height="4.08" fill="#394141"/>
<rect x="432.28" y="280.43" width="5.02" height="4.08" fill="#4c5a5b"/>
<rect x="437.25" y="280.43" width="5.02" height="4.08" fill="#7e8e8f"/>
<rect x="442.22" y="280.43" width="5.02" height="4.08" fill="#8e9b9c"/>
<rect x="447.19" y="280.43" width="5.02" height="4.08" fill="#7e8e8f"/>
<rect x="452.16" y="280.43" width="5.02" height="4.08" fill="#5d6e6f"/>
<rect x="457.13" y="280.43" width="5.02" height="4.08" fill="#2d3232"/>
<rect x="313.00" y="284.46" width="5.02" height="4.08" fill="#7e8e8f"/>
<rect x="317.97" y="284.46" width="5.02" height="4.08" fill="#7e8e8f"/>
<rect x="322.94" y="284.46" width="5.02" height="4.08" fill="#617374"/>
<rect x="327.91" y="284.46" width="5.02" height="4.08" fill="#394141"/>
<rect x="332.88" y="284.46" width="5.02" height="4.08" fill="#252828"/>
<rect x="337.85" y="284.46" width="5.02" height="4.08" fill="#394141"/>
<rect x="342.82" y="284.46" width="5.02" height="4.08" fill="#8e9b9c"/>
<rect x="347.79" y="284.46" width="5.02" height="4.08" fill="#8e9b9c"/>
<rect x="352.76" y="284.46" width="5.02" height="4.08" fill="#6f8081"/>
<rect x="357.73" y="284.46" width="5.02" height="4.08" fill="#566767"/>
<rect x="362.70" y="284.46" width="5.02" height="4.08" fill="#2f3435"/>
<rect x="367.67" y="284.46" width="5.02" height="4.08" fill="#394141"/>
<rect x="372.64" y="284.46" width="5.02" height="4.08" fill="#9fa9a9"/>
<rect x="377.61" y="284.46" width="5.02" height="4.08" fill="#b0b6b7"/>
<rect x="382.58" y="284.46" width="5.02" height="4.08" fill="#8e9b9c"/>
<rect x="387.55" y="284.46" width="5.02" height="4.08" fill="#434d4e"/>
<rect x="392.52" y="284.46" width="5.02" height="4.08" fill="#434d4e"/>
<rect x="397.49" y="284.46" width="5.02" height="4.08" fill="#252828"/>
<rect x="402.46" y="284.46" width="5.02" height="4.08" fill="#566767"/>
<rect x="407.43" y="284.46" width="5.02" height="4.08" fill="#f8f8f8"/>
<rect x="412.40" y="284.46" width="5.02" height="4.08" fill="#bfc4c4"/>
<rect x="417.37" y="284.46" width="5.02" height="4.08" fill="#7e8e8f"/>
<rect x="422.34" y="284.46" width="5.02" height="4.08" fill="#566767"/>
<rect x="427.31" y="284.46" width="5.02" height="4.08" fill="#394141"/>
<rect x="432.28" y="284.46" width="5.02" height="4.08" fill="#4c5a5b"/>
<rect x="437.25" y="284.46" width="5.02" height="4.08" fill="#6f8081"/>
<rect x="442.22" y="284.46" width="5.02" height="4.08" fill="#7e8e8f"/>
<rect x="447.19" y="284.46" width="5.02" height="4.08" fill="#566767"/>
<rect x="452.16" y="284.46" width="5.02" height="4.08" fill="#5d6e6f"/>
<rect x="457.13" y="284.46" width="5.02" height="4.08" fill="#232525"/>
<rect x="313.00" y="288.50" width="5.02" height="4.08" fill="#9fa9a9"/>
<rect x="317.97" y="288.50" width="5.02" height="4.08" fill="#8e9b9c"/>
<rect x="322.94" y="288.50" width="5.02" height="4.08" fill="#6f8081"/>
<rect x="327.91" y="288.50" width="5.02" height="4.08" fill="#434d4e"/>
<rect x="332.88" y="288.50" width="5.02" height="4.08" fill="#252828"/>
<rect x="337.85" y="288.50" width="5.02" height="4.08" fill="#617374"/>
<rect x="342.82" y="288.50" width="5.02" height="4.08" fill="#b0b6b7"/>
<rect x="347.79" y="288.50" width="5.02" height="4.08" fill="#9fa9a9"/>
<rect x="352.76" y="288.50" width="5.02" height="4.08" fill="#6f8081"/>
<rect x="357.73" y="288.50" width="5.02" height="4.08" fill="#566767"/>
<rect x="362.70" y="288.50" width="5.02" height="4.08" fill="#434d4e"/>
<rect x="367.67" y="288.50" width="5.02" height="4.08" fill="#4c5a5b"/>
<rect x="372.64" y="288.50" width="5.02" height="4.08" fill="#9fa9a9"/>
<rect x="377.61" y="288.50" width="5.02" height="4.08" fill="#b0b6b7"/>
<rect x="382.58" y="288.50" width="5.02" height="4.08" fill="#6f8081"/>
<rect x="387.55" y="288.50" width="5.02" height="4.08" fill="#566767"/>
<rect x="392.52" y="288.50" width="5.02" height="4.08" fill="#2f3435"/>
<rect x="397.49" y="288.50" width="5.02" height="4.08" fill="#0d0e0e"/>
<rect x="402.46" y="288.50" width="5.02" height="4.08" fill="#394141"/>
<rect x="407.43" y="288.50" width="5.02" height="4.08" fill="#b3b9b9"/>
<rect x="412.40" y="288.50" width="5.02" height="4.08" fill="#8e9b9c"/>
<rect x="417.37" y="288.50" width="5.02" height="4.08" fill="#6f8081"/>
<rect x="422.34" y="288.50" width="5.02" height="4.08" fill="#6f8081"/>
<rect x="427.31" y="288.50" width="5.02" height="4.08" fill="#4c5a5b"/>
<rect x="432.28" y="288.50" width="5.02" height="4.08" fill="#566767"/>
<rect x="437.25" y="288.50" width="5.02" height="4.08" fill="#7e8e8f"/>
<rect x="442.22" y="288.50" width="5.02" height="4.08" fill="#9fa9a9"/>
<rect x="447.19" y="288.50" width="5.02" height="4.08" fill="#7e8e8f"/>
<rect x="452.16" y="288.50" width="5.02" height="4.08" fill="#5d6e6f"/>
<rect x="457.13" y="288.50" width="5.02" height="4.08" fill="#373f3f"/>
<rect x="313.00" y="292.53" width="5.02" height="4.08" fill="#9fa9a9"/>
<rect x="317.97" y="292.53" width="5.02" height="4.08" fill="#6f8081"/>
<rect x="322.94" y="292.53" width="5.02" height="4.08" fill="#617374"/>
<rect x="327.91" y="292.53" width="5.02" height="4.08" fill="#4c5a5b"/>
<rect x="332.88" y="292.53" width="5.02" height="4.08" fill="#394141"/>
<rect x="337.85" y="292.53" width="5.02" height="4.08" fill="#566767"/>
<rect x="342.82" y="292.53" width="5.02" height="4.08" fill="#b0b6b7"/>
<rect x="347.79" y="292.53" width="5.02" height="4.08" fill="#9fa9a9"/>
<rect x="352.76" y="292.53" width="5.02" height="4.08" fill="#6f8081"/>
<rect x="357.73" y="292.53" width="5.02" height="4.08" fill="#4c5a5b"/>
<rect x="362.70" y="292.53" width="5.02" height="4.08" fill="#394141"/>
<rect x="367.67" y="292.53" width="5.02" height="4.08" fill="#434d4e"/>
<rect x="372.64" y="292.53" width="5.02" height="4.08" fill="#9fa9a9"/>
<rect x="377.61" y="292.53" width="5.02" height="4.08" fill="#b0b6b7"/>
<rect x="382.58" y="292.53" width="5.02" height="4.08" fill="#7e8e8f"/>
<rect x="387.55" y="292.53" width="5.02" height="4.08" fill="#4c5a5b"/>
<rect x="392.52" y="292.53" width="5.02" height="4.08" fill="#2f3435"/>
<rect x="397.49" y="292.53" width="5.02" height="4.08" fill="#0d0e0e"/>
<rect x="402.46" y="292.53" width="5.02" height="4.08" fill="#434d4e"/>
<rect x="407.43" y="292.53" width="5.02" height="4.08" fill="#c3c6c7"/>
<rect x="412.40" y="292.53" width="5.02" height="4.08" fill="#9fa9a9"/>
<rect x="417.37" y="292.53" width="5.02" height="4.08" fill="#7e8e8f"/>
<rect x="422.34" y="292.53" width="5.02" height="4.08" fill="#617374"/>
<rect x="427.31" y="292.53" width="5.02" height="4.08" fill="#394141"/>
<rect x="432.28" y="292.53" width="5.02" height="4.08" fill="#4c5a5b"/>
<rect x="437.25" y="292.53" width="5.02" height="4.08" fill="#7e8e8f"/>
<rect x="442.22" y="292.53" width="5.02" height="4.08" fill="#8e9b9c"/>
<rect x="447.19" y="292.53" width="5.02" height="4.08" fill="#6f8081"/>
<rect x="452.16" y="292.53" width="5.02" height="4.08" fill="#526162"/>
<rect x="457.13" y="292.53" width="5.02" height="4.08" fill="#414b4c"/>
<rect x="313.00" y="296.56" width="5.02" height="4.08" fill="#8e9b9c"/>
<rect x="317.97" y="296.56" width="5.02" height="4.08" fill="#8e9b9c"/>
<rect x="322.94" y="296.56" width="5.02" height="4.08" fill="#6f8081"/>
<rect x="327.91" y="296.56" width="5.02" height="4.08" fill="#4c5a5b"/>
<rect x="332.88" y="296.56" width="5.02" height="4.08" fill="#394141"/>
<rect x="337.85" y="296.56" width="5.02" height="4.08" fill="#617374"/>
<rect x="342.82" y="296.56" width="5.02" height="4.08" fill="#9fa9a9"/>
<rect x="347.79" y="296.56" width="5.02" height="4.08" fill="#8e9b9c"/>
<rect x="352.76" y="296.56" width="5.02" height="4.08" fill="#617374"/>
<rect x="357.73" y="296.56" width="5.02" height="4.08" fill="#566767"/>
<rect x="362.70" y="296.56" width="5.02" height="4.08" fill="#394141"/>
<rect x="367.67" y="296.56" width="5.02" height="4.08" fill="#434d4e"/>
<rect x="372.64" y="296.56" width="5.02" height="4.08" fill="#8e9b9c"/>
<rect x="377.61" y="296.56" width="5.02" height="4.08" fill="#b0b6b7"/>
<rect x="382.58" y="296.56" width="5.02" height="4.08" fill="#8e9b9c"/>
<rect x="387.55" y="296.56" width="5.02" height="4.08" fill="#617374"/>
<rect x="392.52" y="296.56" width="5.02" height="4.08" fill="#394141"/>
<rect x="397.49" y="296.56" width="5.02" height="4.08" fill="#252828"/>
<rect x="402.46" y="296.56" width="5.02" height="4.08" fill="#566767"/>
<rect x="407.43" y="296.56" width="5.02" height="4.08" fill="#c3c6c7"/>
<rect x="412.40" y="296.56" width="5.02" height="4.08" fill="#9fa9a9"/>
<rect x="417.37" y="296.56" width="5.02" height="4.08" fill="#7e8e8f"/>
<rect x="422.34" y="296.56" width="5.02" height="4.08" fill="#617374"/>
<rect x="427.31" y="296.56" width="5.02" height="4.08" fill="#434d4e"/>
<rect x="432.28" y="296.56" width="5.02" height="4.08" fill="#617374"/>
<rect x="437.25" y="296.56" width="5.02" height="4.08" fill="#9fa9a9"/>
<rect x="442.22" y="296.56" width="5.02" height="4.08" fill="#8e9b9c"/>
<rect x="447.19" y="296.56" width="5.02" height="4.08" fill="#7e8e8f"/>
<rect x="452.16" y="296.56" width="5.02" height="4.08" fill="#5d6e6f"/>
<rect x="457.13" y="296.56" width="5.02" height="4.08" fill="#373f3f"/>
<rect x="313.00" y="300.60" width="5.02" height="4.08" fill="#8e9b9c"/>
<rect x="317.97" y="300.60" width="5.02" height="4.08" fill="#8e9b9c"/>
<rect x="322.94" y="300.60" width="5.02" height="4.08" fill="#6f8081"/>
<rect x="327.91" y="300.60" width="5.02" height="4.08" fill="#4c5a5b"/>
<rect x="332.88" y="300.60" width="5.02" height="4.08" fill="#2f3435"/>
<rect x="337.85" y="300.60" width="5.02" height="4.08" fill="#617374"/>
<rect x="342.82" y="300.60" width="5.02" height="4.08" fill="#b0b6b7"/>
<rect x="347.79" y="300.60" width="5.02" height="4.08" fill="#8e9b9c"/>
<rect x="352.76" y="300.60" width="5.02" height="4.08" fill="#6f8081"/>
<rect x="357.73" y="300.60" width="5.02" height="4.08" fill="#394141"/>
<rect x="362.70" y="300.60" width="5.02" height="4.08" fill="#394141"/>
<rect x="367.67" y="300.60" width="5.02" height="4.08" fill="#434d4e"/>
<rect x="372.64" y="300.60" width="5.02" height="4.08" fill="#8e9b9c"/>
<rect x="377.61" y="300.60" width="5.02" height="4.08" fill="#bfc4c4"/>
<rect x="382.58" y="300.60" width="5.02" height="4.08" fill="#8e9b9c"/>
<rect x="387.55" y="300.60" width="5.02" height="4.08" fill="#6f8081"/>
<rect x="392.52" y="300.60" width="5.02" height="4.08" fill="#434d4e"/>
<rect x="397.49" y="300.60" width="5.02" height="4.08" fill="#0d0e0e"/>
<rect x="402.46" y="300.60" width="5.02" height="4.08" fill="#566767"/>
<rect x="407.43" y="300.60" width="5.02" height="4.08" fill="#d1d4d4"/>
<rect x="412.40" y="300.60" width="5.02" height="4.08" fill="#b0b6b7"/>
<rect x="417.37" y="300.60" width="5.02" height="4.08" fill="#617374"/>
<rect x="422.34" y="300.60" width="5.02" height="4.08" fill="#617374"/>
<rect x="427.31" y="300.60" width="5.02" height="4.08" fill="#434d4e"/>
<rect x="432.28" y="300.60" width="5.02" height="4.08" fill="#617374"/>
<rect x="437.25" y="300.60" width="5.02" height="4.08" fill="#8e9b9c"/>
<rect x="442.22" y="300.60" width="5.02" height="4.08" fill="#9fa9a9"/>
<rect x="447.19" y="300.60" width="5.02" height="4.08" fill="#7e8e8f"/>
<rect x="452.16" y="300.60" width="5.02" height="4.08" fill="#697b7c"/>
<rect x="457.13" y="300.60" width="5.02" height="4.08" fill="#4a5758"/>
<rect x="313.00" y="304.63" width="5.02" height="4.08" fill="#9fa9a9"/>
<rect x="317.97" y="304.63" width="5.02" height="4.08" fill="#8e9b9c"/>
<rect x="322.94" y="304.63" width="5.02" height="4.08" fill="#6f8081"/>
<rect x="327.91" y="304.63" width="5.02" height="4.08" fill="#434d4e"/>
<rect x="332.88" y="304.63" width="5.02" height="4.08" fill="#2f3435"/>
<rect x="337.85" y="304.63" width="5.02" height="4.08" fill="#617374"/>
<rect x="342.82" y="304.63" width="5.02" height="4.08" fill="#b0b6b7"/>
<rect x="347.79" y="304.63" width="5.02" height="4.08" fill="#9fa9a9"/>
<rect x="352.76" y="304.63" width="5.02" height="4.08" fill="#7e8e8f"/>
<rect x="357.73" y="304.63" width="5.02" height="4.08" fill="#4c5a5b"/>
<rect x="362.70" y="304.63" width="5.02" height="4.08" fill="#394141"/>
<rect x="367.67" y="304.63" width="5.02" height="4.08" fill="#2f3435"/>
<rect x="372.64" y="304.63" width="5.02" height="4.08" fill="#9fa9a9"/>
<rect x="377.61" y="304.63" width="5.02" height="4.08" fill="#b0b6b7"/>
<rect x="382.58" y="304.63" width="5.02" height="4.08" fill="#7e8e8f"/>
<rect x="387.55" y="304.63" width="5.02" height="4.08" fill="#617374"/>
<rect x="392.52" y="304.63" width="5.02" height="4.08" fill="#434d4e"/>
<rect x="397.49" y="304.63" width="5.02" height="4.08" fill="#0d0e0e"/>
<rect x="402.46" y="304.63" width="5.02" height="4.08" fill="#6f8081"/>
<rect x="407.43" y="304.63" width="5.02" height="4.08" fill="#ebebeb"/>
<rect x="412.40" y="304.63" width="5.02" height="4.08" fill="#b0b6b7"/>
<rect x="417.37" y="304.63" width="5.02" height="4.08" fill="#6f8081"/>
<rect x="422.34" y="304.63" width="5.02" height="4.08" fill="#617374"/>
<rect x="427.31" y="304.63" width="5.02" height="4.08" fill="#566767"/>
<rect x="432.28" y="304.63" width="5.02" height="4.08" fill="#617374"/>
<rect x="437.25" y="304.63" width="5.02" height="4.08" fill="#8e9b9c"/>
<rect x="442.22" y="304.63" width="5.02" height="4.08" fill="#8e9b9c"/>
<rect x="447.19" y="304.63" width="5.02" height="4.08" fill="#7e8e8f"/>
<rect x="452.16" y="304.63" width="5.02" height="4.08" fill="#5d6e6f"/>
<rect x="457.13" y="304.63" width="5.02" height="4.08" fill="#373f3f"/>
<rect x="313.00" y="308.67" width="5.02" height="4.08" fill="#8e9b9c"/>
<rect x="317.97" y="308.67" width="5.02" height="4.08" fill="#9fa9a9"/>
<rect x="322.94" y="308.67" width="5.02" height="4.08" fill="#617374"/>
<rect x="327.91" y="308.67" width="5.02" height="4.08" fill="#4c5a5b"/>
<rect x="332.88" y="308.67" width="5.02" height="4.08" fill="#434d4e"/>
<rect x="337.85" y="308.67" width="5.02" height="4.08" fill="#617374"/>
<rect x="342.82" y="308.67" width="5.02" height="4.08" fill="#b0b6b7"/>
<rect x="347.79" y="308.67" width="5.02" height="4.08" fill="#9fa9a9"/>
<rect x="352.76" y="308.67" width="5.02" height="4.08" fill="#6f8081"/>
<rect x="357.73" y="308.67" width="5.02" height="4.08" fill="#434d4e"/>
<rect x="362.70" y="308.67" width="5.02" height="4.08" fill="#2f3435"/>
<rect x="367.67" y="308.67" width="5.02" height="4.08" fill="#394141"/>
<rect x="372.64" y="308.67" width="5.02" height="4.08" fill="#9fa9a9"/>
<rect x="377.61" y="308.67" width="5.02" height="4.08" fill="#b0b6b7"/>
<rect x="382.58" y="308.67" width="5.02" height="4.08" fill="#7e8e8f"/>
<rect x="387.55" y="308.67" width="5.02" height="4.08" fill="#566767"/>
<rect x="392.52" y="308.67" width="5.02" height="4.08" fill="#434d4e"/>
<rect x="397.49" y="308.67" width="5.02" height="4.08" fill="#191b1b"/>
<rect x="402.46" y="308.67" width="5.02" height="4.08" fill="#4c5a5b"/>
<rect x="407.43" y="308.67" width="5.02" height="4.08" fill="#f8f8f8"/>
<rect x="412.40" y="308.67" width="5.02" height="4.08" fill="#b0b6b7"/>
<rect x="417.37" y="308.67" width="5.02" height="4.08" fill="#6f8081"/>
<rect x="422.34" y="308.67" width="5.02" height="4.08" fill="#617374"/>
<rect x="427.31" y="308.67" width="5.02" height="4.08" fill="#566767"/>
<rect x="432.28" y="308.67" width="5.02" height="4.08" fill="#617374"/>
<rect x="437.25" y="308.67" width="5.02" height="4.08" fill="#6f8081"/>
<rect x="442.22" y="308.67" width="5.02" height="4.08" fill="#7e8e8f"/>
<rect x="447.19" y="308.67" width="5.02" height="4.08" fill="#7e8e8f"/>
<rect x="452.16" y="308.67" width="5.02" height="4.08" fill="#697b7c"/>
<rect x="457.13" y="308.67" width="5.02" height="4.08" fill="#4a5758"/>
<rect x="313.00" y="312.71" width="5.02" height="4.08" fill="#8e9b9c"/>
<rect x="317.97" y="312.71" width="5.02" height="4.08" fill="#7e8e8f"/>
<rect x="322.94" y="312.71" width="5.02" height="4.08" fill="#6f8081"/>
<rect x="327.91" y="312.71" width="5.02" height="4.08" fill="#394141"/>
<rect x="332.88" y="312.71" width="5.02" height="4.08" fill="#434d4e"/>
<rect x="337.85" y="312.71" width="5.02" height="4.08" fill="#566767"/>
<rect x="342.82" y="312.71" width="5.02" height="4.08" fill="#bfc4c4"/>
<rect x="347.79" y="312.71" width="5.02" height="4.08" fill="#b0b6b7"/>
<rect x="352.76" y="312.71" width="5.02" height="4.08" fill="#6f8081"/>
<rect x="357.73" y="312.71" width="5.02" height="4.08" fill="#434d4e"/>
<rect x="362.70" y="312.71" width="5.02" height="4.08" fill="#434d4e"/>
<rect x="367.67" y="312.71" width="5.02" height="4.08" fill="#434d4e"/>
<rect x="372.64" y="312.71" width="5.02" height="4.08" fill="#9fa9a9"/>
<rect x="377.61" y="312.71" width="5.02" height="4.08" fill="#b0b6b7"/>
<rect x="382.58" y="312.71" width="5.02" height="4.08" fill="#8e9b9c"/>
<rect x="387.55" y="312.71" width="5.02" height="4.08" fill="#566767"/>
<rect x="392.52" y="312.71" width="5.02" height="4.08" fill="#4c5a5b"/>
<rect x="397.49" y="312.71" width="5.02" height="4.08" fill="#191b1b"/>
<rect x="402.46" y="312.71" width="5.02" height="4.08" fill="#617374"/>
<rect x="407.43" y="312.71" width="5.02" height="4.08" fill="#d1d4d4"/>
<rect x="412.40" y="312.71" width="5.02" height="4.08" fill="#9fa9a9"/>
<rect x="417.37" y="312.71" width="5.02" height="4.08" fill="#617374"/>
<rect x="422.34" y="312.71" width="5.02" height="4.08" fill="#4c5a5b"/>
<rect x="427.31" y="312.71" width="5.02" height="4.08" fill="#4c5a5b"/>
<rect x="432.28" y="312.71" width="5.02" height="4.08" fill="#617374"/>
<rect x="437.25" y="312.71" width="5.02" height="4.08" fill="#9fa9a9"/>
<rect x="442.22" y="312.71" width="5.02" height="4.08" fill="#8e9b9c"/>
<rect x="447.19" y="312.71" width="5.02" height="4.08" fill="#617374"/>
<rect x="452.16" y="312.71" width="5.02" height="4.08" fill="#5d6e6f"/>
<rect x="457.13" y="312.71" width="5.02" height="4.08" fill="#4a5758"/>
<rect x="313.00" y="316.74" width="5.02" height="4.08" fill="#8e9b9c"/>
<rect x="317.97" y="316.74" width="5.02" height="4.08" fill="#7e8e8f"/>
<rect x="322.94" y="316.74" width="5.02" height="4.08" fill="#6f8081"/>
<rect x="327.91" y="316.74" width="5.02" height="4.08" fill="#434d4e"/>
<rect x="332.88" y="316.74" width="5.02" height="4.08" fill="#2f3435"/>
<rect x="337.85" y="316.74" width="5.02" height="4.08" fill="#566767"/>
<rect x="342.82" y="316.74" width="5.02" height="4.08" fill="#b0b6b7"/>
<rect x="347.79" y="316.74" width="5.02" height="4.08" fill="#b0b6b7"/>
<rect x="352.76" y="316.74" width="5.02" height="4.08" fill="#6f8081"/>
<rect x="357.73" y="316.74" width="5.02" height="4.08" fill="#4c5a5b"/>
<rect x="362.70" y="316.74" width="5.02" height="4.08" fill="#434d4e"/>
<rect x="367.67" y="316.74" width="5.02" height="4.08" fill="#4c5a5b"/>
<rect x="372.64" y="316.74" width="5.02" height="4.08" fill="#9fa9a9"/>
<rect x="377.61" y="316.74" width="5.02" height="4.08" fill="#9fa9a9"/>
<rect x="382.58" y="316.74" width="5.02" height="4.08" fill="#8e9b9c"/>
<rect x="387.55" y="316.74" width="5.02" height="4.08" fill="#6f8081"/>
<rect x="392.52" y="316.74" width="5.02" height="4.08" fill="#394141"/>
<rect x="397.49" y="316.74" width="5.02" height="4.08" fill="#191b1b"/>
<rect x="402.46" y="316.74" width="5.02" height="4.08" fill="#617374"/>
<rect x="407.43" y="316.74" width="5.02" height="4.08" fill="#d1d4d4"/>
<rect x="412.40" y="316.74" width="5.02" height="4.08" fill="#9fa9a9"/>
<rect x="417.37" y="316.74" width="5.02" height="4.08" fill="#617374"/>
<rect x="422.34" y="316.74" width="5.02" height="4.08" fill="#4c5a5b"/>
<rect x="427.31" y="316.74" width="5.02" height="4.08" fill="#4c5a5b"/>
<rect x="432.28" y="316.74" width="5.02" height="4.08" fill="#617374"/>
<rect x="437.25" y="316.74" width="5.02" height="4.08" fill="#9fa9a9"/>
<rect x="442.22" y="316.74" width="5.02" height="4.08" fill="#9fa9a9"/>
<rect x="447.19" y="316.74" width="5.02" height="4.08" fill="#8e9b9c"/>
<rect x="452.16" y="316.74" width="5.02" height="4.08" fill="#697b7c"/>
<rect x="457.13" y="316.74" width="5.02" height="4.08" fill="#4a5758"/>
<rect x="313.00" y="320.77" width="5.02" height="4.08" fill="#8e9b9c"/>
<rect x="317.97" y="320.77" width="5.02" height="4.08" fill="#8e9b9c"/>
<rect x="322.94" y="320.77" width="5.02" height="4.08" fill="#617374"/>
<rect x="327.91" y="320.77" width="5.02" height="4.08" fill="#434d4e"/>
<rect x="332.88" y="320.77" width="5.02" height="4.08" fill="#252828"/>
<rect x="337.85" y="320.77" width="5.02" height="4.08" fill="#566767"/>
<rect x="342.82" y="320.77" width="5.02" height="4.08" fill="#b0b6b7"/>
<rect x="347.79" y="320.77" width="5.02" height="4.08" fill="#b0b6b7"/>
<rect x="352.76" y="320.77" width="5.02" height="4.08" fill="#6f8081"/>
<rect x="357.73" y="320.77" width="5.02" height="4.08" fill="#4c5a5b"/>
<rect x="362.70" y="320.77" width="5.02" height="4.08" fill="#434d4e"/>
<rect x="367.67" y="320.77" width="5.02" height="4.08" fill="#4c5a5b"/>
<rect x="372.64" y="320.77" width="5.02" height="4.08" fill="#9fa9a9"/>
<rect x="377.61" y="320.77" width="5.02" height="4.08" fill="#bfc4c4"/>
<rect x="382.58" y="320.77" width="5.02" height="4.08" fill="#8e9b9c"/>
<rect x="387.55" y="320.77" width="5.02" height="4.08" fill="#7e8e8f"/>
<rect x="392.52" y="320.77" width="5.02" height="4.08" fill="#394141"/>
<rect x="397.49" y="320.77" width="5.02" height="4.08" fill="#191b1b"/>
<rect x="402.46" y="320.77" width="5.02" height="4.08" fill="#617374"/>
<rect x="407.43" y="320.77" width="5.02" height="4.08" fill="#d1d4d4"/>
<rect x="412.40" y="320.77" width="5.02" height="4.08" fill="#9fa9a9"/>
<rect x="417.37" y="320.77" width="5.02" height="4.08" fill="#6f8081"/>
<rect x="422.34" y="320.77" width="5.02" height="4.08" fill="#566767"/>
<rect x="427.31" y="320.77" width="5.02" height="4.08" fill="#4c5a5b"/>
<rect x="432.28" y="320.77" width="5.02" height="4.08" fill="#566767"/>
<rect x="437.25" y="320.77" width="5.02" height="4.08" fill="#9fa9a9"/>
<rect x="442.22" y="320.77" width="5.02" height="4.08" fill="#8e9b9c"/>
<rect x="447.19" y="320.77" width="5.02" height="4.08" fill="#617374"/>
<rect x="452.16" y="320.77" width="5.02" height="4.08" fill="#526162"/>
<rect x="457.13" y="320.77" width="5.02" height="4.08" fill="#414b4c"/>
<rect x="313.00" y="324.81" width="5.02" height="4.08" fill="#b0b6b7"/>
<rect x="317.97" y="324.81" width="5.02" height="4.08" fill="#8e9b9c"/>
<rect x="322.94" y="324.81" width="5.02" height="4.08" fill="#6f8081"/>
<rect x="327.91" y="324.81" width="5.02" height="4.08" fill="#434d4e"/>
<rect x="332.88" y="324.81" width="5.02" height="4.08" fill="#2f3435"/>
<rect x="337.85" y="324.81" width="5.02" height="4.08" fill="#566767"/>
<rect x="342.82" y="324.81" width="5.02" height="4.08" fill="#b0b6b7"/>
<rect x="347.79" y="324.81" width="5.02" height="4.08" fill="#b0b6b7"/>
<rect x="352.76" y="324.81" width="5.02" height="4.08" fill="#6f8081"/>
<rect x="357.73" y="324.81" width="5.02" height="4.08" fill="#4c5a5b"/>
<rect x="362.70" y="324.81" width="5.02" height="4.08" fill="#434d4e"/>
<rect x="367.67" y="324.81" width="5.02" height="4.08" fill="#4c5a5b"/>
<rect x="372.64" y="324.81" width="5.02" height="4.08" fill="#b0b6b7"/>
<rect x="377.61" y="324.81" width="5.02" height="4.08" fill="#bfc4c4"/>
<rect x="382.58" y="324.81" width="5.02" height="4.08" fill="#7e8e8f"/>
<rect x="387.55" y="324.81" width="5.02" height="4.08" fill="#617374"/>
<rect x="392.52" y="324.81" width="5.02" height="4.08" fill="#394141"/>
<rect x="397.49" y="324.81" width="5.02" height="4.08" fill="#2f3435"/>
<rect x="402.46" y="324.81" width="5.02" height="4.08" fill="#617374"/>
<rect x="407.43" y="324.81" width="5.02" height="4.08" fill="#d1d4d4"/>
<rect x="412.40" y="324.81" width="5.02" height="4.08" fill="#9fa9a9"/>
<rect x="417.37" y="324.81" width="5.02" height="4.08" fill="#6f8081"/>
<rect x="422.34" y="324.81" width="5.02" height="4.08" fill="#566767"/>
<rect x="427.31" y="324.81" width="5.02" height="4.08" fill="#566767"/>
<rect x="432.28" y="324.81" width="5.02" height="4.08" fill="#566767"/>
<rect x="437.25" y="324.81" width="5.02" height="4.08" fill="#8e9b9c"/>
<rect x="442.22" y="324.81" width="5.02" height="4.08" fill="#9fa9a9"/>
<rect x="447.19" y="324.81" width="5.02" height="4.08" fill="#7e8e8f"/>
<rect x="452.16" y="324.81" width="5.02" height="4.08" fill="#697b7c"/>
<rect x="457.13" y="324.81" width="5.02" height="4.08" fill="#414b4c"/>
<rect x="313.00" y="328.85" width="5.02" height="4.08" fill="#9fa9a9"/>
<rect x="317.97" y="328.85" width="5.02" height="4.08" fill="#7e8e8f"/>
<rect x="322.94" y="328.85" width="5.02" height="4.08" fill="#7e8e8f"/>
<rect x="327.91" y="328.85" width="5.02" height="4.08" fill="#4c5a5b"/>
<rect x="332.88" y="328.85" width="5.02" height="4.08" fill="#2f3435"/>
<rect x="337.85" y="328.85" width="5.02" height="4.08" fill="#6f8081"/>
<rect x="342.82" y="328.85" width="5.02" height="4.08" fill="#b0b6b7"/>
<rect x="347.79" y="328.85" width="5.02" height="4.08" fill="#8e9b9c"/>
<rect x="352.76" y="328.85" width="5.02" height="4.08" fill="#7e8e8f"/>
<rect x="357.73" y="328.85" width="5.02" height="4.08" fill="#4c5a5b"/>
<rect x="362.70" y="328.85" width="5.02" height="4.08" fill="#434d4e"/>
<rect x="367.67" y="328.85" width="5.02" height="4.08" fill="#434d4e"/>
<rect x="372.64" y="328.85" width="5.02" height="4.08" fill="#b0b6b7"/>
<rect x="377.61" y="328.85" width="5.02" height="4.08" fill="#bfc4c4"/>
<rect x="382.58" y="328.85" width="5.02" height="4.08" fill="#7e8e8f"/>
<rect x="387.55" y="328.85" width="5.02" height="4.08" fill="#617374"/>
<rect x="392.52" y="328.85" width="5.02" height="4.08" fill="#434d4e"/>
<rect x="397.49" y="328.85" width="5.02" height="4.08" fill="#394141"/>
<rect x="402.46" y="328.85" width="5.02" height="4.08" fill="#617374"/>
<rect x="407.43" y="328.85" width="5.02" height="4.08" fill="#d1d4d4"/>
<rect x="412.40" y="328.85" width="5.02" height="4.08" fill="#9fa9a9"/>
<rect x="417.37" y="328.85" width="5.02" height="4.08" fill="#6f8081"/>
<rect x="422.34" y="328.85" width="5.02" height="4.08" fill="#617374"/>
<rect x="427.31" y="328.85" width="5.02" height="4.08" fill="#434d4e"/>
<rect x="432.28" y="328.85" width="5.02" height="4.08" fill="#566767"/>
<rect x="437.25" y="328.85" width="5.02" height="4.08" fill="#8e9b9c"/>
<rect x="442.22" y="328.85" width="5.02" height="4.08" fill="#9fa9a9"/>
<rect x="447.19" y="328.85" width="5.02" height="4.08" fill="#6f8081"/>
<rect x="452.16" y="328.85" width="5.02" height="4.08" fill="#5d6e6f"/>
<rect x="457.13" y="328.85" width="5.02" height="4.08" fill="#373f3f"/>
<rect x="313.00" y="332.88" width="5.02" height="4.08" fill="#9fa9a9"/>
<rect x="317.97" y="332.88" width="5.02" height="4.08" fill="#8e9b9c"/>
<rect x="322.94" y="332.88" width="5.02" height="4.08" fill="#566767"/>
<rect x="327.91" y="332.88" width="5.02" height="4.08" fill="#4c5a5b"/>
<rect x="332.88" y="332.88" width="5.02" height="4.08" fill="#394141"/>
<rect x="337.85" y="332.88" width="5.02" height="4.08" fill="#617374"/>
<rect x="342.82" y="332.88" width="5.02" height="4.08" fill="#b0b6b7"/>
<rect x="347.79" y="332.88" width="5.02" height="4.08" fill="#9fa9a9"/>
<rect x="352.76" y="332.88" width="5.02" height="4.08" fill="#6f8081"/>
<rect x="357.73" y="332.88" width="5.02" height="4.08" fill="#4c5a5b"/>
<rect x="362.70" y="332.88" width="5.02" height="4.08" fill="#394141"/>
<rect x="367.67" y="332.88" width="5.02" height="4.08" fill="#394141"/>
<rect x="372.64" y="332.88" width="5.02" height="4.08" fill="#8e9b9c"/>
<rect x="377.61" y="332.88" width="5.02" height="4.08" fill="#bfc4c4"/>
<rect x="382.58" y="332.88" width="5.02" height="4.08" fill="#7e8e8f"/>
<rect x="387.55" y="332.88" width="5.02" height="4.08" fill="#617374"/>
<rect x="392.52" y="332.88" width="5.02" height="4.08" fill="#2f3435"/>
<rect x="397.49" y="332.88" width="5.02" height="4.08" fill="#2f3435"/>
<rect x="402.46" y="332.88" width="5.02" height="4.08" fill="#4c5a5b"/>
<rect x="407.43" y="332.88" width="5.02" height="4.08" fill="#d1d4d4"/>
<rect x="412.40" y="332.88" width="5.02" height="4.08" fill="#9fa9a9"/>
<rect x="417.37" y="332.88" width="5.02" height="4.08" fill="#6f8081"/>
<rect x="422.34" y="332.88" width="5.02" height="4.08" fill="#617374"/>
<rect x="427.31" y="332.88" width="5.02" height="4.08" fill="#434d4e"/>
<rect x="432.28" y="332.88" width="5.02" height="4.08" fill="#566767"/>
<rect x="437.25" y="332.88" width="5.02" height="4.08" fill="#7e8e8f"/>
<rect x="442.22" y="332.88" width="5.02" height="4.08" fill="#7e8e8f"/>
<rect x="447.19" y="332.88" width="5.02" height="4.08" fill="#7e8e8f"/>
<rect x="452.16" y="332.88" width="5.02" height="4.08" fill="#697b7c"/>
<rect x="457.13" y="332.88" width="5.02" height="4.08" fill="#414b4c"/>
<rect x="313.00" y="336.92" width="5.02" height="4.08" fill="#8e9b9c"/>
<rect x="317.97" y="336.92" width="5.02" height="4.08" fill="#8e9b9c"/>
<rect x="322.94" y="336.92" width="5.02" height="4.08" fill="#6f8081"/>
<rect x="327.91" y="336.92" width="5.02" height="4.08" fill="#394141"/>
<rect x="332.88" y="336.92" width="5.02" height="4.08" fill="#2f3435"/>
<rect x="337.85" y="336.92" width="5.02" height="4.08" fill="#617374"/>
<rect x="342.82" y="336.92" width="5.02" height="4.08" fill="#bfc4c4"/>
<rect x="347.79" y="336.92" width="5.02" height="4.08" fill="#b0b6b7"/>
<rect x="352.76" y="336.92" width="5.02" height="4.08" fill="#7e8e8f"/>
<rect x="357.73" y="336.92" width="5.02" height="4.08" fill="#434d4e"/>
<rect x="362.70" y="336.92" width="5.02" height="4.08" fill="#4c5a5b"/>
<rect x="367.67" y="336.92" width="5.02" height="4.08" fill="#4c5a5b"/>
<rect x="372.64" y="336.92" width="5.02" height="4.08" fill="#b0b6b7"/>
<rect x="377.61" y="336.92" width="5.02" height="4.08" fill="#bfc4c4"/>
<rect x="382.58" y="336.92" width="5.02" height="4.08" fill="#6f8081"/>
<rect x="387.55" y="336.92" width="5.02" height="4.08" fill="#617374"/>
<rect x="392.52" y="336.92" width="5.02" height="4.08" fill="#394141"/>
<rect x="397.49" y="336.92" width="5.02" height="4.08" fill="#2f3435"/>
<rect x="402.46" y="336.92" width="5.02" height="4.08" fill="#6f8081"/>
<rect x="407.43" y="336.92" width="5.02" height="4.08" fill="#d1d4d4"/>
<rect x="412.40" y="336.92" width="5.02" height="4.08" fill="#9fa9a9"/>
<rect x="417.37" y="336.92" width="5.02" height="4.08" fill="#617374"/>
<rect x="422.34" y="336.92" width="5.02" height="4.08" fill="#566767"/>
<rect x="427.31" y="336.92" width="5.02" height="4.08" fill="#4c5a5b"/>
<rect x="432.28" y="336.92" width="5.02" height="4.08" fill="#566767"/>
<rect x="437.25" y="336.92" width="5.02" height="4.08" fill="#8e9b9c"/>
<rect x="442.22" y="336.92" width="5.02" height="4.08" fill="#8e9b9c"/>
<rect x="447.19" y="336.92" width="5.02" height="4.08" fill="#6f8081"/>
<rect x="452.16" y="336.92" width="5.02" height="4.08" fill="#5d6e6f"/>
<rect x="457.13" y="336.92" width="5.02" height="4.08" fill="#414b4c"/>
<rect x="313.00" y="340.95" width="5.02" height="4.08" fill="#b0b6b7"/>
<rect x="317.97" y="340.95" width="5.02" height="4.08" fill="#9fa9a9"/>
<rect x="322.94" y="340.95" width="5.02" height="4.08" fill="#6f8081"/>
<rect x="327.91" y="340.95" width="5.02" height="4.08" fill="#434d4e"/>
<rect x="332.88" y="340.95" width="5.02" height="4.08" fill="#2f3435"/>
<rect x="337.85" y="340.95" width="5.02" height="4.08" fill="#6f8081"/>
<rect x="342.82" y="340.95" width="5.02" height="4.08" fill="#bfc4c4"/>
<rect x="347.79" y="340.95" width="5.02" height="4.08" fill="#cfd1d1"/>
<rect x="352.76" y="340.95" width="5.02" height="4.08" fill="#6f8081"/>
<rect x="357.73" y="340.95" width="5.02" height="4.08" fill="#566767"/>
<rect x="362.70" y="340.95" width="5.02" height="4.08" fill="#434d4e"/>
<rect x="367.67" y="340.95" width="5.02" height="4.08" fill="#4c5a5b"/>
<rect x="372.64" y="340.95" width="5.02" height="4.08" fill="#b0b6b7"/>
<rect x="377.61" y="340.95" width="5.02" height="4.08" fill="#bfc4c4"/>
<rect x="382.58" y="340.95" width="5.02" height="4.08" fill="#8e9b9c"/>
<rect x="387.55" y="340.95" width="5.02" height="4.08" fill="#6f8081"/>
<rect x="392.52" y="340.95" width="5.02" height="4.08" fill="#434d4e"/>
<rect x="397.49" y="340.95" width="5.02" height="4.08" fill="#191b1b"/>
<rect x="402.46" y="340.95" width="5.02" height="4.08" fill="#617374"/>
<rect x="407.43" y="340.95" width="5.02" height="4.08" fill="#c3c6c7"/>
<rect x="412.40" y="340.95" width="5.02" height="4.08" fill="#9fa9a9"/>
<rect x="417.37" y="340.95" width="5.02" height="4.08" fill="#6f8081"/>
<rect x="422.34" y="340.95" width="5.02" height="4.08" fill="#566767"/>
<rect x="427.31" y="340.95" width="5.02" height="4.08" fill="#4c5a5b"/>
<rect x="432.28" y="340.95" width="5.02" height="4.08" fill="#4c5a5b"/>
<rect x="437.25" y="340.95" width="5.02" height="4.08" fill="#7e8e8f"/>
<rect x="442.22" y="340.95" width="5.02" height="4.08" fill="#8e9b9c"/>
<rect x="447.19" y="340.95" width="5.02" height="4.08" fill="#8e9b9c"/>
<rect x="452.16" y="340.95" width="5.02" height="4.08" fill="#526162"/>
<rect x="457.13" y="340.95" width="5.02" height="4.08" fill="#373f3f"/>
<rect x="313.00" y="344.99" width="5.02" height="4.08" fill="#9fa9a9"/>
<rect x="317.97" y="344.99" width="5.02" height="4.08" fill="#8e9b9c"/>
<rect x="322.94" y="344.99" width="5.02" height="4.08" fill="#6f8081"/>
<rect x="327.91" y="344.99" width="5.02" height="4.08" fill="#434d4e"/>
<rect x="332.88" y="344.99" width="5.02" height="4.08" fill="#394141"/>
<rect x="337.85" y="344.99" width="5.02" height="4.08" fill="#617374"/>
<rect x="342.82" y="344.99" width="5.02" height="4.08" fill="#bfc4c4"/>
<rect x="347.79" y="344.99" width="5.02" height="4.08" fill="#8e9b9c"/>
<rect x="352.76" y="344.99" width="5.02" height="4.08" fill="#7e8e8f"/>
<rect x="357.73" y="344.99" width="5.02" height="4.08" fill="#566767"/>
<rect x="362.70" y="344.99" width="5.02" height="4.08" fill="#434d4e"/>
<rect x="367.67" y="344.99" width="5.02" height="4.08" fill="#4c5a5b"/>
<rect x="372.64" y="344.99" width="5.02" height="4.08" fill="#b0b6b7"/>
<rect x="377.61" y="344.99" width="5.02" height="4.08" fill="#b0b6b7"/>
<rect x="382.58" y="344.99" width="5.02" height="4.08" fill="#7e8e8f"/>
<rect x="387.55" y="344.99" width="5.02" height="4.08" fill="#6f8081"/>
<rect x="392.52" y="344.99" width="5.02" height="4.08" fill="#434d4e"/>
<rect x="397.49" y="344.99" width="5.02" height="4.08" fill="#191b1b"/>
<rect x="402.46" y="344.99" width="5.02" height="4.08" fill="#566767"/>
<rect x="407.43" y="344.99" width="5.02" height="4.08" fill="#c3c6c7"/>
<rect x="412.40" y="344.99" width="5.02" height="4.08" fill="#9fa9a9"/>
<rect x="417.37" y="344.99" width="5.02" height="4.08" fill="#617374"/>
<rect x="422.34" y="344.99" width="5.02" height="4.08" fill="#566767"/>
<rect x="427.31" y="344.99" width="5.02" height="4.08" fill="#4c5a5b"/>
<rect x="432.28" y="344.99" width="5.02" height="4.08" fill="#6f8081"/>
<rect x="437.25" y="344.99" width="5.02" height="4.08" fill="#8e9b9c"/>
<rect x="442.22" y="344.99" width="5.02" height="4.08" fill="#8e9b9c"/>
<rect x="447.19" y="344.99" width="5.02" height="4.08" fill="#617374"/>
<rect x="452.16" y="344.99" width="5.02" height="4.08" fill="#5d6e6f"/>
<rect x="457.13" y="344.99" width="5.02" height="4.08" fill="#2d3232"/>
<rect x="313.00" y="349.02" width="5.02" height="4.08" fill="#8e9b9c"/>
<rect x="317.97" y="349.02" width="5.02" height="4.08" fill="#8e9b9c"/>
<rect x="322.94" y="349.02" width="5.02" height="4.08" fill="#6f8081"/>
<rect x="327.91" y="349.02" width="5.02" height="4.08" fill="#4c5a5b"/>
<rect x="332.88" y="349.02" width="5.02" height="4.08" fill="#2f3435"/>
<rect x="337.85" y="349.02" width="5.02" height="4.08" fill="#617374"/>
<rect x="342.82" y="349.02" width="5.02" height="4.08" fill="#b0b6b7"/>
<rect x="347.79" y="349.02" width="5.02" height="4.08" fill="#8e9b9c"/>
<rect x="352.76" y="349.02" width="5.02" height="4.08" fill="#6f8081"/>
<rect x="357.73" y="349.02" width="5.02" height="4.08" fill="#4c5a5b"/>
<rect x="362.70" y="349.02" width="5.02" height="4.08" fill="#434d4e"/>
<rect x="367.67" y="349.02" width="5.02" height="4.08" fill="#4c5a5b"/>
<rect x="372.64" y="349.02" width="5.02" height="4.08" fill="#8e9b9c"/>
<rect x="377.61" y="349.02" width="5.02" height="4.08" fill="#bfc4c4"/>
<rect x="382.58" y="349.02" width="5.02" height="4.08" fill="#9fa9a9"/>
<rect x="387.55" y="349.02" width="5.02" height="4.08" fill="#617374"/>
<rect x="392.52" y="349.02" width="5.02" height="4.08" fill="#434d4e"/>
<rect x="397.49" y="349.02" width="5.02" height="4.08" fill="#252828"/>
<rect x="402.46" y="349.02" width="5.02" height="4.08" fill="#617374"/>
<rect x="407.43" y="349.02" width="5.02" height="4.08" fill="#d1d4d4"/>
<rect x="412.40" y="349.02" width="5.02" height="4.08" fill="#bfc4c4"/>
<rect x="417.37" y="349.02" width="5.02" height="4.08" fill="#6f8081"/>
<rect x="422.34" y="349.02" width="5.02" height="4.08" fill="#566767"/>
<rect x="427.31" y="349.02" width="5.02" height="4.08" fill="#4c5a5b"/>
<rect x="432.28" y="349.02" width="5.02" height="4.08" fill="#6f8081"/>
<rect x="437.25" y="349.02" width="5.02" height="4.08" fill="#9fa9a9"/>
<rect x="442.22" y="349.02" width="5.02" height="4.08" fill="#8e9b9c"/>
<rect x="447.19" y="349.02" width="5.02" height="4.08" fill="#617374"/>
<rect x="452.16" y="349.02" width="5.02" height="4.08" fill="#526162"/>
<rect x="457.13" y="349.02" width="5.02" height="4.08" fill="#2d3232"/>
<rect x="313.00" y="353.06" width="5.02" height="4.08" fill="#9fa9a9"/>
<rect x="317.97" y="353.06" width="5.02" height="4.08" fill="#8e9b9c"/>
<rect x="322.94" y="353.06" width="5.02" height="4.08" fill="#6f8081"/>
<rect x="327.91" y="353.06" width="5.02" height="4.08" fill="#4c5a5b"/>
<rect x="332.88" y="353.06" width="5.02" height="4.08" fill="#394141"/>
<rect x="337.85" y="353.06" width="5.02" height="4.08" fill="#617374"/>
<rect x="342.82" y="353.06" width="5.02" height="4.08" fill="#9fa9a9"/>
<rect x="347.79" y="353.06" width="5.02" height="4.08" fill="#9fa9a9"/>
<rect x="352.76" y="353.06" width="5.02" height="4.08" fill="#6f8081"/>
<rect x="357.73" y="353.06" width="5.02" height="4.08" fill="#566767"/>
<rect x="362.70" y="353.06" width="5.02" height="4.08" fill="#434d4e"/>
<rect x="367.67" y="353.06" width="5.02" height="4.08" fill="#434d4e"/>
<rect x="372.64" y="353.06" width="5.02" height="4.08" fill="#9fa9a9"/>
<rect x="377.61" y="353.06" width="5.02" height="4.08" fill="#b0b6b7"/>
<rect x="382.58" y="353.06" width="5.02" height="4.08" fill="#8e9b9c"/>
<rect x="387.55" y="353.06" width="5.02" height="4.08" fill="#6f8081"/>
<rect x="392.52" y="353.06" width="5.02" height="4.08" fill="#434d4e"/>
<rect x="397.49" y="353.06" width="5.02" height="4.08" fill="#252828"/>
<rect x="402.46" y="353.06" width="5.02" height="4.08" fill="#6f8081"/>
<rect x="407.43" y="353.06" width="5.02" height="4.08" fill="#f8f8f8"/>
<rect x="412.40" y="353.06" width="5.02" height="4.08" fill="#9fa9a9"/>
<rect x="417.37" y="353.06" width="5.02" height="4.08" fill="#6f8081"/>
<rect x="422.34" y="353.06" width="5.02" height="4.08" fill="#6f8081"/>
<rect x="427.31" y="353.06" width="5.02" height="4.08" fill="#566767"/>
<rect x="432.28" y="353.06" width="5.02" height="4.08" fill="#617374"/>
<rect x="437.25" y="353.06" width="5.02" height="4.08" fill="#8e9b9c"/>
<rect x="442.22" y="353.06" width="5.02" height="4.08" fill="#8e9b9c"/>
<rect x="447.19" y="353.06" width="5.02" height="4.08" fill="#6f8081"/>
<rect x="452.16" y="353.06" width="5.02" height="4.08" fill="#526162"/>
<rect x="457.13" y="353.06" width="5.02" height="4.08" fill="#232525"/>
<rect x="313.00" y="357.09" width="5.02" height="4.08" fill="#7e8e8f"/>
<rect x="317.97" y="357.09" width="5.02" height="4.08" fill="#7e8e8f"/>
<rect x="322.94" y="357.09" width="5.02" height="4.08" fill="#617374"/>
<rect x="327.91" y="357.09" width="5.02" height="4.08" fill="#4c5a5b"/>
<rect x="332.88" y="357.09" width="5.02" height="4.08" fill="#2f3435"/>
<rect x="337.85" y="357.09" width="5.02" height="4.08" fill="#617374"/>
<rect x="342.82" y="357.09" width="5.02" height="4.08" fill="#b0b6b7"/>
<rect x="347.79" y="357.09" width="5.02" height="4.08" fill="#9fa9a9"/>
<rect x="352.76" y="357.09" width="5.02" height="4.08" fill="#617374"/>
<rect x="357.73" y="357.09" width="5.02" height="4.08" fill="#566767"/>
<rect x="362.70" y="357.09" width="5.02" height="4.08" fill="#394141"/>
<rect x="367.67" y="357.09" width="5.02" height="4.08" fill="#4c5a5b"/>
<rect x="372.64" y="357.09" width="5.02" height="4.08" fill="#b0b6b7"/>
<rect x="377.61" y="357.09" width="5.02" height="4.08" fill="#bfc4c4"/>
<rect x="382.58" y="357.09" width="5.02" height="4.08" fill="#8e9b9c"/>
<rect x="387.55" y="357.09" width="5.02" height="4.08" fill="#6f8081"/>
<rect x="392.52" y="357.09" width="5.02" height="4.08" fill="#394141"/>
<rect x="397.49" y="357.09" width="5.02" height="4.08" fill="#252828"/>
<rect x="402.46" y="357.09" width="5.02" height="4.08" fill="#617374"/>
<rect x="407.43" y="357.09" width="5.02" height="4.08" fill="#f8f8f8"/>
<rect x="412.40" y="357.09" width="5.02" height="4.08" fill="#9fa9a9"/>
<rect x="417.37" y="357.09" width="5.02" height="4.08" fill="#6f8081"/>
<rect x="422.34" y="357.09" width="5.02" height="4.08" fill="#617374"/>
<rect x="427.31" y="357.09" width="5.02" height="4.08" fill="#566767"/>
<rect x="432.28" y="357.09" width="5.02" height="4.08" fill="#617374"/>
<rect x="437.25" y="357.09" width="5.02" height="4.08" fill="#8e9b9c"/>
<rect x="442.22" y="357.09" width="5.02" height="4.08" fill="#8e9b9c"/>
<rect x="447.19" y="357.09" width="5.02" height="4.08" fill="#617374"/>
<rect x="452.16" y="357.09" width="5.02" height="4.08" fill="#5d6e6f"/>
<rect x="457.13" y="357.09" width="5.02" height="4.08" fill="#373f3f"/>
<rect x="313.00" y="361.12" width="5.02" height="4.08" fill="#7e8e8f"/>
<rect x="317.97" y="361.12" width="5.02" height="4.08" fill="#8e9b9c"/>
<rect x="322.94" y="361.12" width="5.02" height="4.08" fill="#617374"/>
<rect x="327.91" y="361.12" width="5.02" height="4.08" fill="#394141"/>
<rect x="332.88" y="361.12" width="5.02" height="4.08" fill="#394141"/>
<rect x="337.85" y="361.12" width="5.02" height="4.08" fill="#617374"/>
<rect x="342.82" y="361.12" width="5.02" height="4.08" fill="#dddede"/>
<rect x="347.79" y="361.12" width="5.02" height="4.08" fill="#9fa9a9"/>
<rect x="352.76" y="361.12" width="5.02" height="4.08" fill="#617374"/>
<rect x="357.73" y="361.12" width="5.02" height="4.08" fill="#566767"/>
<rect x="362.70" y="361.12" width="5.02" height="4.08" fill="#4c5a5b"/>
<rect x="367.67" y="361.12" width="5.02" height="4.08" fill="#566767"/>
<rect x="372.64" y="361.12" width="5.02" height="4.08" fill="#b0b6b7"/>
<rect x="377.61" y="361.12" width="5.02" height="4.08" fill="#bfc4c4"/>
<rect x="382.58" y="361.12" width="5.02" height="4.08" fill="#8e9b9c"/>
<rect x="387.55" y="361.12" width="5.02" height="4.08" fill="#6f8081"/>
<rect x="392.52" y="361.12" width="5.02" height="4.08" fill="#394141"/>
<rect x="397.49" y="361.12" width="5.02" height="4.08" fill="#252828"/>
<rect x="402.46" y="361.12" width="5.02" height="4.08" fill="#617374"/>
<rect x="407.43" y="361.12" width="5.02" height="4.08" fill="#d1d4d4"/>
<rect x="412.40" y="361.12" width="5.02" height="4.08" fill="#9fa9a9"/>
<rect x="417.37" y="361.12" width="5.02" height="4.08" fill="#6f8081"/>
<rect x="422.34" y="361.12" width="5.02" height="4.08" fill="#566767"/>
<rect x="427.31" y="361.12" width="5.02" height="4.08" fill="#566767"/>
<rect x="432.28" y="361.12" width="5.02" height="4.08" fill="#6f8081"/>
<rect x="437.25" y="361.12" width="5.02" height="4.08" fill="#8e9b9c"/>
<rect x="442.22" y="361.12" width="5.02" height="4.08" fill="#8e9b9c"/>
<rect x="447.19" y="361.12" width="5.02" height="4.08" fill="#617374"/>
<rect x="452.16" y="361.12" width="5.02" height="4.08" fill="#5d6e6f"/>
<rect x="457.13" y="361.12" width="5.02" height="4.08" fill="#414b4c"/>
<rect x="313.00" y="365.16" width="5.02" height="4.08" fill="#8e9b9c"/>
<rect x="317.97" y="365.16" width="5.02" height="4.08" fill="#b0b6b7"/>
<rect x="322.94" y="365.16" width="5.02" height="4.08" fill="#6f8081"/>
<rect x="327.91" y="365.16" width="5.02" height="4.08" fill="#434d4e"/>
<rect x="332.88" y="365.16" width="5.02" height="4.08" fill="#394141"/>
<rect x="337.85" y="365.16" width="5.02" height="4.08" fill="#617374"/>
<rect x="342.82" y="365.16" width="5.02" height="4.08" fill="#b0b6b7"/>
<rect x="347.79" y="365.16" width="5.02" height="4.08" fill="#9fa9a9"/>
<rect x="352.76" y="365.16" width="5.02" height="4.08" fill="#6f8081"/>
<rect x="357.73" y="365.16" width="5.02" height="4.08" fill="#566767"/>
<rect x="362.70" y="365.16" width="5.02" height="4.08" fill="#4c5a5b"/>
<rect x="367.67" y="365.16" width="5.02" height="4.08" fill="#566767"/>
<rect x="372.64" y="365.16" width="5.02" height="4.08" fill="#b0b6b7"/>
<rect x="377.61" y="365.16" width="5.02" height="4.08" fill="#bfc4c4"/>
<rect x="382.58" y="365.16" width="5.02" height="4.08" fill="#8e9b9c"/>
<rect x="387.55" y="365.16" width="5.02" height="4.08" fill="#566767"/>
<rect x="392.52" y="365.16" width="5.02" height="4.08" fill="#394141"/>
<rect x="397.49" y="365.16" width="5.02" height="4.08" fill="#191b1b"/>
<rect x="402.46" y="365.16" width="5.02" height="4.08" fill="#566767"/>
<rect x="407.43" y="365.16" width="5.02" height="4.08" fill="#d1d4d4"/>
<rect x="412.40" y="365.16" width="5.02" height="4.08" fill="#8e9b9c"/>
<rect x="417.37" y="365.16" width="5.02" height="4.08" fill="#617374"/>
<rect x="422.34" y="365.16" width="5.02" height="4.08" fill="#617374"/>
<rect x="427.31" y="365.16" width="5.02" height="4.08" fill="#434d4e"/>
<rect x="432.28" y="365.16" width="5.02" height="4.08" fill="#6f8081"/>
<rect x="437.25" y="365.16" width="5.02" height="4.08" fill="#8e9b9c"/>
<rect x="442.22" y="365.16" width="5.02" height="4.08" fill="#8e9b9c"/>
<rect x="447.19" y="365.16" width="5.02" height="4.08" fill="#7e8e8f"/>
<rect x="452.16" y="365.16" width="5.02" height="4.08" fill="#5d6e6f"/>
<rect x="457.13" y="365.16" width="5.02" height="4.08" fill="#373f3f"/>
<rect x="313.00" y="369.20" width="5.02" height="4.08" fill="#bfc4c4"/>
<rect x="317.97" y="369.20" width="5.02" height="4.08" fill="#8e9b9c"/>
<rect x="322.94" y="369.20" width="5.02" height="4.08" fill="#617374"/>
<rect x="327.91" y="369.20" width="5.02" height="4.08" fill="#434d4e"/>
<rect x="332.88" y="369.20" width="5.02" height="4.08" fill="#191b1b"/>
<rect x="337.85" y="369.20" width="5.02" height="4.08" fill="#566767"/>
<rect x="342.82" y="369.20" width="5.02" height="4.08" fill="#b0b6b7"/>
<rect x="347.79" y="369.20" width="5.02" height="4.08" fill="#b0b6b7"/>
<rect x="352.76" y="369.20" width="5.02" height="4.08" fill="#6f8081"/>
<rect x="357.73" y="369.20" width="5.02" height="4.08" fill="#566767"/>
<rect x="362.70" y="369.20" width="5.02" height="4.08" fill="#434d4e"/>
<rect x="367.67" y="369.20" width="5.02" height="4.08" fill="#4c5a5b"/>
<rect x="372.64" y="369.20" width="5.02" height="4.08" fill="#9fa9a9"/>
<rect x="377.61" y="369.20" width="5.02" height="4.08" fill="#b0b6b7"/>
<rect x="382.58" y="369.20" width="5.02" height="4.08" fill="#7e8e8f"/>
<rect x="387.55" y="369.20" width="5.02" height="4.08" fill="#4c5a5b"/>
<rect x="392.52" y="369.20" width="5.02" height="4.08" fill="#394141"/>
<rect x="397.49" y="369.20" width="5.02" height="4.08" fill="#191b1b"/>
<rect x="402.46" y="369.20" width="5.02" height="4.08" fill="#617374"/>
<rect x="407.43" y="369.20" width="5.02" height="4.08" fill="#c3c6c7"/>
<rect x="412.40" y="369.20" width="5.02" height="4.08" fill="#b0b6b7"/>
<rect x="417.37" y="369.20" width="5.02" height="4.08" fill="#6f8081"/>
<rect x="422.34" y="369.20" width="5.02" height="4.08" fill="#566767"/>
<rect x="427.31" y="369.20" width="5.02" height="4.08" fill="#566767"/>
<rect x="432.28" y="369.20" width="5.02" height="4.08" fill="#6f8081"/>
<rect x="437.25" y="369.20" width="5.02" height="4.08" fill="#8e9b9c"/>
<rect x="442.22" y="369.20" width="5.02" height="4.08" fill="#b0b6b7"/>
<rect x="447.19" y="369.20" width="5.02" height="4.08" fill="#617374"/>
<rect x="452.16" y="369.20" width="5.02" height="4.08" fill="#526162"/>
<rect x="457.13" y="369.20" width="5.02" height="4.08" fill="#2d3232"/>
<rect x="313.00" y="373.23" width="5.02" height="4.08" fill="#9fa9a9"/>
<rect x="317.97" y="373.23" width="5.02" height="4.08" fill="#7e8e8f"/>
<rect x="322.94" y="373.23" width="5.02" height="4.08" fill="#617374"/>
<rect x="327.91" y="373.23" width="5.02" height="4.08" fill="#394141"/>
<rect x="332.88" y="373.23" width="5.02" height="4.08" fill="#191b1b"/>
<rect x="337.85" y="373.23" width="5.02" height="4.08" fill="#4c5a5b"/>
<rect x="342.82" y="373.23" width="5.02" height="4.08" fill="#b0b6b7"/>
<rect x="347.79" y="373.23" width="5.02" height="4.08" fill="#9fa9a9"/>
<rect x="352.76" y="373.23" width="5.02" height="4.08" fill="#566767"/>
<rect x="357.73" y="373.23" width="5.02" height="4.08" fill="#4c5a5b"/>
<rect x="362.70" y="373.23" width="5.02" height="4.08" fill="#394141"/>
<rect x="367.67" y="373.23" width="5.02" height="4.08" fill="#434d4e"/>
<rect x="372.64" y="373.23" width="5.02" height="4.08" fill="#9fa9a9"/>
<rect x="377.61" y="373.23" width="5.02" height="4.08" fill="#9fa9a9"/>
<rect x="382.58" y="373.23" width="5.02" height="4.08" fill="#7e8e8f"/>
<rect x="387.55" y="373.23" width="5.02" height="4.08" fill="#617374"/>
<rect x="392.52" y="373.23" width="5.02" height="4.08" fill="#394141"/>
<rect x="397.49" y="373.23" width="5.02" height="4.08" fill="#191b1b"/>
<rect x="402.46" y="373.23" width="5.02" height="4.08" fill="#566767"/>
<rect x="407.43" y="373.23" width="5.02" height="4.08" fill="#d1d4d4"/>
<rect x="412.40" y="373.23" width="5.02" height="4.08" fill="#9fa9a9"/>
<rect x="417.37" y="373.23" width="5.02" height="4.08" fill="#617374"/>
<rect x="422.34" y="373.23" width="5.02" height="4.08" fill="#566767"/>
<rect x="427.31" y="373.23" width="5.02" height="4.08" fill="#434d4e"/>
<rect x="432.28" y="373.23" width="5.02" height="4.08" fill="#8e9b9c"/>
<rect x="437.25" y="373.23" width="5.02" height="4.08" fill="#7e8e8f"/>
<rect x="442.22" y="373.23" width="5.02" height="4.08" fill="#8e9b9c"/>
<rect x="447.19" y="373.23" width="5.02" height="4.08" fill="#4c5a5b"/>
<rect x="452.16" y="373.23" width="5.02" height="4.08" fill="#485556"/>
<rect x="457.13" y="373.23" width="5.02" height="4.08" fill="#232525"/>
</g>
<rect x="304.30" y="219.40" width="167.60" height="157.90" fill="none" stroke="#a8a8a8" stroke-width="1"/>
<text x="310.50" y="388.8" font-size="8" text-anchor="middle" fill="#262626">0</text>
<text x="335.35" y="388.8" font-size="8" text-anchor="middle" fill="#262626">5</text>
<text x="360.20" y="388.8" font-size="8" text-anchor="middle" fill="#262626">10</text>
<text x="385.05" y="388.8" font-size="8" text-anchor="middle" fill="#262626">15</text>
<text x="409.90" y="388.8" font-size="8" text-anchor="middle" fill="#262626">20</text>
<text x="434.75" y="388.8" font-size="8" text-anchor="middle" fill="#262626">25</text>
<text x="459.60" y="388.8" font-size="8" text-anchor="middle" fill="#262626">30</text>
<text x="301.70" y="241.66" font-size="8" text-anchor="end" fill="#262626">5</text>
<text x="301.70" y="261.83" font-size="8" text-anchor="end" fill="#262626">10</text>
<text x="301.70" y="282.01" font-size="8" text-anchor="end" fill="#262626">15</text>
<text x="301.70" y="302.18" font-size="8" text-anchor="end" fill="#262626">20</text>
<text x="301.70" y="322.36" font-size="8" text-anchor="end" fill="#262626">25</text>
<text x="301.70" y="342.53" font-size="8" text-anchor="end" fill="#262626">30</text>
<text x="301.70" y="362.71" font-size="8" text-anchor="end" fill="#262626">35</text>
<path d="M310.50 377.30v-1.6M310.50 219.40v1.6M335.35 377.30v-1.6M335.35 219.40v1.6M360.20 377.30v-1.6M360.20 219.40v1.6M385.05 377.30v-1.6M385.05 219.40v1.6M409.90 377.30v-1.6M409.90 219.40v1.6M434.75 377.30v-1.6M434.75 219.40v1.6M459.60 377.30v-1.6M459.60 219.40v1.6M304.30 238.06h1.6M471.90 238.06h-1.6M304.30 258.23h1.6M471.90 258.23h-1.6M304.30 278.41h1.6M471.90 278.41h-1.6M304.30 298.58h1.6M471.90 298.58h-1.6M304.30 318.76h1.6M471.90 318.76h-1.6M304.30 338.93h1.6M471.90 338.93h-1.6M304.30 359.11h1.6M471.90 359.11h-1.6" stroke="#a8a8a8" stroke-width="1" fill="none"/>
<text x="317.00" y="211.3" font-size="8.45" font-weight="bold" fill="#1a1a1a">ACE<tspan font-size="4.5" dx="0.9" dy="2.6">*</tspan><tspan dx="0.9" dy="-2.6" font-style="italic">X</tspan> (normalized),STD:0.0087004</text>
<text x="388.00" y="400" font-size="8.2" text-anchor="middle" fill="#262626">(d)</text>
<defs><linearGradient id="gd" x1="0" y1="1" x2="0" y2="0">
<stop offset="0.00" stop-color="#000000"/>
<stop offset="0.05" stop-color="#0c0d0d"/>
<stop offset="0.10" stop-color="#181919"/>
<stop offset="0.15" stop-color="#232626"/>
<stop offset="0.20" stop-color="#2e3232"/>
<stop offset="0.25" stop-color="#373f3f"/>
<stop offset="0.30" stop-color="#414b4b"/>
<stop offset="0.35" stop-color="#4a5758"/>
<stop offset="0.40" stop-color="#536364"/>
<stop offset="0.45" stop-color="#5e7071"/>
<stop offset="0.50" stop-color="#6b7d7e"/>
<stop offset="0.55" stop-color="#79898a"/>
<stop offset="0.60" stop-color="#899797"/>
<stop offset="0.65" stop-color="#99a4a5"/>
<stop offset="0.70" stop-color="#a9b1b2"/>
<stop offset="0.75" stop-color="#b9bebf"/>
<stop offset="0.80" stop-color="#c8cbcc"/>
<stop offset="0.85" stop-color="#d7d8d9"/>
<stop offset="0.90" stop-color="#e5e5e5"/>
<stop offset="0.95" stop-color="#f2f2f2"/>
<stop offset="1.00" stop-color="#ffffff"/>
</linearGradient></defs>
<rect x="479.00" y="219.40" width="16.00" height="157.90" fill="url(#gd)" stroke="#a8a8a8" stroke-width="1"/>
<text x="497.40" y="244.37" font-size="6.6" fill="#262626" textLength="13.1" lengthAdjust="spacingAndGlyphs">0.02</text>
<text x="497.40" y="273.35" font-size="6.6" fill="#262626" textLength="13.1" lengthAdjust="spacingAndGlyphs">0.01</text>
<text x="497.40" y="302.32" font-size="6.6" fill="#262626" textLength="3.8" lengthAdjust="spacingAndGlyphs">0</text>
<text x="497.40" y="331.29" font-size="6.6" fill="#262626" textLength="17.6" lengthAdjust="spacingAndGlyphs">−0.01</text>
<text x="497.40" y="360.26" font-size="6.6" fill="#262626" textLength="17.6" lengthAdjust="spacingAndGlyphs">−0.02</text>
<path d="M495.00 242.00h-1.6M495.00 270.97h-1.6M495.00 299.94h-1.6M495.00 328.92h-1.6M495.00 357.89h-1.6" stroke="#a8a8a8" stroke-width="1" fill="none"/>
</svg></body></html>
